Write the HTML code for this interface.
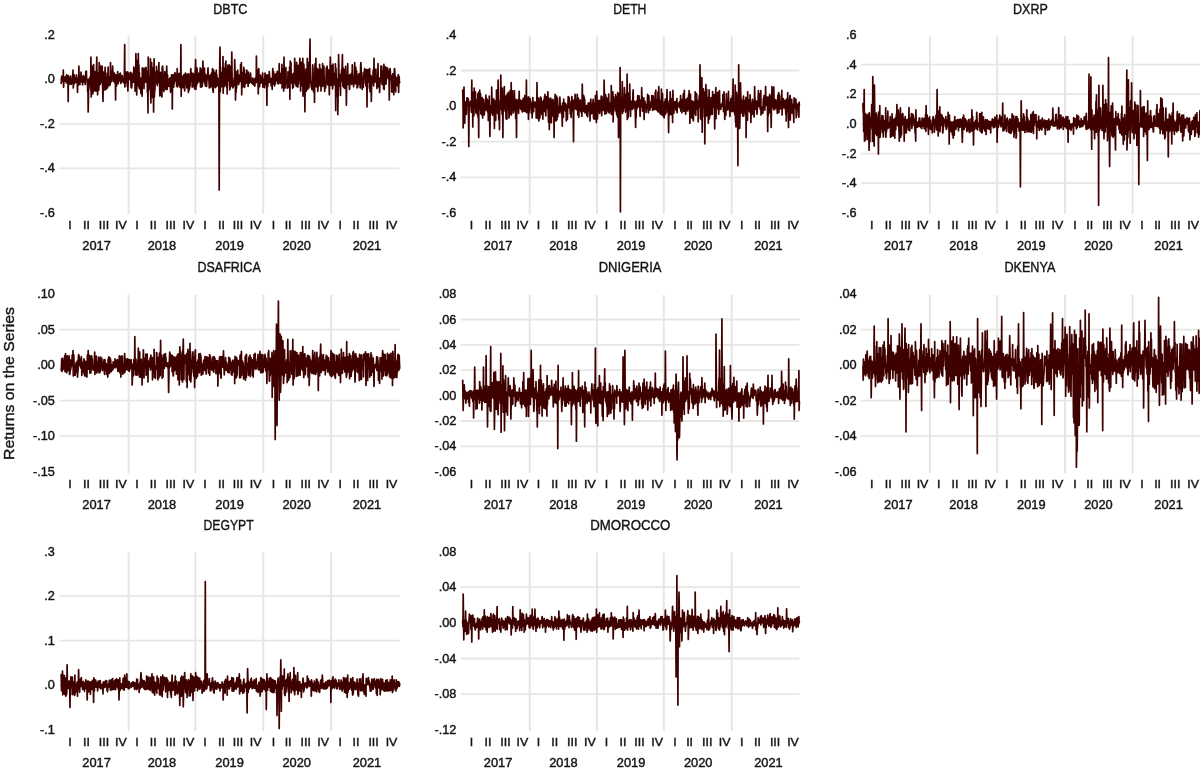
<!DOCTYPE html>
<html lang="en"><head><meta charset="utf-8"><title>Returns on the Series</title>
<style>html,body{margin:0;padding:0;background:#fff}svg{display:block}text{font-family:"Liberation Sans",sans-serif;fill:#141414;stroke:#141414;stroke-width:0.4px}</style></head>
<body>
<svg width="1200" height="771" viewBox="0 0 1200 771">
<rect width="1200" height="771" fill="#fff"/>
<text transform="translate(14.2,383.5) rotate(-90)" text-anchor="middle" font-size="15.5" textLength="153" lengthAdjust="spacingAndGlyphs">Returns on the Series</text>
<g>
<text transform="translate(230.3,13.7) scale(0.835,1)" text-anchor="middle" font-size="15">DBTC</text>
<path d="M59.3 79.4H399.7M59.3 123.9H399.7M59.3 168.4H399.7" stroke="#e6e6e6" stroke-width="1.8" fill="none"/>
<path d="M128.6 35.7V214.1M195.4 35.7V214.1M263.2 35.7V214.1M331.2 35.7V214.1" stroke="#e6e6e6" stroke-width="2" fill="none"/>
<text transform="translate(54.9,38.9) scale(1.06,1)" text-anchor="end" font-size="12">.2</text><text transform="translate(54.9,83.4) scale(1.06,1)" text-anchor="end" font-size="12">.0</text><text transform="translate(54.9,127.9) scale(1.06,1)" text-anchor="end" font-size="12">-.2</text><text transform="translate(54.9,172.4) scale(1.06,1)" text-anchor="end" font-size="12">-.4</text><text transform="translate(54.9,216.9) scale(1.06,1)" text-anchor="end" font-size="12">-.6</text>
<text transform="translate(70.0,229.2) scale(1.09,1)" text-anchor="middle" font-size="11.4">I</text><text transform="translate(86.5,229.2) scale(1.09,1)" text-anchor="middle" font-size="11.4">II</text><text transform="translate(104.0,229.2) scale(1.09,1)" text-anchor="middle" font-size="11.4">III</text><text transform="translate(120.8,229.2) scale(1.09,1)" text-anchor="middle" font-size="11.4">IV</text><text transform="translate(137.0,229.2) scale(1.09,1)" text-anchor="middle" font-size="11.4">I</text><text transform="translate(153.3,229.2) scale(1.09,1)" text-anchor="middle" font-size="11.4">II</text><text transform="translate(170.8,229.2) scale(1.09,1)" text-anchor="middle" font-size="11.4">III</text><text transform="translate(188.3,229.2) scale(1.09,1)" text-anchor="middle" font-size="11.4">IV</text><text transform="translate(205.0,229.2) scale(1.09,1)" text-anchor="middle" font-size="11.4">I</text><text transform="translate(221.5,229.2) scale(1.09,1)" text-anchor="middle" font-size="11.4">II</text><text transform="translate(238.0,229.2) scale(1.09,1)" text-anchor="middle" font-size="11.4">III</text><text transform="translate(255.6,229.2) scale(1.09,1)" text-anchor="middle" font-size="11.4">IV</text><text transform="translate(273.4,229.2) scale(1.09,1)" text-anchor="middle" font-size="11.4">I</text><text transform="translate(288.1,229.2) scale(1.09,1)" text-anchor="middle" font-size="11.4">II</text><text transform="translate(305.8,229.2) scale(1.09,1)" text-anchor="middle" font-size="11.4">III</text><text transform="translate(323.2,229.2) scale(1.09,1)" text-anchor="middle" font-size="11.4">IV</text><text transform="translate(340.3,229.2) scale(1.09,1)" text-anchor="middle" font-size="11.4">I</text><text transform="translate(355.9,229.2) scale(1.09,1)" text-anchor="middle" font-size="11.4">II</text><text transform="translate(373.6,229.2) scale(1.09,1)" text-anchor="middle" font-size="11.4">III</text><text transform="translate(391.5,229.2) scale(1.09,1)" text-anchor="middle" font-size="11.4">IV</text>
<text transform="translate(96.6,249.8) scale(1.07,1)" text-anchor="middle" font-size="12">2017</text><text transform="translate(161.9,249.8) scale(1.07,1)" text-anchor="middle" font-size="12">2018</text><text transform="translate(229.6,249.8) scale(1.07,1)" text-anchor="middle" font-size="12">2019</text><text transform="translate(296.7,249.8) scale(1.07,1)" text-anchor="middle" font-size="12">2020</text><text transform="translate(366.9,249.8) scale(1.07,1)" text-anchor="middle" font-size="12">2021</text>
<polyline points="61.2,83.5 61.5,78.4 61.7,76.1 62,80 62.3,76.6 62.5,77.9 62.8,78.8 63.1,81.9 63.3,70 63.6,87.2 63.9,80.6 64.1,78.2 64.4,80.9 64.7,77.1 64.9,77.5 65.2,79.7 65.5,81 65.8,76.5 66,80.7 66.3,82.9 66.6,74.8 66.8,75.1 67.1,80.2 67.4,82.3 67.6,78.9 67.9,76.8 68.2,101.5 68.4,75.6 68.7,80.5 69,79.2 69.2,78.8 69.5,84.2 69.8,81.9 70,77.1 70.3,77.3 70.6,80.8 70.8,76 71.1,84.4 71.4,83.4 71.6,82.9 71.9,80.9 72.2,81.2 72.4,79.4 72.7,81 73,70 73.3,88 73.5,82.1 73.8,78.3 74.1,84.1 74.3,74.9 74.6,83 74.9,81.1 75.1,82.4 75.4,82.1 75.7,79 75.9,77.7 76.2,82.5 76.5,75.1 76.7,79.7 77,82.8 77.3,82.8 77.5,92.5 77.8,78.5 78.1,79.3 78.3,85.2 78.6,83 78.9,66.2 79.1,76.5 79.4,75.3 79.7,83.7 79.9,84.6 80.2,77.9 80.5,80.3 80.7,81.1 81,72 81.3,80.7 81.6,76.3 81.8,82.1 82.1,77 82.4,81.4 82.6,85 82.9,76.5 83.2,82.4 83.4,75.5 83.7,76 84,77.5 84.2,78.9 84.5,79.3 84.8,81 85,82.8 85.3,84.5 85.6,77.7 85.8,71.3 86.1,80.7 86.4,71.2 86.6,79.4 86.9,79.7 87.2,79.4 87.4,80.7 87.7,92.1 88,91.8 88.2,112 88.5,93.1 88.8,79.1 89.1,81.3 89.3,82.9 89.6,78.3 89.9,79.2 90.1,76.8 90.4,85.5 90.7,90 90.9,57.2 91.2,97 91.5,89.1 91.7,82.4 92,89.8 92.3,66.3 92.5,73.7 92.8,94 93.1,80.5 93.3,91.8 93.6,64.6 93.9,90.6 94.1,88.2 94.4,81.3 94.7,90.7 94.9,71.6 95.2,79.6 95.5,72 95.7,73.1 96,91.1 96.3,88.7 96.5,68.7 96.8,57.2 97.1,88.8 97.4,80.6 97.6,94.8 97.9,78.5 98.2,73.2 98.4,75.9 98.7,90.4 99,84.4 99.2,62.5 99.5,82.8 99.8,65.1 100,82.1 100.3,84.3 100.6,73.7 100.8,78 101.1,82.2 101.4,66.7 101.6,80.7 101.9,76.2 102.2,66.2 102.4,82 102.7,88.8 103,101.5 103.2,85.2 103.5,72.1 103.8,81.1 104,79.5 104.3,83.3 104.6,74.4 104.9,90.1 105.1,67.3 105.4,88.3 105.7,78.5 105.9,73 106.2,89.2 106.5,79.8 106.7,77.4 107,87.4 107.3,77.9 107.5,88 107.8,80 108.1,67 108.3,75.8 108.6,79.5 108.9,81.3 109.1,85.8 109.4,81.9 109.7,80.4 109.9,76.5 110.2,84.8 110.5,62.5 110.7,80.6 111,82 111.3,81.6 111.5,75.9 111.8,77.3 112.1,71.1 112.3,77 112.6,66.2 112.9,71.2 113.2,81.2 113.4,76.6 113.7,80.1 114,75.2 114.2,81.9 114.5,73.2 114.8,77.1 115,83.3 115.3,77.2 115.6,100 115.8,79 116.1,75 116.4,74.9 116.6,85.9 116.9,78.5 117.2,80.6 117.4,77.9 117.7,71.5 118,78 118.2,83.6 118.5,78.2 118.8,81.6 119,78.1 119.3,79.8 119.6,75.3 119.8,73.7 120.1,80.7 120.4,73 120.7,78 120.9,83.5 121.2,79.9 121.5,81.7 121.7,80.5 122,79.6 122.3,75.5 122.5,81.4 122.8,81.7 123.1,80.2 123.3,81.4 123.6,82.8 123.9,78.8 124.1,81.7 124.4,71.7 124.7,44.5 124.9,87 125.2,80.9 125.5,80.1 125.7,71.8 126,82.4 126.3,80.8 126.5,72.9 126.8,73 127.1,75.7 127.3,86.6 127.6,71.9 127.9,91 128.2,81.5 128.4,77.4 128.7,73.4 129,78.4 129.2,79.6 129.5,76.4 129.8,73.3 130,73 130.3,79 130.6,72.4 130.8,77.7 131.1,87.4 131.4,73.1 131.6,88 131.9,85.2 132.2,75.6 132.4,80.9 132.7,81.4 133,82.2 133.2,73.4 133.5,79.2 133.8,67.2 134,76.3 134.3,82.3 134.6,70 134.8,69.1 135.1,91.2 135.4,71.7 135.6,81.4 135.9,53.5 136.2,74.4 136.5,60.2 136.7,94.8 137,71.6 137.3,83.9 137.5,85.6 137.8,80.8 138.1,74.4 138.3,53.5 138.6,86 138.9,64.9 139.1,87.9 139.4,72.7 139.7,88.8 139.9,77.9 140.2,86.3 140.5,78.5 140.7,87 141,93.7 141.3,78.1 141.5,83.8 141.8,79.8 142.1,96.2 142.3,67.9 142.6,69.5 142.9,73.4 143.1,69.1 143.4,68.5 143.7,76.6 144,88.7 144.2,75.9 144.5,78.9 144.8,76.9 145,70.4 145.3,67.7 145.6,82.3 145.8,78.5 146.1,67.5 146.4,80.4 146.6,71.2 146.9,71.9 147.2,78.6 147.4,92.4 147.7,77.2 148,112.8 148.2,57.2 148.5,90.7 148.8,77.1 149,76.1 149.3,80.7 149.6,84.6 149.8,85.2 150.1,88.7 150.4,58.8 150.6,92.9 150.9,103 151.2,77.9 151.4,62.5 151.7,62.5 152,97.4 152.3,74.3 152.5,74.3 152.8,70.4 153.1,67.6 153.3,81.6 153.6,112 153.9,79.3 154.1,58.8 154.4,97.2 154.7,85 154.9,90.8 155.2,79.6 155.5,76.4 155.7,82.9 156,71.7 156.3,81.8 156.5,66.3 156.8,83.2 157.1,76.6 157.3,85.6 157.6,79.6 157.9,71 158.1,80.6 158.4,81 158.7,72.8 158.9,62.5 159.2,83.1 159.5,75.1 159.8,95.8 160,77.4 160.3,90.9 160.6,72.4 160.8,95.5 161.1,79.2 161.4,90.2 161.6,78.1 161.9,97 162.2,67.1 162.4,78.6 162.7,66.2 163,75.4 163.2,87.4 163.5,90.4 163.8,77.2 164,91.6 164.3,78.3 164.6,80.5 164.8,71.7 165.1,82 165.4,74.5 165.6,80.2 165.9,89.5 166.2,81.1 166.4,80.1 166.7,66.2 167,78.2 167.2,89.5 167.5,74.7 167.8,80.8 168.1,86.5 168.3,80.6 168.6,84.8 168.9,79.3 169.1,80.5 169.4,86.5 169.7,78.4 169.9,85.4 170.2,77.8 170.5,92.3 170.7,78.8 171,83.7 171.3,82.4 171.5,75.2 171.8,82.2 172.1,74.5 172.3,109 172.6,75.1 172.9,86.9 173.1,75.9 173.4,85.7 173.7,87.2 173.9,74.5 174.2,83.6 174.5,78.5 174.7,75.2 175,72.7 175.3,79.7 175.6,80.5 175.8,81.1 176.1,79.5 176.4,74.3 176.6,86.5 176.9,80.5 177.2,68.5 177.4,75.3 177.7,87 178,73.6 178.2,79.1 178.5,84.1 178.8,84.9 179,82.8 179.3,81.1 179.6,73.3 179.8,85 180.1,87.3 180.4,85.4 180.6,81.5 180.9,44.5 181.2,96.2 181.4,79.2 181.7,75.7 182,76.3 182.2,78.7 182.5,81.6 182.8,87.9 183,82 183.3,80.1 183.6,77.1 183.9,75.3 184.1,74.4 184.4,85.2 184.7,91 184.9,78.1 185.2,79.2 185.5,73 185.7,81 186,74.9 186.3,81 186.5,82.2 186.8,88 187.1,76.3 187.3,74 187.6,76 187.9,81 188.1,76.1 188.4,92.5 188.7,73.9 188.9,90.6 189.2,81.7 189.5,88.9 189.7,82.1 190,86.3 190.3,80.2 190.5,76 190.8,68.5 191.1,77.3 191.4,80.8 191.6,73.9 191.9,73.2 192.2,87.2 192.4,73.5 192.7,74.3 193,73.3 193.2,77.6 193.5,86.4 193.8,74.3 194,80.8 194.3,77.5 194.6,88.8 194.8,74.6 195.1,73.8 195.4,67.9 195.6,59.5 195.9,89.5 196.2,68.7 196.4,86.2 196.7,68 197,68.1 197.2,74.2 197.5,83.5 197.8,78.5 198,75 198.3,77.2 198.6,75.1 198.8,73 199.1,81.6 199.4,78.6 199.7,79.8 199.9,78.1 200.2,67.8 200.5,86.8 200.7,78.7 201,68.8 201.3,87.2 201.5,83 201.8,82 202.1,74.9 202.3,86.3 202.6,78 202.9,61 203.1,69.6 203.4,79.7 203.7,70.7 203.9,81.5 204.2,77.7 204.5,68.1 204.7,83.1 205,73.6 205.3,85.9 205.5,85.9 205.8,75.2 206.1,79.1 206.3,81.2 206.6,86.5 206.9,81.3 207.2,77.6 207.4,74.8 207.7,73.6 208,67.8 208.2,74.6 208.5,75.4 208.8,77.1 209,81.8 209.3,88 209.6,80.3 209.8,80.6 210.1,87.6 210.4,74.9 210.6,79.3 210.9,86.8 211.2,74.6 211.4,75 211.7,72.9 212,86.4 212.2,76.5 212.5,68.5 212.8,90.8 213,82.8 213.3,92.5 213.6,70 213.8,77.7 214.1,72 214.4,82.3 214.6,74.8 214.9,86.9 215.2,73.9 215.5,87.7 215.7,72.9 216,80 216.3,70 216.5,86.3 216.8,74.8 217.1,85.7 217.3,77.7 217.6,83.1 217.9,78.3 218.1,79.3 218.4,83.8 218.7,86.4 218.9,88.6 219.2,190 219.5,78.2 219.7,64.2 220,47.2 220.3,91.8 220.5,66.8 220.8,87.4 221.1,72.9 221.3,82.7 221.6,72.6 221.9,80.7 222.1,86.4 222.4,85.9 222.7,85.9 223,56.5 223.2,93.2 223.5,78.2 223.8,77.6 224,68.1 224.3,86.5 224.6,84.6 224.8,84 225.1,85 225.4,63.6 225.6,82.6 225.9,61 226.2,81.5 226.4,84.2 226.7,87.3 227,74.5 227.2,94 227.5,77.2 227.8,66.9 228,65.1 228.3,67.3 228.6,80.7 228.8,80.1 229.1,64.8 229.4,71.8 229.6,84.9 229.9,89.9 230.2,82 230.4,66.3 230.7,79.8 231,86.7 231.3,83.4 231.5,73.4 231.8,52 232.1,80.7 232.3,77.8 232.6,80.9 232.9,88 233.1,86.2 233.4,86 233.7,83.2 233.9,82.8 234.2,85.7 234.5,74.9 234.7,59.5 235,69.5 235.3,79.9 235.5,100 235.8,86.2 236.1,92.2 236.3,77.6 236.6,88.1 236.9,71.5 237.1,75.1 237.4,74.5 237.7,70.1 237.9,80.1 238.2,79.8 238.5,84.7 238.8,84 239,82.3 239.3,75.1 239.6,81 239.8,76.5 240.1,77.6 240.4,81.5 240.6,64.6 240.9,78.3 241.2,72.7 241.4,62.5 241.7,94.8 242,77.1 242.2,72.3 242.5,83.8 242.8,74.5 243,86.8 243.3,82 243.6,80.4 243.8,67.4 244.1,79.5 244.4,69.7 244.6,87.4 244.9,83.3 245.2,78.2 245.4,83.5 245.7,74 246,83.5 246.3,74.8 246.5,83 246.8,70 247.1,74.6 247.3,82.3 247.6,77.5 247.9,79.1 248.1,86.5 248.4,72.1 248.7,77.2 248.9,79.7 249.2,79.1 249.5,83 249.7,78.3 250,77.5 250.3,76.4 250.5,73 250.8,78 251.1,82.3 251.3,78.6 251.6,80.7 251.9,83.5 252.1,80.9 252.4,79.2 252.7,81.4 252.9,78.1 253.2,84.4 253.5,84.7 253.7,79.9 254,84.4 254.3,81.4 254.6,85.8 254.8,86.1 255.1,78.2 255.4,81.4 255.6,79.6 255.9,79.6 256.2,82.7 256.4,56.2 256.7,77.4 257,69.5 257.2,70.8 257.5,75.7 257.8,79.5 258,82.7 258.3,94 258.6,78.7 258.8,68.5 259.1,85.5 259.4,79.6 259.6,86.6 259.9,78.9 260.2,77.1 260.4,75.2 260.7,78.2 261,83.1 261.2,81.6 261.5,79.3 261.8,80.6 262.1,78.3 262.3,78.6 262.6,73 262.9,87.2 263.1,78.5 263.4,84.9 263.7,80.9 263.9,87 264.2,79.3 264.5,87.7 264.7,84.2 265,73.1 265.3,77.2 265.5,76 265.8,84.2 266.1,75.2 266.3,81.2 266.6,82.5 266.9,105.2 267.1,78.9 267.4,74.8 267.7,86.7 267.9,83.8 268.2,82 268.5,79 268.7,81.9 269,79.8 269.3,71.5 269.5,75.6 269.8,82.4 270.1,81.6 270.4,79.1 270.6,79.9 270.9,78.3 271.2,86 271.4,79 271.7,80.3 272,83.9 272.2,89.5 272.5,78.5 272.8,68.5 273,79.7 273.3,81.1 273.6,71.6 273.8,83.9 274.1,79.7 274.4,81.3 274.6,86 274.9,78.9 275.2,83.9 275.4,74.5 275.7,74 276,76.9 276.2,75.9 276.5,80.6 276.8,74.6 277,73 277.3,71.4 277.6,83.5 277.9,82.7 278.1,77 278.4,84 278.7,72 278.9,81.3 279.2,63.7 279.5,80.9 279.7,76.3 280,74 280.3,83.4 280.5,81.4 280.8,80.6 281.1,73.1 281.3,80.4 281.6,80.2 281.9,64.4 282.1,88 282.4,74.6 282.7,78.8 282.9,73 283.2,71.6 283.5,68.6 283.7,91 284,57.2 284.3,75.2 284.5,82.8 284.8,71.8 285.1,88 285.3,73.7 285.6,80.3 285.9,67.5 286.2,83.3 286.4,81.8 286.7,81.4 287,81.8 287.2,88.2 287.5,79.5 287.8,84.1 288,71.8 288.3,72.2 288.6,87.5 288.8,79.3 289.1,78 289.4,84.3 289.6,66.9 289.9,99.2 290.2,61 290.4,81.9 290.7,73.1 291,62.7 291.2,82.8 291.5,76 291.8,76.4 292,74 292.3,79.4 292.6,88.3 292.8,84.6 293.1,74.4 293.4,87.3 293.7,73.1 293.9,76.7 294.2,75.6 294.5,73.8 294.7,58.3 295,73.3 295.3,83.9 295.5,77.3 295.8,78.4 296.1,83 296.3,86.5 296.6,62.3 296.9,74 297.1,85.1 297.4,84.4 297.7,69.3 297.9,87.1 298.2,65.3 298.5,84.1 298.7,78.2 299,79.6 299.3,79.9 299.5,73.5 299.8,58.3 300.1,62.7 300.3,69 300.6,91 300.9,79.6 301.1,67.6 301.4,82.6 301.7,62.3 302,77.1 302.2,79.8 302.5,86.1 302.8,58.3 303,96.2 303.3,80.3 303.6,85.2 303.8,64.2 304.1,70 304.4,83.3 304.6,73.4 304.9,111.7 305.2,73.6 305.4,85.8 305.7,79.8 306,69 306.2,91.5 306.5,82.1 306.8,82 307,87.3 307.3,58.3 307.6,89.4 307.8,82.9 308.1,62.3 308.4,87.3 308.6,79.3 308.9,88 309.2,80 309.5,81.1 309.7,62.3 310,39.2 310.3,80.8 310.5,82.5 310.8,81.4 311.1,84.8 311.3,87.1 311.6,84.2 311.9,89.4 312.1,85 312.4,74.2 312.7,64.9 312.9,68 313.2,87.7 313.5,91.8 313.7,78.9 314,83.3 314.3,78.4 314.5,102.2 314.8,70.8 315.1,63.7 315.3,85.6 315.6,79.9 315.9,58.3 316.1,72.8 316.4,86.9 316.7,75.7 316.9,81.8 317.2,68.6 317.5,78.5 317.8,91.4 318,83.9 318.3,87.1 318.6,69.9 318.8,86.2 319.1,84.1 319.4,84.9 319.6,64.3 319.9,75.4 320.2,81.2 320.4,76.7 320.7,69.2 321,91 321.2,78.1 321.5,70.7 321.8,79.5 322,69.4 322.3,86.3 322.6,63.7 322.8,86.2 323.1,81.3 323.4,68 323.6,78.3 323.9,66 324.2,81.4 324.4,82.4 324.7,91.4 325,85.2 325.3,83 325.5,88 325.8,86.4 326.1,75.7 326.3,67.8 326.6,78.2 326.9,82.7 327.1,66.2 327.4,74.8 327.7,84.8 327.9,70.2 328.2,72.9 328.5,77.9 328.7,69.8 329,81 329.3,94.8 329.5,78.4 329.8,80.7 330.1,70.9 330.3,57.2 330.6,71.3 330.9,85.5 331.1,66.8 331.4,65.6 331.7,79.2 331.9,84.8 332.2,65.5 332.5,88.8 332.7,88.1 333,64 333.3,85.1 333.6,77.4 333.8,82.6 334.1,83.5 334.4,73.6 334.6,78.8 334.9,80.1 335.2,85.7 335.4,63.9 335.7,110.5 336,68.2 336.2,78.3 336.5,80.7 336.8,78.8 337,79.1 337.3,96.6 337.6,78.6 337.8,114.5 338.1,97.9 338.4,73.1 338.6,54.7 338.9,71.5 339.2,81.7 339.4,85.7 339.7,75.2 340,86.4 340.2,82.7 340.5,95.5 340.8,74.2 341.1,81.4 341.3,76.5 341.6,69.6 341.9,73.3 342.1,68.1 342.4,54.7 342.7,79.1 342.9,86.2 343.2,67.8 343.5,81.1 343.7,87.4 344,85.1 344.3,69.5 344.5,88.3 344.8,84.1 345.1,77.3 345.3,87.5 345.6,66.4 345.9,78.8 346.1,83.8 346.4,105.2 346.7,80.5 346.9,85.9 347.2,77.1 347.5,77.2 347.7,63.7 348,83.6 348.3,80.2 348.6,84.7 348.8,78.8 349.1,75.5 349.4,88.7 349.6,89.5 349.9,74.7 350.2,80 350.4,82.1 350.7,83.7 351,77.7 351.2,82.6 351.5,73.2 351.8,84.5 352,80.5 352.3,64.8 352.6,82 352.8,77.4 353.1,77.3 353.4,76.1 353.6,86.8 353.9,79.7 354.2,82.6 354.4,78.2 354.7,62.5 355,78.4 355.2,83.9 355.5,80.5 355.8,67.3 356,75.5 356.3,80.2 356.6,70.8 356.9,82.8 357.1,88 357.4,80.2 357.7,87.3 357.9,82.6 358.2,79.5 358.5,74.7 358.7,84.3 359,73.7 359.3,77.6 359.5,83.6 359.8,77.7 360.1,86.2 360.3,88 360.6,66.3 360.9,62.5 361.1,68.2 361.4,81.6 361.7,72.4 361.9,73.4 362.2,89.5 362.5,82.8 362.7,82.2 363,82.4 363.3,87.5 363.5,79.7 363.8,76.2 364.1,71.9 364.4,76.5 364.6,68.5 364.9,79.1 365.2,70.9 365.4,83.4 365.7,83.9 366,86.1 366.2,69.6 366.5,77.3 366.8,80.9 367,106.8 367.3,70.2 367.6,82.3 367.8,69.6 368.1,76.1 368.4,69.6 368.6,81.9 368.9,81.8 369.2,74.5 369.4,88.2 369.7,68.5 370,91.6 370.2,79.1 370.5,79.8 370.8,76.9 371,75.6 371.3,101.5 371.6,85.5 371.8,84.2 372.1,81.4 372.4,76.8 372.7,79.1 372.9,80 373.2,69.9 373.5,80.8 373.7,85.9 374,58.3 374.3,81.7 374.5,74.4 374.8,74.2 375.1,82.1 375.3,81.8 375.6,76.1 375.9,69.1 376.1,81.2 376.4,78 376.7,75.1 376.9,88.5 377.2,81.6 377.5,75.9 377.7,82.9 378,63.7 378.3,83.6 378.5,86.8 378.8,87 379.1,78.1 379.3,79.8 379.6,92.5 379.9,83.7 380.2,81.7 380.4,79.8 380.7,78.7 381,65.9 381.2,74 381.5,80.9 381.8,66.7 382,84.2 382.3,70.6 382.6,78.1 382.8,79.9 383.1,85.3 383.4,70.6 383.6,88.7 383.9,64.3 384.2,89.5 384.4,74.7 384.7,84 385,82.7 385.2,70.9 385.5,66.8 385.8,76.3 386,84.2 386.3,79.6 386.6,73.5 386.8,69 387.1,67.8 387.4,69.7 387.6,68.1 387.9,73.4 388.2,78.4 388.5,75.2 388.7,71.7 389,77.2 389.3,100 389.5,74.2 389.8,69.5 390.1,68.5 390.3,70.9 390.6,79 390.9,79.6 391.1,75.7 391.4,80.9 391.7,92 391.9,75.9 392.2,92.1 392.5,82.4 392.7,73.9 393,82.2 393.3,84.7 393.5,79.4 393.8,94.8 394.1,83.6 394.3,69.6 394.6,68.5 394.9,72.7 395.1,81 395.4,77.8 395.7,91.9 396,77 396.2,85.1 396.5,84.9 396.8,79 397,81.4 397.3,85.7 397.6,78.1 397.8,83.1 398.1,76 398.4,74.5 398.6,92.5 398.9,80.5 399.2,76.8 399.4,82.9 399.7,82.2" fill="none" stroke="#3f0000" stroke-width="1.7" stroke-linejoin="round" stroke-linecap="round"/>
</g>
<g>
<text transform="translate(629.8,13.7) scale(0.816,1)" text-anchor="middle" font-size="15">DETH</text>
<path d="M460.8 70.5H799.4M460.8 106.1H799.4M460.8 141.7H799.4M460.8 177.3H799.4" stroke="#e6e6e6" stroke-width="1.8" fill="none"/>
<path d="M529.7 35.7V214.1M597.0 35.7V214.1M663.8 35.7V214.1M731.7 35.7V214.1" stroke="#e6e6e6" stroke-width="2" fill="none"/>
<text transform="translate(456.4,38.9) scale(1.06,1)" text-anchor="end" font-size="12">.4</text><text transform="translate(456.4,74.5) scale(1.06,1)" text-anchor="end" font-size="12">.2</text><text transform="translate(456.4,110.1) scale(1.06,1)" text-anchor="end" font-size="12">.0</text><text transform="translate(456.4,145.7) scale(1.06,1)" text-anchor="end" font-size="12">-.2</text><text transform="translate(456.4,181.3) scale(1.06,1)" text-anchor="end" font-size="12">-.4</text><text transform="translate(456.4,216.9) scale(1.06,1)" text-anchor="end" font-size="12">-.6</text>
<text transform="translate(471.5,229.2) scale(1.09,1)" text-anchor="middle" font-size="11.4">I</text><text transform="translate(488.0,229.2) scale(1.09,1)" text-anchor="middle" font-size="11.4">II</text><text transform="translate(505.5,229.2) scale(1.09,1)" text-anchor="middle" font-size="11.4">III</text><text transform="translate(522.3,229.2) scale(1.09,1)" text-anchor="middle" font-size="11.4">IV</text><text transform="translate(538.5,229.2) scale(1.09,1)" text-anchor="middle" font-size="11.4">I</text><text transform="translate(554.8,229.2) scale(1.09,1)" text-anchor="middle" font-size="11.4">II</text><text transform="translate(572.3,229.2) scale(1.09,1)" text-anchor="middle" font-size="11.4">III</text><text transform="translate(589.8,229.2) scale(1.09,1)" text-anchor="middle" font-size="11.4">IV</text><text transform="translate(606.5,229.2) scale(1.09,1)" text-anchor="middle" font-size="11.4">I</text><text transform="translate(623.0,229.2) scale(1.09,1)" text-anchor="middle" font-size="11.4">II</text><text transform="translate(639.5,229.2) scale(1.09,1)" text-anchor="middle" font-size="11.4">III</text><text transform="translate(657.1,229.2) scale(1.09,1)" text-anchor="middle" font-size="11.4">IV</text><text transform="translate(674.9,229.2) scale(1.09,1)" text-anchor="middle" font-size="11.4">I</text><text transform="translate(689.6,229.2) scale(1.09,1)" text-anchor="middle" font-size="11.4">II</text><text transform="translate(707.3,229.2) scale(1.09,1)" text-anchor="middle" font-size="11.4">III</text><text transform="translate(724.7,229.2) scale(1.09,1)" text-anchor="middle" font-size="11.4">IV</text><text transform="translate(741.8,229.2) scale(1.09,1)" text-anchor="middle" font-size="11.4">I</text><text transform="translate(757.4,229.2) scale(1.09,1)" text-anchor="middle" font-size="11.4">II</text><text transform="translate(775.1,229.2) scale(1.09,1)" text-anchor="middle" font-size="11.4">III</text><text transform="translate(793.0,229.2) scale(1.09,1)" text-anchor="middle" font-size="11.4">IV</text>
<text transform="translate(498.1,249.8) scale(1.07,1)" text-anchor="middle" font-size="12">2017</text><text transform="translate(563.4,249.8) scale(1.07,1)" text-anchor="middle" font-size="12">2018</text><text transform="translate(631.1,249.8) scale(1.07,1)" text-anchor="middle" font-size="12">2019</text><text transform="translate(698.2,249.8) scale(1.07,1)" text-anchor="middle" font-size="12">2020</text><text transform="translate(768.4,249.8) scale(1.07,1)" text-anchor="middle" font-size="12">2021</text>
<polyline points="462.7,90.2 463,101.4 463.2,127.8 463.5,102.4 463.8,101.3 464,87.2 464.3,113.2 464.6,102.1 464.8,123.1 465.1,101.7 465.4,103.1 465.6,111.2 465.9,105.2 466.2,112.7 466.4,114.3 466.7,102.4 467,97.8 467.2,98.8 467.5,97.8 467.8,103.3 468,104.8 468.3,98.5 468.6,121.8 468.8,146.5 469.1,107.3 469.4,104 469.6,105.2 469.9,105 470.2,101.3 470.4,105.7 470.7,102 471,103.9 471.2,110.4 471.5,112.5 471.8,80.2 472,102.6 472.3,107.1 472.6,92.7 472.8,127 473.1,92.3 473.4,114.4 473.6,104.8 473.9,115.8 474.2,88 474.4,99.3 474.7,107.5 475,106.4 475.2,101.8 475.5,91.9 475.8,111.7 476,113.1 476.3,109.3 476.6,105.1 476.8,110.7 477.1,102.4 477.4,99.3 477.6,115.2 477.9,93.7 478.1,117.4 478.4,102 478.7,137.5 478.9,92.2 479.2,109.6 479.5,104.6 479.7,90.2 480,99.3 480.3,106.4 480.5,93.7 480.8,113.7 481.1,111.5 481.3,105 481.6,111 481.9,114.9 482.1,97.5 482.4,100.6 482.7,117.9 482.9,100.6 483.2,99.6 483.5,110.9 483.7,99.3 484,112 484.3,115 484.5,106.7 484.8,103.7 485.1,104.2 485.3,105.1 485.6,110.3 485.9,95.2 486.1,102.9 486.4,109.1 486.7,109.4 486.9,98.9 487.2,102.7 487.5,112 487.7,108.7 488,100.3 488.3,120.4 488.5,112.6 488.8,101.8 489.1,115.8 489.3,96 489.6,115.4 489.9,136.4 490.1,117.5 490.4,105.8 490.7,109.6 490.9,112.7 491.2,105.3 491.5,113 491.7,87.2 492,101.3 492.3,103.4 492.5,115.3 492.8,99.4 493.1,104.9 493.3,99.9 493.6,98.8 493.9,109.4 494.1,100.2 494.4,128.5 494.7,101.7 494.9,120 495.2,101 495.5,105.9 495.7,120.4 496,103.6 496.3,110.7 496.5,90.1 496.8,104.6 497.1,89.9 497.3,100.6 497.6,113.5 497.9,103.8 498.1,80.2 498.4,99.4 498.7,119.4 498.9,108.3 499.2,111 499.5,129.6 499.7,104.5 500,103.4 500.3,100.4 500.5,107.6 500.8,75 501.1,109.4 501.3,109.6 501.6,103.2 501.9,104.4 502.1,114.5 502.4,88.1 502.7,114.4 502.9,137.5 503.2,96.6 503.5,101.7 503.7,102.8 504,111.1 504.3,86.5 504.5,107.8 504.8,106.4 505.1,106 505.3,105.3 505.6,96 505.9,113.6 506.1,118.9 506.4,108.6 506.7,116.7 506.9,119.4 507.2,94 507.5,104.7 507.7,109.7 508,108.3 508.3,92.4 508.5,97.2 508.8,99.1 509,118 509.3,111.5 509.6,106.7 509.8,110.9 510.1,90.5 510.4,111.5 510.6,112.9 510.9,114.7 511.2,82.5 511.4,114.9 511.7,101.6 512,104 512.2,107.2 512.5,90.8 512.8,109.1 513,102.6 513.3,112.9 513.6,110.6 513.8,101.1 514.1,110.5 514.4,90.5 514.6,101.6 514.9,105.6 515.2,108.5 515.4,105.8 515.7,118.5 516,107.7 516.2,99.3 516.5,137.5 516.8,101.7 517,105.1 517.3,105 517.6,110.2 517.8,100.1 518.1,100.5 518.4,108.7 518.6,113.4 518.9,103.4 519.2,91.4 519.4,108 519.7,104.5 520,103.5 520.2,100 520.5,102.9 520.8,109.3 521,100.8 521.3,107 521.6,105.9 521.8,100.5 522.1,111.1 522.4,112 522.6,108.8 522.9,107.7 523.2,98.4 523.4,98.4 523.7,108.7 524,109.4 524.2,111.3 524.5,109.1 524.8,95.7 525,104.9 525.3,110 525.6,106.6 525.8,111.7 526.1,106.5 526.4,80.2 526.6,112.6 526.9,100.9 527.2,97 527.4,101 527.7,109 528,101.4 528.2,111.5 528.5,119.5 528.8,96.9 529,113.1 529.3,110.5 529.6,107.5 529.8,105.8 530.1,98.5 530.4,103.5 530.6,101.5 530.9,103.4 531.2,105.1 531.4,113.2 531.7,105.5 532,109.8 532.2,118 532.5,107.5 532.8,97.6 533,101.9 533.3,101.7 533.6,111.7 533.8,106.1 534.1,107.3 534.4,104.8 534.6,102.2 534.9,106.9 535.2,105.5 535.4,102.8 535.7,104.1 536,102 536.2,118 536.5,111.6 536.8,107 537,82.5 537.3,112.3 537.6,118.4 537.8,102.7 538.1,108 538.4,111.5 538.6,98 538.9,121 539.2,102.3 539.4,105.1 539.7,103.5 539.9,118.1 540.2,107.1 540.5,97 540.7,103.4 541,97.6 541.3,100 541.5,100.8 541.8,114.4 542.1,105.2 542.3,107.4 542.6,113.9 542.9,119.2 543.1,101.6 543.4,104.6 543.7,101.8 543.9,99.8 544.2,108.4 544.5,96.7 544.7,111.4 545,94.3 545.3,106.4 545.5,108.9 545.8,116 546.1,100.7 546.3,96.5 546.6,103.5 546.9,105.5 547.1,108.7 547.4,103.6 547.7,102.9 547.9,91.8 548.2,110.6 548.5,122.2 548.7,106.3 549,98.5 549.3,129.6 549.5,118 549.8,112.5 550.1,118.5 550.3,122.1 550.6,98.1 550.9,105.2 551.1,103.7 551.4,122.7 551.7,103.3 551.9,102.5 552.2,99.6 552.5,114.2 552.7,116 553,99.6 553.3,102.8 553.5,108.4 553.8,102.3 554.1,137.5 554.3,104.6 554.6,103.5 554.9,101.4 555.1,94.3 555.4,107.2 555.7,105.7 555.9,121 556.2,116.5 556.5,96.1 556.7,111 557,119.8 557.3,100.1 557.5,98.2 557.8,116.7 558.1,106 558.3,107.9 558.6,108.6 558.9,113 559.1,112.9 559.4,110.2 559.7,103.9 559.9,97 560.2,105.2 560.5,105.5 560.7,107.7 561,111.5 561.3,113.3 561.5,109.2 561.8,106.2 562.1,118.2 562.3,126.2 562.6,103 562.9,112.7 563.1,105.7 563.4,117.3 563.7,99.2 563.9,102.2 564.2,105.3 564.5,105.7 564.7,104.7 565,107 565.3,111 565.5,103.3 565.8,110.9 566.1,104.7 566.3,121 566.6,113.6 566.9,107 567.1,106.1 567.4,119.5 567.7,109.2 567.9,105.8 568.2,96.7 568.5,102.1 568.7,99.4 569,100.1 569.3,97.6 569.5,107.9 569.8,101.1 570,104.7 570.3,113.9 570.6,112.1 570.8,108.6 571.1,117.4 571.4,106.2 571.6,106 571.9,96.5 572.2,104.7 572.4,99.8 572.7,103.5 573,110.5 573.2,112.3 573.5,141.6 573.8,108.2 574,100.5 574.3,100 574.6,108.5 574.8,107.6 575.1,94.3 575.4,107.2 575.6,104.7 575.9,109.2 576.2,105.4 576.4,109.6 576.7,99.4 577,105 577.2,94.3 577.5,99 577.8,114.9 578,106.7 578.3,98.2 578.6,99.8 578.8,117.2 579.1,106.3 579.4,100.7 579.6,102.2 579.9,100.3 580.2,110.7 580.4,100.1 580.7,110.2 581,111.8 581.2,106.1 581.5,106.4 581.8,116.5 582,107 582.3,84.2 582.6,110.6 582.8,111.7 583.1,107.8 583.4,103.1 583.6,95.3 583.9,111 584.2,97.2 584.4,107.4 584.7,99.4 585,113.1 585.2,104.9 585.5,105.4 585.8,108.3 586,107.4 586.3,106.1 586.6,105.6 586.8,115.5 587.1,112.4 587.4,110.5 587.6,116.8 587.9,113.1 588.2,103.4 588.4,105 588.7,110.9 589,102.9 589.2,106.1 589.5,111 589.8,104.1 590,121 590.3,108 590.6,103.9 590.8,99.2 591.1,105.1 591.4,113 591.6,113.7 591.9,112.4 592.2,104.9 592.4,106.5 592.7,107.2 593,100.7 593.2,99.4 593.5,117.2 593.8,118.8 594,108.9 594.3,103.9 594.6,103.1 594.8,107.8 595.1,119.3 595.4,95.5 595.6,110.5 595.9,104 596.2,106 596.4,122.5 596.7,91.4 597,98.6 597.2,114.4 597.5,118.9 597.8,110 598,104.2 598.3,104.6 598.6,104.2 598.8,100.3 599.1,101 599.4,108.5 599.6,113.4 599.9,110.1 600.2,100.6 600.4,109.7 600.7,101.1 600.9,103.2 601.2,96.2 601.5,106.2 601.7,115.8 602,96.6 602.3,105.9 602.5,106.6 602.8,98.5 603.1,107.5 603.3,110.4 603.6,107.5 603.9,102.6 604.1,80.2 604.4,94.7 604.7,109.5 604.9,114.2 605.2,110.9 605.5,94.7 605.7,95.9 606,107.3 606.3,109.6 606.5,113.3 606.8,97.9 607.1,102.6 607.3,102.6 607.6,107.8 607.9,99.6 608.1,106 608.4,111.8 608.7,94 608.9,104.7 609.2,113 609.5,103 609.7,111.1 610,108.7 610.3,109.1 610.5,108 610.8,102.3 611.1,113.8 611.3,85.5 611.6,114.4 611.9,109.3 612.1,112.4 612.4,105.1 612.7,102.8 612.9,91.9 613.2,121.8 613.5,96.5 613.7,109.8 614,110.6 614.3,101.8 614.5,99.2 614.8,98.8 615.1,102.7 615.3,105.2 615.6,94.7 615.9,109.3 616.1,111.8 616.4,110.4 616.7,114.7 616.9,110.6 617.2,96.7 617.5,116.9 617.7,92.5 618,116.4 618.3,99.3 618.5,137.5 618.8,93.6 619.1,110.7 619.3,104.6 619.6,106.7 619.9,108.4 620.1,67.5 620.4,211.8 620.7,106.5 620.9,102 621.2,97.8 621.5,108.1 621.7,98.5 622,96.8 622.3,81.7 622.5,113.4 622.8,103.1 623.1,111.7 623.3,102.3 623.6,107.8 623.9,97.2 624.1,98.1 624.4,87.5 624.7,95 624.9,101.4 625.2,109.7 625.5,112.1 625.7,101.4 626,94.4 626.3,98.2 626.5,106.8 626.8,109.3 627.1,74 627.3,119.5 627.6,115.9 627.9,92.8 628.1,117.4 628.4,110.1 628.7,108.2 628.9,101 629.2,108.7 629.5,109.4 629.7,84.2 630,96.8 630.3,107.6 630.5,116.5 630.8,104 631,108.4 631.3,108.1 631.6,109.2 631.8,101.2 632.1,107.5 632.4,106.9 632.6,109.3 632.9,93.4 633.2,89.8 633.4,107.9 633.7,103.5 634,104 634.2,105.8 634.5,101.4 634.8,104.6 635,107.3 635.3,112.2 635.6,127.5 635.8,112.5 636.1,117.7 636.4,101.1 636.6,107.6 636.9,108.8 637.2,107.2 637.4,106.8 637.7,95.5 638,107 638.2,105 638.5,106.7 638.8,103.6 639,95.9 639.3,101.3 639.6,103.7 639.8,105.5 640.1,116.5 640.4,102 640.6,103.7 640.9,99.8 641.2,100.3 641.4,107 641.7,87.7 642,103.4 642.2,96.9 642.5,111.2 642.8,103.6 643,106.3 643.3,106.8 643.6,107.2 643.8,97.8 644.1,119.5 644.4,105.3 644.6,108.5 644.9,101.3 645.2,104.2 645.4,107.9 645.7,107.8 646,104.7 646.2,112.5 646.5,106.6 646.8,107.1 647,108 647.3,102.6 647.6,94.3 647.8,104.9 648.1,107.2 648.4,112.8 648.6,107.4 648.9,95.8 649.2,105.6 649.4,108.2 649.7,110.1 650,109.7 650.2,108.4 650.5,107.2 650.8,106.6 651,101.3 651.3,107.1 651.6,104.4 651.8,95.5 652.1,103.3 652.4,103.7 652.6,110.5 652.9,106.3 653.2,95.8 653.4,105.5 653.7,108.4 654,107.3 654.2,109.7 654.5,107.5 654.8,109.4 655,99.7 655.3,92.4 655.6,104.3 655.8,90.2 656.1,108 656.4,109.4 656.6,109.8 656.9,106.8 657.2,99.3 657.4,107.2 657.7,111.2 658,91.8 658.2,111.8 658.5,101.9 658.8,86.5 659,97.9 659.3,100.7 659.6,112.6 659.8,100.5 660.1,108.5 660.4,114.2 660.6,111.3 660.9,110.7 661.2,110 661.4,89.2 661.7,109.7 661.9,111.8 662.2,115.2 662.5,93.7 662.7,101.5 663,108.6 663.3,116.2 663.5,111.3 663.8,110 664.1,118 664.3,110.6 664.6,101.6 664.9,114.9 665.1,107.9 665.4,99.1 665.7,109.3 665.9,113.5 666.2,100.9 666.5,102.1 666.7,104.1 667,89.5 667.3,108.6 667.5,103.5 667.8,112.2 668.1,107.5 668.3,105.6 668.6,132.6 668.9,109.4 669.1,101.3 669.4,114.9 669.7,110 669.9,105.4 670.2,91.8 670.5,99.5 670.7,109.1 671,114.7 671.3,108.1 671.5,105.9 671.8,98.8 672.1,109 672.3,100.5 672.6,122.5 672.9,90.4 673.1,101 673.4,107.9 673.7,105.9 673.9,113.2 674.2,105.8 674.5,101.6 674.7,103.2 675,107.1 675.3,101.5 675.5,108.2 675.8,106.9 676.1,110.5 676.3,103.7 676.6,107.3 676.9,98.5 677.1,112.8 677.4,106.1 677.7,105 677.9,103.4 678.2,106.3 678.5,104 678.7,105.4 679,103.8 679.3,106.8 679.5,101.8 679.8,103.4 680.1,108.5 680.3,106.6 680.6,95.5 680.9,111.1 681.1,106.7 681.4,99.6 681.7,102.7 681.9,112.8 682.2,103.8 682.5,102.5 682.7,99.4 683,101.4 683.3,93.8 683.5,99.3 683.8,111.5 684.1,105.3 684.3,90.4 684.6,106.7 684.9,111.2 685.1,105.8 685.4,108.2 685.7,114.2 685.9,106.5 686.2,99.3 686.5,101.6 686.7,101.6 687,105 687.3,110.9 687.5,98.2 687.8,107.2 688.1,109.1 688.3,104.9 688.6,94.9 688.9,102.8 689.1,90.7 689.4,111.5 689.7,93.5 689.9,123.2 690.2,95.6 690.5,94.3 690.7,113.6 691,100.4 691.3,101 691.5,117.5 691.8,103.8 692.1,109 692.3,118.6 692.6,101.1 692.8,107.3 693.1,106.5 693.4,121 693.6,105.6 693.9,103.3 694.2,114 694.4,101.3 694.7,108.4 695,112.6 695.2,91.8 695.5,101.4 695.8,115.5 696,101.7 696.3,108.6 696.6,93.7 696.8,101.2 697.1,103.8 697.4,100.4 697.6,109.5 697.9,102.7 698.2,121.8 698.4,109.8 698.7,104.2 699,106.9 699.2,95.6 699.5,103.6 699.8,103.3 700,64.8 700.3,95.6 700.6,118.8 700.8,118.8 701.1,114.2 701.4,105.9 701.6,119.8 701.9,77.5 702.2,132.2 702.4,101.8 702.7,116.7 703,100.4 703.2,93.6 703.5,88.8 703.8,104.7 704,103.7 704.3,106.9 704.6,92.3 704.8,143.8 705.1,113.9 705.4,99.2 705.6,111.1 705.9,84.5 706.2,116.2 706.4,107 706.7,89.4 707,115.3 707.2,104.3 707.5,97.4 707.8,107.8 708,98.3 708.3,123.2 708.6,110.5 708.8,111.8 709.1,89.8 709.4,118.9 709.6,115.3 709.9,104.7 710.2,114.8 710.4,107.9 710.7,114.8 711,97.6 711.2,100 711.5,103 711.8,104.8 712,109.9 712.3,114.3 712.6,91.6 712.8,101.9 713.1,107.2 713.4,103.1 713.6,99.6 713.9,97.2 714.2,94.7 714.4,101.1 714.7,128.8 715,105.5 715.2,102.7 715.5,106.6 715.8,87.7 716,118.6 716.3,94.8 716.6,107 716.8,94.6 717.1,99.8 717.4,103.4 717.6,92.6 717.9,109 718.2,92 718.4,105.5 718.7,114.2 719,108.6 719.2,105.3 719.5,90.7 719.8,106.6 720,107.9 720.3,109 720.6,108.4 720.8,109.4 721.1,104.8 721.4,104.3 721.6,106.7 721.9,105.7 722.2,104.2 722.4,102.6 722.7,104.7 722.9,94.6 723.2,95.6 723.5,111.5 723.7,111.7 724,91.8 724.3,101.4 724.5,109.4 724.8,119.5 725.1,111.2 725.3,114 725.6,115.5 725.9,115 726.1,108.3 726.4,93.6 726.7,101.7 726.9,105.3 727.2,109.7 727.5,107.8 727.7,110 728,108.1 728.3,104.9 728.5,91.4 728.8,107.8 729.1,101.9 729.3,106.4 729.6,107.8 729.9,116.5 730.1,108.4 730.4,105.5 730.7,106.2 730.9,98.6 731.2,106.5 731.5,103.5 731.7,111.6 732,107.4 732.3,96.1 732.5,95.5 732.8,100.7 733.1,79 733.3,111.2 733.6,111.5 733.9,109.8 734.1,103.1 734.4,111.1 734.7,113.4 734.9,114.8 735.2,85 735.5,121.9 735.7,117.8 736,127 736.3,108.8 736.5,92.3 736.8,99.4 737.1,104.3 737.3,119.2 737.6,110.4 737.9,165.6 738.1,95.2 738.4,123.9 738.7,64.8 738.9,107.6 739.2,98.4 739.5,110.9 739.7,128.5 740,116.1 740.3,105.4 740.5,82.8 740.8,96.1 741.1,100.1 741.3,112.8 741.6,108.1 741.9,111 742.1,104.1 742.4,100.6 742.7,115.9 742.9,110.6 743.2,101.9 743.5,96.2 743.7,116.2 744,106.8 744.3,100.5 744.5,100.4 744.8,109.2 745.1,100.9 745.3,104.3 745.6,114.1 745.9,97.3 746.1,137.5 746.4,107.1 746.7,119 746.9,110.1 747.2,111.8 747.5,120.2 747.7,91.8 748,111.6 748.3,100.8 748.5,108.4 748.8,99.9 749.1,105.8 749.3,107.5 749.6,107.5 749.9,112.2 750.1,94.8 750.4,102.1 750.7,102.1 750.9,122.5 751.2,106.7 751.5,115 751.7,109.3 752,109.4 752.3,114.2 752.5,99.4 752.8,107.3 753.1,106.8 753.3,101.5 753.6,111 753.8,101.9 754.1,116.9 754.4,108.9 754.6,86.5 754.9,98.1 755.2,101.3 755.4,108.9 755.7,106.1 756,109.5 756.2,103.4 756.5,101.1 756.8,108.3 757,114.2 757.3,109.1 757.6,107.2 757.8,104.7 758.1,101.1 758.4,90.7 758.6,106.5 758.9,103.2 759.2,101.1 759.4,97 759.7,106.7 760,93.6 760.2,109 760.5,100.6 760.8,90.7 761,115 761.3,106.5 761.6,110.1 761.8,112 762.1,107.7 762.4,113.3 762.6,109.2 762.9,113.3 763.2,103.7 763.4,98.3 763.7,106.7 764,95.7 764.2,107.5 764.5,101.5 764.8,110.1 765,104.3 765.3,100.1 765.6,86.5 765.8,98.3 766.1,104.8 766.4,105.3 766.6,104.7 766.9,97 767.2,103.1 767.4,102.5 767.7,131.5 768,97.2 768.2,115.9 768.5,108.9 768.8,105.6 769,105 769.3,112.8 769.6,94.4 769.8,104.7 770.1,108.5 770.4,95.6 770.6,98.9 770.9,112.8 771.2,127.5 771.4,110 771.7,99.6 772,86.5 772.2,103.5 772.5,99.9 772.8,106.9 773,97.1 773.3,99.6 773.6,109.7 773.8,87.2 774.1,105.5 774.4,99.8 774.6,109.6 774.9,106.3 775.2,102 775.4,107.8 775.7,99.7 776,100.8 776.2,108 776.5,106.2 776.8,104.7 777,106.2 777.3,113.5 777.6,108.5 777.8,95.3 778.1,107.5 778.4,102.9 778.6,92.5 778.9,112.6 779.2,94.2 779.4,109 779.7,105.6 780,109.1 780.2,107.6 780.5,106.5 780.8,107.8 781,103.4 781.3,95.9 781.6,107.4 781.8,90.4 782.1,115 782.4,103.6 782.6,108.6 782.9,106.3 783.2,106.4 783.4,98.5 783.7,102 784,103.3 784.2,107.6 784.5,100.9 784.7,100.8 785,104.9 785.3,109.2 785.5,104.6 785.8,114.5 786.1,99.9 786.3,121 786.6,99.2 786.9,111.7 787.1,110.2 787.4,108.9 787.7,92.5 787.9,109.3 788.2,101.3 788.5,127.5 788.7,101 789,112.4 789.3,99.8 789.5,109.7 789.8,96.3 790.1,95.5 790.3,119.9 790.6,101.6 790.9,107.5 791.1,113.2 791.4,112.7 791.7,99.3 791.9,107.3 792.2,108.5 792.5,105.4 792.7,104.3 793,113.8 793.3,105.2 793.5,111 793.8,122.5 794.1,97.8 794.3,98.9 794.6,101.9 794.9,99.3 795.1,107.8 795.4,103.1 795.7,105.4 795.9,99.2 796.2,117.7 796.5,113.7 796.7,115.6 797,103.9 797.3,110.5 797.5,105.4 797.8,105.4 798.1,107.4 798.3,104.3 798.6,107.1 798.9,117.2 799.1,102.2 799.4,105.3" fill="none" stroke="#3f0000" stroke-width="1.7" stroke-linejoin="round" stroke-linecap="round"/>
</g>
<g>
<text transform="translate(1030.4,13.7) scale(0.835,1)" text-anchor="middle" font-size="15">DXRP</text>
<path d="M861.0 64.6H1200.0M861.0 94.2H1200.0M861.0 123.9H1200.0M861.0 153.6H1200.0M861.0 183.2H1200.0" stroke="#e6e6e6" stroke-width="1.8" fill="none"/>
<path d="M929.9 35.7V214.1M997.2 35.7V214.1M1065.0 35.7V214.1M1132.6 35.7V214.1" stroke="#e6e6e6" stroke-width="2" fill="none"/>
<text transform="translate(856.6,38.9) scale(1.06,1)" text-anchor="end" font-size="12">.6</text><text transform="translate(856.6,68.6) scale(1.06,1)" text-anchor="end" font-size="12">.4</text><text transform="translate(856.6,98.2) scale(1.06,1)" text-anchor="end" font-size="12">.2</text><text transform="translate(856.6,127.9) scale(1.06,1)" text-anchor="end" font-size="12">.0</text><text transform="translate(856.6,157.6) scale(1.06,1)" text-anchor="end" font-size="12">-.2</text><text transform="translate(856.6,187.2) scale(1.06,1)" text-anchor="end" font-size="12">-.4</text><text transform="translate(856.6,216.9) scale(1.06,1)" text-anchor="end" font-size="12">-.6</text>
<text transform="translate(871.7,229.2) scale(1.09,1)" text-anchor="middle" font-size="11.4">I</text><text transform="translate(888.2,229.2) scale(1.09,1)" text-anchor="middle" font-size="11.4">II</text><text transform="translate(905.7,229.2) scale(1.09,1)" text-anchor="middle" font-size="11.4">III</text><text transform="translate(922.5,229.2) scale(1.09,1)" text-anchor="middle" font-size="11.4">IV</text><text transform="translate(938.7,229.2) scale(1.09,1)" text-anchor="middle" font-size="11.4">I</text><text transform="translate(955.0,229.2) scale(1.09,1)" text-anchor="middle" font-size="11.4">II</text><text transform="translate(972.5,229.2) scale(1.09,1)" text-anchor="middle" font-size="11.4">III</text><text transform="translate(990.0,229.2) scale(1.09,1)" text-anchor="middle" font-size="11.4">IV</text><text transform="translate(1006.7,229.2) scale(1.09,1)" text-anchor="middle" font-size="11.4">I</text><text transform="translate(1023.2,229.2) scale(1.09,1)" text-anchor="middle" font-size="11.4">II</text><text transform="translate(1039.7,229.2) scale(1.09,1)" text-anchor="middle" font-size="11.4">III</text><text transform="translate(1057.3,229.2) scale(1.09,1)" text-anchor="middle" font-size="11.4">IV</text><text transform="translate(1075.1,229.2) scale(1.09,1)" text-anchor="middle" font-size="11.4">I</text><text transform="translate(1089.8,229.2) scale(1.09,1)" text-anchor="middle" font-size="11.4">II</text><text transform="translate(1107.5,229.2) scale(1.09,1)" text-anchor="middle" font-size="11.4">III</text><text transform="translate(1124.9,229.2) scale(1.09,1)" text-anchor="middle" font-size="11.4">IV</text><text transform="translate(1142.0,229.2) scale(1.09,1)" text-anchor="middle" font-size="11.4">I</text><text transform="translate(1157.6,229.2) scale(1.09,1)" text-anchor="middle" font-size="11.4">II</text><text transform="translate(1175.3,229.2) scale(1.09,1)" text-anchor="middle" font-size="11.4">III</text><text transform="translate(1193.2,229.2) scale(1.09,1)" text-anchor="middle" font-size="11.4">IV</text>
<text transform="translate(898.3,249.8) scale(1.07,1)" text-anchor="middle" font-size="12">2017</text><text transform="translate(963.6,249.8) scale(1.07,1)" text-anchor="middle" font-size="12">2018</text><text transform="translate(1031.3,249.8) scale(1.07,1)" text-anchor="middle" font-size="12">2019</text><text transform="translate(1098.4,249.8) scale(1.07,1)" text-anchor="middle" font-size="12">2020</text><text transform="translate(1168.6,249.8) scale(1.07,1)" text-anchor="middle" font-size="12">2021</text>
<polyline points="862.9,103.7 863.2,112.7 863.4,111.1 863.7,131.6 864,108.2 864.2,89.5 864.5,141.2 864.8,131.5 865,125 865.3,140.1 865.6,113.8 865.8,124.1 866.1,128.2 866.4,133.8 866.7,128.9 866.9,115 867.2,139.6 867.5,122.8 867.7,128.2 868,123.5 868.3,114.2 868.5,120.1 868.8,131.2 869.1,150.2 869.3,112.8 869.6,122.9 869.9,141.9 870.1,121 870.4,118.4 870.7,123.7 870.9,126.7 871.2,121 871.5,114.2 871.7,104.7 872,129.3 872.3,125.8 872.5,141.3 872.8,76.5 873.1,119.4 873.3,130.3 873.6,112.2 873.9,138.3 874.2,146.1 874.4,85 874.7,111.5 875,118.3 875.2,115.8 875.5,125 875.8,133.6 876,114.5 876.3,113.1 876.6,131.2 876.8,135.6 877.1,119.4 877.4,124.3 877.6,122 877.9,132.9 878.2,115.2 878.4,154 878.7,112 879,125.9 879.2,124.5 879.5,125.4 879.8,105.7 880,137.5 880.3,134.9 880.6,128.5 880.8,124 881.1,127.8 881.4,126.8 881.7,119.1 881.9,115.7 882.2,123.1 882.5,132.4 882.7,129.6 883,115.9 883.3,136.9 883.5,133.8 883.8,123.6 884.1,120.6 884.3,126.9 884.6,125.4 884.9,122.1 885.1,129.9 885.4,130.5 885.7,107.8 885.9,137.2 886.2,119.7 886.5,132 886.7,125.7 887,122 887.3,128.7 887.5,120.6 887.8,111.1 888.1,128.4 888.3,125.4 888.6,124 888.9,127 889.2,122.9 889.4,126.5 889.7,122.2 890,124.3 890.2,116.6 890.5,137.2 890.8,125.1 891,123.6 891.3,119.8 891.6,118.9 891.8,136.2 892.1,113.8 892.4,128.7 892.6,123.3 892.9,127 893.2,130.2 893.4,135.9 893.7,120.9 894,119.1 894.2,125.7 894.5,122.9 894.8,138.2 895,127.8 895.3,118.2 895.6,121.8 895.8,129.7 896.1,118.1 896.4,114.1 896.7,120.8 896.9,104.5 897.2,120 897.5,118.6 897.7,125.7 898,115 898.3,110.1 898.5,125.7 898.8,125.9 899.1,134.8 899.3,141.2 899.6,125.3 899.9,122.7 900.1,114.3 900.4,107.8 900.7,137.3 900.9,119.7 901.2,125.2 901.5,134.9 901.7,122.2 902,114.9 902.3,117.3 902.5,113.6 902.8,113.6 903.1,119.9 903.3,124.9 903.6,119.3 903.9,119.9 904.2,141.2 904.4,118.8 904.7,133.4 905,118.9 905.2,116.5 905.5,123.3 905.8,120.5 906,132 906.3,132.8 906.6,119.8 906.8,121.1 907.1,122.6 907.4,127 907.6,126.2 907.9,122.8 908.2,118.9 908.4,129.8 908.7,124.8 909,107.5 909.2,130 909.5,129.7 909.8,130.8 910,125 910.3,118.3 910.6,119.6 910.9,120.2 911.1,121.9 911.4,113.7 911.7,121.1 911.9,128.5 912.2,124.2 912.5,116 912.7,114.2 913,121.5 913.3,115.2 913.5,121.9 913.8,117.5 914.1,125.7 914.3,121.3 914.6,119.6 914.9,128.3 915.1,132.9 915.4,132.2 915.7,141.2 915.9,109.8 916.2,125.6 916.5,122.7 916.7,127.1 917,124.6 917.3,122.1 917.5,127.1 917.8,125 918.1,124.7 918.4,126.5 918.6,125.5 918.9,123.1 919.2,118 919.4,119.8 919.7,118.1 920,124.5 920.2,126.9 920.5,124.7 920.8,121.6 921,121.7 921.3,128.3 921.6,123.5 921.8,128.5 922.1,118 922.4,126.2 922.6,121.8 922.9,126.1 923.2,125.8 923.4,124.6 923.7,120.1 924,118.4 924.2,128.4 924.5,128.8 924.8,127.2 925,118.8 925.3,127 925.6,114.6 925.9,131.3 926.1,105.7 926.4,124.1 926.7,125.3 926.9,123.5 927.2,115 927.5,127.1 927.7,124.9 928,126 928.3,129.6 928.5,134.5 928.8,118.3 929.1,125.3 929.3,123.5 929.6,116.8 929.9,128.4 930.1,122.9 930.4,120.4 930.7,129.4 930.9,126.2 931.2,126 931.5,129.7 931.7,124.9 932,123.7 932.3,133 932.5,119.6 932.8,122.2 933.1,116.5 933.4,122.1 933.6,117.6 933.9,124.7 934.2,124.7 934.4,132.2 934.7,120.1 935,125 935.2,123.6 935.5,122.7 935.8,124.9 936,115.3 936.3,126.6 936.6,130 936.8,125.4 937.1,89.5 937.4,125.4 937.6,121.8 937.9,121.1 938.2,136 938.4,111.2 938.7,130.5 939,125.1 939.2,119.4 939.5,125.8 939.8,106.8 940,131.6 940.3,123.5 940.6,113.9 940.9,125.6 941.1,125.4 941.4,119.3 941.7,119.5 941.9,115 942.2,116.9 942.5,121.9 942.7,133 943,131.1 943.3,123.8 943.5,117.9 943.8,122.9 944.1,122.2 944.3,119.5 944.6,122.4 944.9,122.8 945.1,122.1 945.4,126.6 945.7,125.5 945.9,116.7 946.2,129.5 946.5,124.1 946.7,125.2 947,120.5 947.3,123.8 947.5,120 947.8,126.1 948.1,112.4 948.4,128.7 948.6,127.5 948.9,120.4 949.2,143.9 949.4,115.1 949.7,125.7 950,121.2 950.2,124.9 950.5,126 950.8,131.7 951,126.7 951.3,128 951.6,122 951.8,125 952.1,122.8 952.4,135 952.6,125.9 952.9,128.6 953.2,138.2 953.4,121.7 953.7,122.8 954,128.3 954.2,135.5 954.5,124.2 954.8,116.5 955.1,128.3 955.3,125.3 955.6,124.6 955.9,129.3 956.1,127.4 956.4,120.5 956.7,126.3 956.9,121.8 957.2,119.7 957.5,126.2 957.7,121.6 958,127.1 958.3,123.3 958.5,130.8 958.8,119.5 959.1,125 959.3,124 959.6,126.7 959.9,127.2 960.1,119.2 960.4,126.7 960.7,119.4 960.9,126.7 961.2,123.5 961.5,120.1 961.7,121.1 962,131.4 962.3,142.3 962.6,131.4 962.8,117.5 963.1,124.2 963.4,121.9 963.6,115 963.9,118.7 964.2,129.6 964.4,119.2 964.7,126.1 965,120.5 965.2,118.9 965.5,125.5 965.8,125.4 966,127.2 966.3,120.3 966.6,121.7 966.8,131.5 967.1,130.2 967.4,130.4 967.6,125.5 967.9,129.4 968.2,126.4 968.4,121.9 968.7,119.7 969,119.5 969.2,132.1 969.5,124.5 969.8,132.4 970.1,128.2 970.3,124.9 970.6,124.2 970.9,122.4 971.1,118.7 971.4,122.1 971.7,131.1 971.9,109.8 972.2,124.2 972.5,129.6 972.7,116.5 973,126.2 973.3,128.7 973.5,145 973.8,125.6 974.1,124 974.3,129.8 974.6,122.5 974.9,122 975.1,125.8 975.4,123.2 975.7,120.3 975.9,121.8 976.2,128.8 976.5,124.3 976.7,112.4 977,118.9 977.3,127.3 977.6,129.9 977.8,123 978.1,127.1 978.4,124.2 978.6,125.3 978.9,123.7 979.2,124.9 979.4,121.3 979.7,113.6 980,130.8 980.2,130.8 980.5,123.4 980.8,122.4 981,113.6 981.3,132.3 981.6,121.4 981.8,112.4 982.1,133 982.4,130.4 982.6,121.6 982.9,118.7 983.2,128.7 983.4,116.9 983.7,126.2 984,124.5 984.2,122.7 984.5,123 984.8,130.9 985.1,123 985.3,121.2 985.6,119.5 985.9,123.6 986.1,134.5 986.4,124.7 986.7,122.4 986.9,121 987.2,119.8 987.5,123.4 987.7,123.2 988,128.7 988.3,127.2 988.5,121.5 988.8,121.1 989.1,129.2 989.3,123.5 989.6,124.4 989.9,123 990.1,121.7 990.4,123.7 990.7,133 990.9,123.8 991.2,121.7 991.5,123.3 991.8,124.2 992,125.7 992.3,118.8 992.6,122 992.8,125 993.1,124.3 993.4,127.8 993.6,119.6 993.9,124.1 994.2,126.7 994.4,120.8 994.7,127.3 995,117.2 995.2,118.1 995.5,123.2 995.8,126.1 996,126 996.3,123.6 996.6,118.8 996.8,115 997.1,142.3 997.4,127.2 997.6,120.3 997.9,127.4 998.2,123 998.4,127.2 998.7,125.5 999,119.9 999.3,118.3 999.5,123.4 999.8,115.2 1000.1,123.1 1000.3,123.5 1000.6,117.4 1000.9,125.5 1001.1,127 1001.4,120.5 1001.7,125.6 1001.9,116.6 1002.2,120.7 1002.5,121.7 1002.7,103 1003,130.8 1003.3,127.9 1003.5,126.7 1003.8,125.5 1004.1,130.3 1004.3,126.9 1004.6,127.4 1004.9,115 1005.1,128.4 1005.4,126.4 1005.7,120 1005.9,120.5 1006.2,120.7 1006.5,131.5 1006.8,119.7 1007,118.8 1007.3,118 1007.6,123.6 1007.8,121.5 1008.1,125.2 1008.4,121.3 1008.6,132.2 1008.9,122.3 1009.2,123 1009.4,132.7 1009.7,119 1010,119.3 1010.2,131.3 1010.5,133.5 1010.8,119.7 1011,128 1011.3,132.8 1011.6,131.3 1011.8,128.1 1012.1,113.8 1012.4,124 1012.6,125.8 1012.9,123.6 1013.2,121.5 1013.4,130.3 1013.7,115.9 1014,137.2 1014.3,127.8 1014.5,126.5 1014.8,124.3 1015.1,130.4 1015.3,119 1015.6,132.8 1015.9,116.7 1016.1,138.2 1016.4,136.2 1016.7,119.4 1016.9,116.5 1017.2,127.1 1017.5,118.8 1017.7,125 1018,118.8 1018.3,126.9 1018.5,125 1018.8,122.9 1019.1,131.2 1019.3,122.6 1019.6,125.8 1019.9,127.7 1020.1,126.2 1020.4,186.8 1020.7,128.3 1020.9,130.4 1021.2,100.8 1021.5,120 1021.8,120.5 1022,122.6 1022.3,125.5 1022.6,130.1 1022.8,118.8 1023.1,119.3 1023.4,127.7 1023.6,113.9 1023.9,130.3 1024.2,116.6 1024.4,129.4 1024.7,125 1025,132.6 1025.2,121.6 1025.5,122.4 1025.8,129.3 1026,126 1026.3,126 1026.6,116 1026.8,109.8 1027.1,132 1027.4,117.6 1027.6,127 1027.9,119.3 1028.2,121.9 1028.4,126 1028.7,131.6 1029,122.3 1029.3,126.9 1029.5,121.1 1029.8,122.5 1030.1,131.9 1030.3,123.8 1030.6,124.7 1030.9,114.7 1031.1,128.7 1031.4,132.2 1031.7,131 1031.9,116.5 1032.2,127.5 1032.5,112.9 1032.7,128.8 1033,125.6 1033.3,111.7 1033.5,133.5 1033.8,118.5 1034.1,125.6 1034.3,117.7 1034.6,114.9 1034.9,121.9 1035.1,122.2 1035.4,118.8 1035.7,122.7 1036,114.6 1036.2,126.2 1036.5,121.2 1036.8,138.8 1037,121.8 1037.3,123.6 1037.6,127.2 1037.8,126.4 1038.1,121.3 1038.4,123.3 1038.6,116.2 1038.9,125 1039.2,130.5 1039.4,122.6 1039.7,120.6 1040,125.9 1040.2,122.9 1040.5,127.7 1040.8,128.9 1041,119.9 1041.3,127.6 1041.6,129.2 1041.8,130 1042.1,125.7 1042.4,118 1042.6,123.7 1042.9,123.4 1043.2,126.8 1043.5,125.4 1043.7,122.7 1044,127.3 1044.3,120.2 1044.5,121.8 1044.8,128.4 1045.1,127.2 1045.3,134.6 1045.6,120.7 1045.9,125 1046.1,126.4 1046.4,127.2 1046.7,125.8 1046.9,123.4 1047.2,120.9 1047.5,130.1 1047.7,125.9 1048,123.3 1048.3,124.1 1048.5,120.6 1048.8,119 1049.1,123.9 1049.3,129.8 1049.6,121.7 1049.9,128.3 1050.1,124.4 1050.4,121.3 1050.7,122.7 1051,124 1051.2,124.9 1051.5,120.2 1051.8,123.9 1052,124.6 1052.3,121.5 1052.6,125.7 1052.8,108.2 1053.1,119.1 1053.4,123.8 1053.6,126 1053.9,124.5 1054.2,122.3 1054.4,126.2 1054.7,125.7 1055,124.5 1055.2,123.7 1055.5,120.7 1055.8,114.6 1056,125.6 1056.3,114.3 1056.6,125.2 1056.8,125.3 1057.1,120 1057.4,129 1057.6,125.3 1057.9,121.2 1058.2,126.5 1058.5,121.3 1058.7,107.5 1059,124 1059.3,128.9 1059.5,115 1059.8,125.1 1060.1,117.5 1060.3,125.7 1060.6,127 1060.9,115.1 1061.1,128 1061.4,118.1 1061.7,124.6 1061.9,124.4 1062.2,124.8 1062.5,121.6 1062.7,125.8 1063,117 1063.3,129.5 1063.5,125.4 1063.8,121.5 1064.1,118.8 1064.3,119.6 1064.6,126.5 1064.9,125.7 1065.1,124.5 1065.4,126 1065.7,126.9 1066,116.7 1066.2,117.8 1066.5,128.3 1066.8,122.1 1067,122.9 1067.3,125.6 1067.6,127.6 1067.8,116.5 1068.1,142.2 1068.4,120.8 1068.6,123.6 1068.9,126.9 1069.2,120.3 1069.4,129 1069.7,128.7 1070,123.7 1070.2,125.6 1070.5,124.5 1070.8,125.2 1071,130.3 1071.3,129.3 1071.6,125.5 1071.8,126.2 1072.1,123.7 1072.4,124.9 1072.6,125.6 1072.9,126.7 1073.2,123.2 1073.5,134.2 1073.7,117.5 1074,126.1 1074.3,118.4 1074.5,124.9 1074.8,121.7 1075.1,124 1075.3,118.9 1075.6,125.9 1075.9,121.6 1076.1,124.4 1076.4,129 1076.7,127.2 1076.9,115 1077.2,127.5 1077.5,125.7 1077.7,119 1078,122.6 1078.3,125.2 1078.5,116.1 1078.8,123.8 1079.1,122.4 1079.3,125.3 1079.6,121 1079.9,127.5 1080.2,121.7 1080.4,124.5 1080.7,124.6 1081,123.6 1081.2,118.6 1081.5,126.6 1081.8,124.1 1082,124 1082.3,120.5 1082.6,126.4 1082.8,122.6 1083.1,122.6 1083.4,124 1083.6,122.2 1083.9,124.8 1084.2,117.1 1084.4,123.6 1084.7,123 1085,123.1 1085.2,116.5 1085.5,122.1 1085.8,119.4 1086,129 1086.3,113.4 1086.6,129.4 1086.8,120.7 1087.1,124.1 1087.4,126.3 1087.7,128.7 1087.9,125.8 1088.2,124.2 1088.5,128 1088.7,127.2 1089,74.2 1089.3,123.9 1089.5,124.3 1089.8,120.4 1090.1,127.7 1090.3,117.3 1090.6,129.6 1090.9,76.8 1091.1,119.9 1091.4,113.3 1091.7,149.2 1091.9,109.8 1092.2,123.2 1092.5,124.8 1092.7,128.8 1093,118.4 1093.3,129.4 1093.5,125.7 1093.8,124.6 1094.1,115.1 1094.3,126.4 1094.6,138.8 1094.9,125.6 1095.2,121.1 1095.4,129.3 1095.7,124.9 1096,101.7 1096.2,132.2 1096.5,94.8 1096.8,128.2 1097,108.8 1097.3,117.4 1097.6,114.5 1097.8,120.4 1098.1,136.1 1098.4,112.9 1098.6,205.2 1098.9,85.4 1099.2,126.3 1099.4,130.7 1099.7,113.7 1100,114.7 1100.2,122.4 1100.5,107.9 1100.8,112 1101,128.3 1101.3,116.9 1101.6,121.6 1101.8,121.3 1102.1,130.6 1102.4,120.1 1102.7,130.1 1102.9,85.4 1103.2,126.6 1103.5,126 1103.7,126.4 1104,138.8 1104.3,104.7 1104.5,109.1 1104.8,115.8 1105.1,120 1105.3,131.9 1105.6,99.5 1105.9,124.7 1106.1,112.9 1106.4,103.7 1106.7,124.7 1106.9,127 1107.2,117.1 1107.5,140.7 1107.7,130.8 1108,125.6 1108.3,107.7 1108.5,57.5 1108.8,127.3 1109.1,118.4 1109.3,132.5 1109.6,166.5 1109.9,139.2 1110.2,124.2 1110.4,112.1 1110.7,121.5 1111,122.9 1111.2,105.8 1111.5,131.7 1111.8,131.8 1112,135.9 1112.3,134.5 1112.6,103 1112.8,112.2 1113.1,137.2 1113.4,124.2 1113.6,136 1113.9,120.9 1114.2,134.5 1114.4,118.9 1114.7,127 1115,136.2 1115.2,135.2 1115.5,150 1115.8,111.7 1116,121.7 1116.3,123.8 1116.6,121.4 1116.8,118.1 1117.1,124.6 1117.4,120.5 1117.7,125 1117.9,118 1118.2,113.5 1118.5,123.5 1118.7,119.5 1119,129.1 1119.3,119.4 1119.5,125.2 1119.8,132.8 1120.1,130.5 1120.3,124.7 1120.6,126.8 1120.9,122.2 1121.1,133.3 1121.4,113.6 1121.7,134.7 1121.9,106 1122.2,129.5 1122.5,135.1 1122.7,128.5 1123,130.2 1123.3,144.3 1123.5,118.1 1123.8,119.3 1124.1,118.6 1124.4,140 1124.6,114.7 1124.9,129.9 1125.2,125.2 1125.4,134.2 1125.7,133 1126,131 1126.2,132.2 1126.5,113.6 1126.8,70 1127,150 1127.3,136.2 1127.6,125.8 1127.8,137.8 1128.1,131.4 1128.4,79.8 1128.6,128.8 1128.9,107.5 1129.2,129.7 1129.4,128.7 1129.7,127.3 1130,119.9 1130.2,143.2 1130.5,100.9 1130.8,118 1131,117 1131.3,117.2 1131.6,82.8 1131.9,111 1132.1,130 1132.4,132.6 1132.7,132.4 1132.9,120.2 1133.2,125.6 1133.5,110.5 1133.7,125.6 1134,138.8 1134.3,119.6 1134.5,130.1 1134.8,102.2 1135.1,120.9 1135.3,121.1 1135.6,104.7 1135.9,133.6 1136.1,115 1136.4,132.5 1136.7,128.7 1136.9,145.5 1137.2,131.2 1137.5,105.4 1137.7,117.3 1138,105.6 1138.3,125.1 1138.5,123.8 1138.8,184.5 1139.1,127.8 1139.4,128.1 1139.6,123.6 1139.9,124.4 1140.2,122.5 1140.4,90.7 1140.7,121.8 1141,124.9 1141.2,126.8 1141.5,117.5 1141.8,124 1142,107.7 1142.3,124.4 1142.6,127.3 1142.8,119.4 1143.1,124.1 1143.4,106.7 1143.6,136.5 1143.9,122.9 1144.2,106.8 1144.4,131.9 1144.7,121.3 1145,113.1 1145.2,120.3 1145.5,130.8 1145.8,125.4 1146,118.7 1146.3,134.2 1146.6,113.2 1146.9,113.7 1147.1,125 1147.4,160.5 1147.7,100.8 1147.9,117.3 1148.2,123 1148.5,124.5 1148.7,126.1 1149,129.4 1149.3,123.1 1149.5,115.8 1149.8,120.9 1150.1,127.7 1150.3,115.2 1150.6,110.5 1150.9,124.4 1151.1,123.4 1151.4,116.7 1151.7,127.3 1151.9,122.3 1152.2,126.1 1152.5,122.8 1152.7,126.7 1153,128.7 1153.3,131.4 1153.5,132 1153.8,116.1 1154.1,122.7 1154.4,115.9 1154.6,125.9 1154.9,124.1 1155.2,121.4 1155.4,125.9 1155.7,122.3 1156,126.2 1156.2,123.2 1156.5,109.3 1156.8,119.3 1157,104.5 1157.3,125.8 1157.6,126.6 1157.8,118.9 1158.1,113.6 1158.4,124 1158.6,123.9 1158.9,114.2 1159.2,125.1 1159.4,128.2 1159.7,125.2 1160,109.2 1160.2,133.5 1160.5,129.6 1160.8,97.8 1161.1,112.8 1161.3,121 1161.6,126.1 1161.9,129.2 1162.1,99.2 1162.4,114.2 1162.7,125.1 1162.9,134 1163.2,108.1 1163.5,121.3 1163.7,128.9 1164,121.5 1164.3,122.6 1164.5,129.1 1164.8,138.8 1165.1,129.3 1165.3,137.1 1165.6,124.3 1165.9,108.2 1166.1,124.1 1166.4,125.2 1166.7,130.5 1166.9,123.4 1167.2,125.7 1167.5,128.2 1167.7,119.3 1168,131.1 1168.3,156.8 1168.6,125.6 1168.8,124.9 1169.1,121.1 1169.4,114.2 1169.6,131.5 1169.9,116.2 1170.2,129.8 1170.4,119.6 1170.7,116.2 1171,126.4 1171.2,124.7 1171.5,126.6 1171.8,144 1172,125 1172.3,112.6 1172.6,130.8 1172.8,125.3 1173.1,103 1173.4,128.7 1173.6,128.3 1173.9,120.2 1174.2,128.4 1174.4,134.5 1174.7,122.2 1175,124 1175.2,130.8 1175.5,122.6 1175.8,127.6 1176.1,123.2 1176.3,130.6 1176.6,120.1 1176.9,132 1177.1,114.9 1177.4,111.7 1177.7,121.5 1177.9,114.4 1178.2,120.4 1178.5,130.4 1178.7,122.9 1179,124.3 1179.3,122.6 1179.5,113.9 1179.8,120.3 1180.1,121.5 1180.3,117.6 1180.6,119 1180.9,132.1 1181.1,129.1 1181.4,127.8 1181.7,118.2 1181.9,115.1 1182.2,121.4 1182.5,128.2 1182.7,141 1183,130.4 1183.3,116.5 1183.6,115 1183.8,136 1184.1,129.2 1184.4,123.3 1184.6,119.9 1184.9,127.9 1185.2,119.2 1185.4,126.9 1185.7,128 1186,122.2 1186.2,123.1 1186.5,120.1 1186.8,123.4 1187,117.5 1187.3,122.8 1187.6,124.3 1187.8,123.4 1188.1,118.8 1188.4,130.9 1188.6,124.9 1188.9,132.1 1189.2,131.7 1189.4,118 1189.7,122.9 1190,139.8 1190.2,126.7 1190.5,126 1190.8,126.5 1191.1,132.2 1191.3,134.4 1191.6,121.7 1191.9,124.7 1192.1,129.8 1192.4,120.9 1192.7,121.2 1192.9,124.2 1193.2,129.1 1193.5,123 1193.7,117.4 1194,121.2 1194.3,125.4 1194.5,123.6 1194.8,136.5 1195.1,135.3 1195.3,114.9 1195.6,123.4 1195.9,125.9 1196.1,121.3 1196.4,116.1 1196.7,126.9 1196.9,112.8 1197.2,132.8 1197.5,128.4 1197.7,125.2 1198,130.8 1198.3,122.1 1198.6,137.2 1198.8,125.2 1199.1,125.7 1199.4,134.3 1199.6,131.9 1199.9,110.5 1200.2,114.2 1200.4,134.5 1200.7,121.7 1201,120.6 1201.2,125 1201.5,130.5" fill="none" stroke="#3f0000" stroke-width="1.7" stroke-linejoin="round" stroke-linecap="round"/>
</g>
<g>
<text transform="translate(229.1,271.5) scale(0.835,1)" text-anchor="middle" font-size="15">DSAFRICA</text>
<path d="M59.3 329.6H399.7M59.3 365.1H399.7M59.3 400.7H399.7M59.3 436.2H399.7" stroke="#e6e6e6" stroke-width="1.8" fill="none"/>
<path d="M128.6 294.9V472.9M195.4 294.9V472.9M263.2 294.9V472.9M331.2 294.9V472.9" stroke="#e6e6e6" stroke-width="2" fill="none"/>
<text transform="translate(54.9,298.1) scale(1.06,1)" text-anchor="end" font-size="12">.10</text><text transform="translate(54.9,333.6) scale(1.06,1)" text-anchor="end" font-size="12">.05</text><text transform="translate(54.9,369.1) scale(1.06,1)" text-anchor="end" font-size="12">.00</text><text transform="translate(54.9,404.7) scale(1.06,1)" text-anchor="end" font-size="12">-.05</text><text transform="translate(54.9,440.2) scale(1.06,1)" text-anchor="end" font-size="12">-.10</text><text transform="translate(54.9,475.7) scale(1.06,1)" text-anchor="end" font-size="12">-.15</text>
<text transform="translate(70.0,488.0) scale(1.09,1)" text-anchor="middle" font-size="11.4">I</text><text transform="translate(86.5,488.0) scale(1.09,1)" text-anchor="middle" font-size="11.4">II</text><text transform="translate(104.0,488.0) scale(1.09,1)" text-anchor="middle" font-size="11.4">III</text><text transform="translate(120.8,488.0) scale(1.09,1)" text-anchor="middle" font-size="11.4">IV</text><text transform="translate(137.0,488.0) scale(1.09,1)" text-anchor="middle" font-size="11.4">I</text><text transform="translate(153.3,488.0) scale(1.09,1)" text-anchor="middle" font-size="11.4">II</text><text transform="translate(170.8,488.0) scale(1.09,1)" text-anchor="middle" font-size="11.4">III</text><text transform="translate(188.3,488.0) scale(1.09,1)" text-anchor="middle" font-size="11.4">IV</text><text transform="translate(205.0,488.0) scale(1.09,1)" text-anchor="middle" font-size="11.4">I</text><text transform="translate(221.5,488.0) scale(1.09,1)" text-anchor="middle" font-size="11.4">II</text><text transform="translate(238.0,488.0) scale(1.09,1)" text-anchor="middle" font-size="11.4">III</text><text transform="translate(255.6,488.0) scale(1.09,1)" text-anchor="middle" font-size="11.4">IV</text><text transform="translate(273.4,488.0) scale(1.09,1)" text-anchor="middle" font-size="11.4">I</text><text transform="translate(288.1,488.0) scale(1.09,1)" text-anchor="middle" font-size="11.4">II</text><text transform="translate(305.8,488.0) scale(1.09,1)" text-anchor="middle" font-size="11.4">III</text><text transform="translate(323.2,488.0) scale(1.09,1)" text-anchor="middle" font-size="11.4">IV</text><text transform="translate(340.3,488.0) scale(1.09,1)" text-anchor="middle" font-size="11.4">I</text><text transform="translate(355.9,488.0) scale(1.09,1)" text-anchor="middle" font-size="11.4">II</text><text transform="translate(373.6,488.0) scale(1.09,1)" text-anchor="middle" font-size="11.4">III</text><text transform="translate(391.5,488.0) scale(1.09,1)" text-anchor="middle" font-size="11.4">IV</text>
<text transform="translate(96.6,508.6) scale(1.07,1)" text-anchor="middle" font-size="12">2017</text><text transform="translate(161.9,508.6) scale(1.07,1)" text-anchor="middle" font-size="12">2018</text><text transform="translate(229.6,508.6) scale(1.07,1)" text-anchor="middle" font-size="12">2019</text><text transform="translate(296.7,508.6) scale(1.07,1)" text-anchor="middle" font-size="12">2020</text><text transform="translate(366.9,508.6) scale(1.07,1)" text-anchor="middle" font-size="12">2021</text>
<polyline points="61.2,370.1 61.5,366.2 61.7,358.8 62,371.5 62.3,369.6 62.5,358.4 62.8,363.1 63.1,363 63.3,369.4 63.6,367.9 63.9,361.8 64.1,365.7 64.4,359.1 64.7,355.8 64.9,370.8 65.2,371.8 65.5,353.5 65.8,365.3 66,360.4 66.3,356.1 66.6,356.5 66.8,372.7 67.1,361.1 67.4,355.8 67.6,366.2 67.9,369.6 68.2,370.4 68.4,363.8 68.7,368.5 69,366 69.2,355.8 69.5,374.5 69.8,370.8 70,373.8 70.3,360.1 70.6,369.8 70.8,367.8 71.1,364.8 71.4,366.7 71.6,364 71.9,360.7 72.2,355.2 72.4,357.8 72.7,363.1 73,350.5 73.3,376 73.5,363.4 73.8,354.9 74.1,367.7 74.3,375.2 74.6,369.3 74.9,368.8 75.1,375.4 75.4,368 75.7,367.3 75.9,363.3 76.2,368.4 76.5,362 76.7,372.6 77,364 77.3,361.2 77.5,377.1 77.8,372 78.1,370.3 78.3,358.5 78.6,354.6 78.9,361.7 79.1,355.9 79.4,365.1 79.7,360 79.9,365.8 80.2,359.1 80.5,362.4 80.7,368 81,365.9 81.3,356.5 81.6,361.5 81.8,375.4 82.1,369.4 82.4,367 82.6,369 82.9,362.4 83.2,371.9 83.4,365.4 83.7,364.7 84,358.9 84.2,374.3 84.5,365.8 84.8,375.9 85,361 85.3,362.8 85.6,364.8 85.8,361.5 86.1,375.9 86.4,362.4 86.6,369.7 86.9,377.1 87.2,363.4 87.4,355.1 87.7,355 88,368.3 88.2,350.5 88.5,369.1 88.8,361.7 89.1,355.2 89.3,369.1 89.6,366.2 89.9,373.2 90.1,356.3 90.4,363 90.7,356.1 90.9,373 91.2,365.8 91.5,368.4 91.7,355.8 92,365.5 92.3,359.1 92.5,365.4 92.8,366.9 93.1,370.2 93.3,366.6 93.6,369.4 93.9,366.9 94.1,368.2 94.4,360.3 94.7,352 94.9,374.5 95.2,361.2 95.5,362.4 95.7,370.8 96,371.5 96.3,356.2 96.5,357 96.8,372.9 97.1,368.9 97.4,362.2 97.6,365.6 97.9,371.3 98.2,362.5 98.4,367.2 98.7,357.2 99,357.3 99.2,373 99.5,365.8 99.8,368.2 100,372.4 100.3,369 100.6,364 100.8,357.2 101.1,362.9 101.4,365.1 101.6,365.6 101.9,358.7 102.2,370.6 102.4,369.4 102.7,362.9 103,366.5 103.2,363.1 103.5,369.9 103.8,363.8 104,359.8 104.3,371 104.6,374.5 104.9,359.5 105.1,364.2 105.4,370.1 105.7,369.4 105.9,368.3 106.2,363.7 106.5,364.9 106.7,374.5 107,370.1 107.3,372.7 107.5,368.9 107.8,377.1 108.1,359.6 108.3,361 108.6,357.8 108.9,356.8 109.1,357.7 109.4,373.3 109.7,365.3 109.9,372.5 110.2,358 110.5,359.8 110.7,360 111,371.6 111.3,371.4 111.5,365.9 111.8,365.1 112.1,370.5 112.3,366.8 112.6,368.3 112.9,369.7 113.2,361.8 113.4,366.2 113.7,368 114,364.5 114.2,365.2 114.5,365.6 114.8,365.8 115,358.8 115.3,367.8 115.6,360.1 115.8,365.5 116.1,366.7 116.4,362.1 116.6,366.9 116.9,361.1 117.2,365.4 117.4,359.6 117.7,371.3 118,371.2 118.2,366.7 118.5,367.8 118.8,362.8 119,363.8 119.3,355.8 119.6,366.9 119.8,372.6 120.1,363.5 120.4,356.5 120.7,370.8 120.9,377.1 121.2,363.2 121.5,366.8 121.7,356.2 122,359.8 122.3,365.7 122.5,356 122.8,374.2 123.1,368.3 123.3,364.1 123.6,368.1 123.9,373.2 124.1,363.9 124.4,369.8 124.7,353.5 124.9,372.2 125.2,366.1 125.5,369 125.7,358.5 126,363.7 126.3,361.3 126.5,369.7 126.8,363.9 127.1,369 127.3,366.7 127.6,358.8 127.9,370 128.2,359.5 128.4,359.6 128.7,371 129,363.9 129.2,359.5 129.5,371.3 129.8,363.4 130,360.5 130.3,364 130.6,368.5 130.8,361.5 131.1,359.6 131.4,367.5 131.6,366 131.9,364.1 132.2,385 132.4,376.6 132.7,375.4 133,376.3 133.2,364.1 133.5,375.5 133.8,359.7 134,359.6 134.3,369.3 134.6,363.6 134.8,336.7 135.1,365.8 135.4,361.6 135.6,374.8 135.9,359.1 136.2,374.5 136.5,368.2 136.7,375.2 137,374.5 137.3,366.4 137.5,375 137.8,360.2 138.1,365.1 138.3,348.2 138.6,361.3 138.9,364.5 139.1,363.6 139.4,376.9 139.7,351.9 139.9,369.8 140.2,359.8 140.5,377.3 140.7,366.9 141,372 141.3,359.4 141.5,374.7 141.8,364.4 142.1,385 142.3,372.9 142.6,366.5 142.9,369.6 143.1,359 143.4,349.8 143.7,364 144,377.9 144.2,364.1 144.5,363.3 144.8,363.1 145,358 145.3,361.4 145.6,367.9 145.8,354 146.1,375.3 146.4,372.9 146.6,355.9 146.9,373.1 147.2,354.2 147.4,360.5 147.7,361.1 148,382 148.2,363.2 148.5,364.2 148.8,361.1 149,366.9 149.3,362.2 149.6,362.1 149.8,366.2 150.1,357.9 150.4,370.1 150.6,367.6 150.9,355 151.2,364.1 151.4,364.5 151.7,368.5 152,364.7 152.3,357.7 152.5,379.8 152.8,365.4 153.1,366.1 153.3,371.3 153.6,367.9 153.9,362.9 154.1,349.3 154.4,377.5 154.7,375.1 154.9,377.3 155.2,368.1 155.5,378.3 155.7,365.6 156,369.1 156.3,369.2 156.5,352.5 156.8,353 157.1,360.7 157.3,362.1 157.6,363.2 157.9,379.8 158.1,358.1 158.4,370.5 158.7,357.2 158.9,377.9 159.2,359.8 159.5,353.1 159.8,353.1 160,359.2 160.3,375.6 160.6,340.4 160.8,357.6 161.1,357.5 161.4,364.7 161.6,355 161.9,356.2 162.2,378.2 162.4,364.4 162.7,360.8 163,377.1 163.2,358.1 163.5,364.4 163.8,359.5 164,354.3 164.3,368.4 164.6,362.4 164.8,362.8 165.1,354.6 165.4,353.5 165.6,360 165.9,357.4 166.2,366.4 166.4,366.4 166.7,364.9 167,365.4 167.2,364.6 167.5,362.8 167.8,366.6 168.1,368.5 168.3,367.7 168.6,392.5 168.9,378.2 169.1,363.2 169.4,360 169.7,352 169.9,366.9 170.2,353.7 170.5,361 170.7,355.2 171,365.7 171.3,356.2 171.5,360.7 171.8,355.2 172.1,371.7 172.3,355.6 172.6,362.3 172.9,366.3 173.1,374.5 173.4,376 173.7,356.8 173.9,364.1 174.2,357.3 174.5,370.7 174.7,367.9 175,357.2 175.3,360.1 175.6,359.5 175.8,365.6 176.1,358.7 176.4,374 176.6,374.1 176.9,356.4 177.2,359.1 177.4,354.8 177.7,368.1 178,379.8 178.2,353.8 178.5,359.2 178.8,377.9 179,367.8 179.3,385 179.6,369.5 179.8,346.8 180.1,351.6 180.4,363.7 180.6,361.9 180.9,368.3 181.2,354.9 181.4,379.7 181.7,380 182,374.9 182.2,352 182.5,382 182.8,350.5 183,350.4 183.3,339.2 183.6,372.9 183.9,379.4 184.1,359.8 184.4,363.6 184.7,355.4 184.9,355.2 185.2,359.2 185.5,355.7 185.7,363.2 186,359 186.3,380.9 186.5,356.8 186.8,353.5 187.1,387.6 187.3,377.2 187.6,358.4 187.9,349.3 188.1,355.8 188.4,371.3 188.7,351.8 188.9,374.5 189.2,364.5 189.5,366.3 189.7,380 190,343.3 190.3,379.1 190.5,351.7 190.8,382 191.1,375.7 191.4,361.3 191.6,372.8 191.9,360.7 192.2,365.6 192.4,359.7 192.7,354.1 193,351.9 193.2,368.5 193.5,364.5 193.8,376.2 194,363.9 194.3,356.6 194.6,387.6 194.8,379.3 195.1,352 195.4,349.8 195.6,365.6 195.9,364.6 196.2,378.3 196.4,378 196.7,366.7 197,362.1 197.2,363.3 197.5,376.3 197.8,369.1 198,359.8 198.3,363.6 198.6,369.3 198.8,353.9 199.1,364.2 199.4,372.8 199.7,367.7 199.9,369.3 200.2,353.5 200.5,360.1 200.7,355 201,357.3 201.3,375.2 201.5,363.4 201.8,364.7 202.1,367 202.3,368.4 202.6,368.4 202.9,374.2 203.1,368.1 203.4,364 203.7,360.2 203.9,366.9 204.2,370.2 204.5,370 204.7,370.4 205,356.5 205.3,363.5 205.5,363.9 205.8,357.1 206.1,374.2 206.3,365.3 206.6,368.5 206.9,356.8 207.2,362.6 207.4,365.8 207.7,363.5 208,357.8 208.2,365.4 208.5,373.1 208.8,369.2 209,373.5 209.3,364.6 209.6,354.6 209.8,375.2 210.1,358.4 210.4,356.3 210.6,364.1 210.9,366.5 211.2,361.5 211.4,364.8 211.7,369.9 212,362.1 212.2,367.2 212.5,358.3 212.8,370.7 213,357.1 213.3,365.4 213.6,357.2 213.8,372.2 214.1,356.5 214.4,361.2 214.6,368.6 214.9,358.1 215.2,368.4 215.5,361.2 215.7,363.6 216,373.8 216.3,361.1 216.5,360.7 216.8,370.2 217.1,363.1 217.3,365.7 217.6,360.7 217.9,386.1 218.1,373.1 218.4,370.1 218.7,373.2 218.9,373.5 219.2,373 219.5,357.4 219.7,358.6 220,356.5 220.3,358.8 220.5,361.9 220.8,376.8 221.1,378.2 221.3,356.9 221.6,362.4 221.9,361.6 222.1,360.2 222.4,356.5 222.7,367.2 223,364.3 223.2,365.7 223.5,350.8 223.8,363.5 224,369 224.3,374.9 224.6,366.1 224.8,363.3 225.1,365.1 225.4,362.6 225.6,357.5 225.9,367.7 226.2,370.3 226.4,362.4 226.7,363.3 227,365.8 227.2,368.7 227.5,366.4 227.8,372.3 228,370.8 228.3,365.4 228.6,369 228.8,357.3 229.1,372.8 229.4,362.4 229.6,358 229.9,358.4 230.2,362.7 230.4,369.5 230.7,363.3 231,362.8 231.3,374.4 231.5,374.7 231.8,364.5 232.1,375.2 232.3,361.4 232.6,360.4 232.9,363.3 233.1,363.9 233.4,368.6 233.7,364.4 233.9,372.2 234.2,365.2 234.5,359.5 234.7,383.5 235,356.3 235.3,370.4 235.5,369.6 235.8,374.2 236.1,364.4 236.3,377.8 236.6,357.3 236.9,376 237.1,373.1 237.4,359.9 237.7,360.1 237.9,362.6 238.2,363.3 238.5,365 238.8,360.8 239,362.9 239.3,364 239.6,377.8 239.8,363.3 240.1,355.2 240.4,359.4 240.6,377.7 240.9,357.8 241.2,354.8 241.4,351.4 241.7,375.3 242,363.1 242.2,364.9 242.5,361.1 242.8,368.4 243,362.9 243.3,366.5 243.6,379.1 243.8,370.4 244.1,367.9 244.4,368.8 244.6,368 244.9,373.3 245.2,356.8 245.4,380.2 245.7,355.3 246,367.6 246.3,377.7 246.5,354.4 246.8,366.8 247.1,365.1 247.3,363.2 247.6,366.4 247.9,368.2 248.1,370.5 248.4,375.4 248.7,371.6 248.9,357.6 249.2,357.5 249.5,356.3 249.7,364 250,355.1 250.3,376.6 250.5,359 250.8,362.1 251.1,357.9 251.3,359.3 251.6,362.5 251.9,361.1 252.1,366.2 252.4,375.5 252.7,366 252.9,359.9 253.2,377.1 253.5,364.6 253.7,365.1 254,354.7 254.3,366.7 254.6,363.5 254.8,368.7 255.1,353.4 255.4,362.4 255.6,358.5 255.9,369.3 256.2,365.4 256.4,368.6 256.7,361.7 257,362.5 257.2,361.3 257.5,361.3 257.8,360.4 258,354.3 258.3,368.1 258.6,369.8 258.8,366.9 259.1,365.4 259.4,356.8 259.6,365.4 259.9,351.4 260.2,370.3 260.4,366.2 260.7,372.6 261,366.6 261.2,354.4 261.5,371.7 261.8,363.5 262.1,372.8 262.3,359.8 262.6,356.2 262.9,354.9 263.1,372.1 263.4,363.8 263.7,360.6 263.9,366.3 264.2,364.8 264.5,367.1 264.7,359.5 265,354.4 265.3,357.9 265.5,370.1 265.8,371 266.1,358.2 266.3,362 266.6,364.8 266.9,383.5 267.1,370.7 267.4,368.6 267.7,364.5 267.9,369.4 268.2,352.8 268.5,362.4 268.7,350.5 269,365.8 269.3,381.1 269.5,381.2 269.8,361.4 270.1,375.8 270.4,358.4 270.6,370.4 270.9,373.7 271.2,360.9 271.4,359 271.7,367.8 272,352.4 272.2,397.2 272.5,355.6 272.8,357.2 273,355.9 273.3,357.8 273.6,386.5 273.8,350.5 274.1,367.8 274.4,362.4 274.6,369.3 274.9,360.9 275.2,439.4 275.4,370.9 275.7,350.7 276,366.3 276.2,363.1 276.5,324.2 276.8,388.3 277,425.4 277.3,379 277.6,365.7 277.9,371.4 278.1,344.3 278.4,301.2 278.7,374.7 278.9,353.4 279.2,400.1 279.5,347.2 279.7,344.3 280,333.9 280.3,344.6 280.5,392.3 280.8,384.4 281.1,365 281.3,336.4 281.6,364.9 281.9,354.3 282.1,373.8 282.4,375 282.7,365.1 282.9,340.7 283.2,359.4 283.5,383.5 283.7,378.2 284,371.4 284.3,376.3 284.5,349.5 284.8,369 285.1,363.9 285.3,366.6 285.6,372.9 285.9,366.1 286.2,369.9 286.4,362.4 286.7,359.8 287,363.3 287.2,382.6 287.5,369.8 287.8,339.4 288,351.8 288.3,372.3 288.6,380.3 288.8,362.7 289.1,367.1 289.4,369.1 289.6,372.6 289.9,377.7 290.2,350.9 290.4,370.3 290.7,357.2 291,356.3 291.2,367.5 291.5,361.9 291.8,374.3 292,350.4 292.3,359.3 292.6,363.9 292.8,339.4 293.1,384.9 293.4,351 293.7,366 293.9,379 294.2,377.6 294.5,361.4 294.7,352.4 295,351.4 295.3,359.8 295.5,366.1 295.8,360.6 296.1,352.7 296.3,376.4 296.6,367.4 296.9,352.7 297.1,370.2 297.4,358 297.7,364.1 297.9,375.8 298.2,374.8 298.5,355.2 298.7,374.9 299,362.4 299.3,363.5 299.5,363.6 299.8,369.7 300.1,375.3 300.3,352.5 300.6,367 300.9,366.1 301.1,352.5 301.4,368.7 301.7,362.1 302,366 302.2,365.2 302.5,370.4 302.8,346.6 303,361.1 303.3,358.7 303.6,374.4 303.8,377.7 304.1,359.6 304.4,359.3 304.6,353.8 304.9,354 305.2,372.7 305.4,374.7 305.7,358.6 306,366.2 306.2,362.3 306.5,363 306.8,357.9 307,357.6 307.3,366.9 307.6,355.3 307.8,356.2 308.1,376.9 308.4,361.8 308.6,370.5 308.9,355.8 309.2,385.5 309.5,375.7 309.7,356.8 310,372.1 310.3,367.9 310.5,359.9 310.8,369.4 311.1,361.1 311.3,370.4 311.6,371.7 311.9,373.4 312.1,365.4 312.4,367.3 312.7,350.5 312.9,368.7 313.2,359.4 313.5,373.8 313.7,362.8 314,355 314.3,361 314.5,373.7 314.8,352.4 315.1,364.3 315.3,367.1 315.6,374.4 315.9,373.9 316.1,371.2 316.4,372.1 316.7,361.6 316.9,352.4 317.2,366.4 317.5,362.5 317.8,358.6 318,357.9 318.3,390.4 318.6,362.4 318.8,366.5 319.1,368.3 319.4,365.4 319.6,376 319.9,356 320.2,361.2 320.4,352.4 320.7,344 321,358.9 321.2,372.5 321.5,354.7 321.8,359.4 322,360 322.3,369.5 322.6,360.6 322.8,363.2 323.1,370.6 323.4,354.6 323.6,369.6 323.9,370.2 324.2,364 324.4,360.2 324.7,368 325,362 325.3,374.8 325.5,361.6 325.8,362.6 326.1,357.8 326.3,355.3 326.6,368.3 326.9,355.8 327.1,359.8 327.4,367.5 327.7,372 327.9,359.2 328.2,366.1 328.5,357.5 328.7,367.7 329,371.2 329.3,361.7 329.5,373.6 329.8,364.1 330.1,365.9 330.3,375.4 330.6,364 330.9,352.5 331.1,350.5 331.4,376.7 331.7,375.8 331.9,353 332.2,375.9 332.5,356.9 332.7,353.5 333,353.7 333.3,365 333.6,374.6 333.8,358.7 334.1,366.6 334.4,363.1 334.6,354.8 334.9,376.8 335.2,361.6 335.4,378.3 335.7,362.2 336,372.6 336.2,368.4 336.5,366.8 336.8,355.3 337,367.2 337.3,355.9 337.6,371.9 337.8,362.1 338.1,373.7 338.4,362.9 338.6,358.5 338.9,375.5 339.2,354.3 339.4,371.1 339.7,371.2 340,369.2 340.2,361.9 340.5,382.6 340.8,366.8 341.1,360.6 341.3,349.1 341.6,361.5 341.9,367 342.1,361.1 342.4,373.4 342.7,357.6 342.9,365.5 343.2,366.1 343.5,352.6 343.7,367 344,369.2 344.3,367.5 344.5,363.6 344.8,372 345.1,357.5 345.3,363.8 345.6,364.7 345.9,357 346.1,370.4 346.4,377.4 346.7,341.7 346.9,374.9 347.2,359 347.5,358.6 347.7,356.7 348,366.6 348.3,367.1 348.6,372.1 348.8,363.5 349.1,364.5 349.4,353.6 349.6,378.7 349.9,369.7 350.2,363.1 350.4,374.5 350.7,355.7 351,368.5 351.2,376.4 351.5,367.9 351.8,372 352,359.4 352.3,361.6 352.6,369.9 352.8,352.9 353.1,365.2 353.4,351.4 353.6,368.5 353.9,353.1 354.2,365.4 354.4,369.9 354.7,368.7 355,382.2 355.2,378.4 355.5,359.8 355.8,353.9 356,371.7 356.3,356.1 356.6,365.2 356.9,358.1 357.1,359.5 357.4,366.5 357.7,362 357.9,372.6 358.2,361.6 358.5,358.6 358.7,371.4 359,367.3 359.3,380.6 359.5,354.4 359.8,376.1 360.1,355.2 360.3,355.1 360.6,375.5 360.9,379.4 361.1,364.3 361.4,379.5 361.7,354.8 361.9,362.8 362.2,359.4 362.5,369.2 362.7,359.7 363,360.7 363.3,364.1 363.5,377 363.8,354.2 364.1,359.6 364.4,358.5 364.6,355.2 364.9,360 365.2,357.3 365.4,351.8 365.7,364.7 366,385.5 366.2,380.4 366.5,373.6 366.8,367.8 367,353.8 367.3,380.4 367.6,380.4 367.8,356.9 368.1,368.5 368.4,356.3 368.6,353.9 368.9,363.2 369.2,367.3 369.4,364.3 369.7,377.2 370,364.6 370.2,357.9 370.5,360.5 370.8,360.7 371,352.8 371.3,375.5 371.6,355.1 371.8,366.3 372.1,362.1 372.4,372.1 372.7,364.1 372.9,364.5 373.2,358.1 373.5,364.1 373.7,372.5 374,386.5 374.3,365.7 374.5,364.8 374.8,366 375.1,367.5 375.3,366.6 375.6,365 375.9,367.8 376.1,363.4 376.4,363.3 376.7,356.9 376.9,370.4 377.2,367.7 377.5,357.2 377.7,359.1 378,361.3 378.3,370.9 378.5,380.4 378.8,371.9 379.1,377.9 379.3,369.3 379.6,383.5 379.9,365 380.2,357.7 380.4,360.4 380.7,364.6 381,359.7 381.2,371 381.5,361.4 381.8,357.7 382,379.1 382.3,360.1 382.6,350.5 382.8,353.8 383.1,357.7 383.4,375.8 383.6,353.9 383.9,365.6 384.2,366.1 384.4,370.6 384.7,363.2 385,370 385.2,354.5 385.5,374.8 385.8,375.4 386,375.2 386.3,368 386.6,375.8 386.8,360.4 387.1,375.1 387.4,353.4 387.6,354.5 387.9,358 388.2,366.8 388.5,370.9 388.7,356.6 389,373.1 389.3,354.7 389.5,376.8 389.8,364.5 390.1,377.2 390.3,372.4 390.6,358.9 390.9,353.4 391.1,377.9 391.4,367.6 391.7,367.7 391.9,360.6 392.2,356.3 392.5,385.5 392.7,351.4 393,353.1 393.3,378.3 393.5,362.2 393.8,368.4 394.1,364 394.3,377.7 394.6,373.6 394.9,360.9 395.1,344.6 395.4,376.9 395.7,360.3 396,362.3 396.2,361.5 396.5,362.6 396.8,377.7 397,371.7 397.3,372.4 397.6,358.7 397.8,355.2 398.1,354.4 398.4,361 398.6,364.5 398.9,370.3 399.2,355.4 399.4,361.9 399.7,368.3" fill="none" stroke="#3f0000" stroke-width="1.7" stroke-linejoin="round" stroke-linecap="round"/>
</g>
<g>
<text transform="translate(630.1,271.5) scale(0.866,1)" text-anchor="middle" font-size="15">DNIGERIA</text>
<path d="M460.8 319.5H799.4M460.8 344.8H799.4M460.8 370.2H799.4M460.8 395.6H799.4M460.8 421.0H799.4M460.8 446.3H799.4" stroke="#e6e6e6" stroke-width="1.8" fill="none"/>
<path d="M529.7 294.9V472.9M597.0 294.9V472.9M663.8 294.9V472.9M731.7 294.9V472.9" stroke="#e6e6e6" stroke-width="2" fill="none"/>
<text transform="translate(456.4,298.1) scale(1.06,1)" text-anchor="end" font-size="12">.08</text><text transform="translate(456.4,323.5) scale(1.06,1)" text-anchor="end" font-size="12">.06</text><text transform="translate(456.4,348.8) scale(1.06,1)" text-anchor="end" font-size="12">.04</text><text transform="translate(456.4,374.2) scale(1.06,1)" text-anchor="end" font-size="12">.02</text><text transform="translate(456.4,399.6) scale(1.06,1)" text-anchor="end" font-size="12">.00</text><text transform="translate(456.4,425.0) scale(1.06,1)" text-anchor="end" font-size="12">-.02</text><text transform="translate(456.4,450.3) scale(1.06,1)" text-anchor="end" font-size="12">-.04</text><text transform="translate(456.4,475.7) scale(1.06,1)" text-anchor="end" font-size="12">-.06</text>
<text transform="translate(471.5,488.0) scale(1.09,1)" text-anchor="middle" font-size="11.4">I</text><text transform="translate(488.0,488.0) scale(1.09,1)" text-anchor="middle" font-size="11.4">II</text><text transform="translate(505.5,488.0) scale(1.09,1)" text-anchor="middle" font-size="11.4">III</text><text transform="translate(522.3,488.0) scale(1.09,1)" text-anchor="middle" font-size="11.4">IV</text><text transform="translate(538.5,488.0) scale(1.09,1)" text-anchor="middle" font-size="11.4">I</text><text transform="translate(554.8,488.0) scale(1.09,1)" text-anchor="middle" font-size="11.4">II</text><text transform="translate(572.3,488.0) scale(1.09,1)" text-anchor="middle" font-size="11.4">III</text><text transform="translate(589.8,488.0) scale(1.09,1)" text-anchor="middle" font-size="11.4">IV</text><text transform="translate(606.5,488.0) scale(1.09,1)" text-anchor="middle" font-size="11.4">I</text><text transform="translate(623.0,488.0) scale(1.09,1)" text-anchor="middle" font-size="11.4">II</text><text transform="translate(639.5,488.0) scale(1.09,1)" text-anchor="middle" font-size="11.4">III</text><text transform="translate(657.1,488.0) scale(1.09,1)" text-anchor="middle" font-size="11.4">IV</text><text transform="translate(674.9,488.0) scale(1.09,1)" text-anchor="middle" font-size="11.4">I</text><text transform="translate(689.6,488.0) scale(1.09,1)" text-anchor="middle" font-size="11.4">II</text><text transform="translate(707.3,488.0) scale(1.09,1)" text-anchor="middle" font-size="11.4">III</text><text transform="translate(724.7,488.0) scale(1.09,1)" text-anchor="middle" font-size="11.4">IV</text><text transform="translate(741.8,488.0) scale(1.09,1)" text-anchor="middle" font-size="11.4">I</text><text transform="translate(757.4,488.0) scale(1.09,1)" text-anchor="middle" font-size="11.4">II</text><text transform="translate(775.1,488.0) scale(1.09,1)" text-anchor="middle" font-size="11.4">III</text><text transform="translate(793.0,488.0) scale(1.09,1)" text-anchor="middle" font-size="11.4">IV</text>
<text transform="translate(498.1,508.6) scale(1.07,1)" text-anchor="middle" font-size="12">2017</text><text transform="translate(563.4,508.6) scale(1.07,1)" text-anchor="middle" font-size="12">2018</text><text transform="translate(631.1,508.6) scale(1.07,1)" text-anchor="middle" font-size="12">2019</text><text transform="translate(698.2,508.6) scale(1.07,1)" text-anchor="middle" font-size="12">2020</text><text transform="translate(768.4,508.6) scale(1.07,1)" text-anchor="middle" font-size="12">2021</text>
<polyline points="462.7,380.4 463,398.6 463.2,410.4 463.5,390.6 463.8,392.6 464,399.1 464.3,384.8 464.6,396.7 464.8,397.2 465.1,395.3 465.4,391.2 465.6,398.3 465.9,403.2 466.2,397.3 466.4,392.9 466.7,396.2 467,393.8 467.2,398.6 467.5,394.4 467.8,399.1 468,392.6 468.3,391.9 468.6,402.4 468.8,397.6 469.1,398.2 469.4,406.2 469.6,399.7 469.9,390.5 470.2,393 470.4,391.9 470.7,396.3 471,394.7 471.2,390.9 471.5,391.8 471.8,398.3 472,396.8 472.3,392.6 472.6,393.7 472.8,401.5 473.1,400 473.4,390.9 473.6,417.9 473.9,400 474.2,396.4 474.4,397.5 474.7,367.2 475,399.1 475.2,397 475.5,399.9 475.8,393.1 476,409.1 476.3,392.3 476.6,390.3 476.8,392.3 477.1,408.6 477.4,399.6 477.6,395.3 477.9,390.2 478.1,394.6 478.4,396 478.7,398.7 478.9,394.6 479.2,393.9 479.5,403.2 479.7,381.5 480,387.4 480.3,400.3 480.5,389.9 480.8,386.6 481.1,390.8 481.3,398.6 481.6,389.8 481.9,410 482.1,397.6 482.4,399.4 482.7,401.2 482.9,393.1 483.2,396.9 483.5,367.2 483.7,396.1 484,391.4 484.3,401.3 484.5,386.4 484.8,402.5 485.1,392.2 485.3,397.5 485.6,399.9 485.9,398.5 486.1,355.7 486.4,402.2 486.7,401.4 486.9,385.6 487.2,396.3 487.5,426.8 487.7,408.1 488,402.9 488.3,393.2 488.5,400.6 488.8,386.6 489.1,394.2 489.3,406.5 489.6,389.4 489.9,396.8 490.1,410.6 490.4,386.2 490.7,346.7 490.9,411.5 491.2,389.8 491.5,398 491.7,388.5 492,393 492.3,382.6 492.5,390.3 492.8,393.2 493.1,391.4 493.3,398.5 493.6,395.5 493.9,372.3 494.1,391.3 494.4,429.5 494.7,409.8 494.9,386.3 495.2,397.9 495.5,371.8 495.7,400 496,404 496.3,409.4 496.5,381.3 496.8,388.2 497.1,401.1 497.3,383.2 497.6,382.4 497.9,407.1 498.1,414.7 498.4,402.1 498.7,394.9 498.9,381.6 499.2,387.3 499.5,392.8 499.7,387.9 500,385.6 500.3,403.2 500.5,402.3 500.8,353.4 501.1,432.2 501.3,403.7 501.6,392.1 501.9,385.4 502.1,394.7 502.4,404.5 502.7,395.4 502.9,365.8 503.2,412.2 503.5,400.2 503.7,379.9 504,404.3 504.3,402 504.5,430.7 504.8,409.4 505.1,383.5 505.3,401.9 505.6,375.5 505.9,403.6 506.1,411.8 506.4,392.2 506.7,402.1 506.9,404.4 507.2,406.7 507.5,415.2 507.7,402.1 508,388.5 508.3,377.8 508.5,392.5 508.8,390.4 509,391.8 509.3,395.1 509.6,390.9 509.8,396.1 510.1,385.6 510.4,389.2 510.6,394.4 510.9,419 511.2,402.6 511.4,394.6 511.7,405 512,395.6 512.2,390.1 512.5,401.1 512.8,404.1 513,389.8 513.3,396.7 513.6,393.3 513.8,377.8 514.1,383.9 514.4,387.8 514.6,396.1 514.9,385.2 515.2,396 515.4,406.2 515.7,392 516,402.2 516.2,396.2 516.5,397.1 516.8,399.1 517,397.7 517.3,392.2 517.6,394.8 517.8,398.3 518.1,400.8 518.4,392.8 518.6,396.5 518.9,395.2 519.2,393.2 519.4,388.2 519.7,395.4 520,395.9 520.2,400.8 520.5,403.8 520.8,393.3 521,392.5 521.3,393 521.6,407.8 521.8,396.4 522.1,397.1 522.4,404.2 522.6,395.8 522.9,381.5 523.2,401.9 523.4,399.6 523.7,372.5 524,396.3 524.2,404.6 524.5,397.9 524.8,397.1 525,406.4 525.3,406.7 525.6,390.2 525.8,397.1 526.1,397 526.4,416.4 526.6,400.7 526.9,405.5 527.2,401.6 527.4,389.5 527.7,395 528,378.5 528.2,381.2 528.5,416.4 528.8,401.2 529,390.9 529.3,392 529.6,378.4 529.8,391.7 530.1,390.2 530.4,404.6 530.6,394.8 530.9,397.3 531.2,350.4 531.4,395.9 531.7,393.9 532,379.3 532.2,383.3 532.5,391 532.8,397.4 533,369.5 533.3,383 533.6,402.5 533.8,411.5 534.1,407.8 534.4,388.5 534.6,393.1 534.9,388.4 535.2,395.9 535.4,394.9 535.7,398.5 536,381.5 536.2,398.1 536.5,390.8 536.8,411.1 537,401.3 537.3,426.8 537.6,393.5 537.8,407 538.1,395 538.4,402.5 538.6,394.1 538.9,379.9 539.2,398.9 539.4,413.6 539.7,392.6 539.9,394.9 540.2,400.2 540.5,365.4 540.7,404.9 541,400.9 541.3,380 541.5,394 541.8,387.7 542.1,416 542.3,386.7 542.6,408.4 542.9,405.3 543.1,396.4 543.4,383.8 543.7,393 543.9,394.6 544.2,399.3 544.5,408.1 544.7,394.9 545,392.1 545.3,394 545.5,408.6 545.8,400.6 546.1,389 546.3,408.8 546.6,398.3 546.9,416 547.1,375.5 547.4,405.2 547.7,393.3 547.9,398.8 548.2,398.1 548.5,398.2 548.7,386.2 549,398.7 549.3,385.7 549.5,391.9 549.8,393.1 550.1,394.9 550.3,392.8 550.6,395.5 550.9,388.8 551.1,394.9 551.4,386.1 551.7,380.4 551.9,392.5 552.2,392.8 552.5,387.2 552.7,395.1 553,394.3 553.3,407 553.5,393.9 553.8,393.7 554.1,402.5 554.3,384.3 554.6,394.4 554.9,400.5 555.1,398.6 555.4,402.6 555.7,385.6 555.9,381 556.2,394.4 556.5,403.5 556.7,398.3 557,389.9 557.3,393.2 557.5,394.7 557.8,448.6 558.1,365.4 558.3,395.2 558.6,394.2 558.9,400 559.1,396.6 559.4,391.3 559.7,394.9 559.9,391.9 560.2,391.4 560.5,395.3 560.7,396.6 561,387.1 561.3,397.8 561.5,400.9 561.8,411.5 562.1,394.1 562.3,404.9 562.6,394.2 562.9,390.3 563.1,377.8 563.4,398.2 563.7,394.9 563.9,390.2 564.2,400.3 564.5,389.9 564.7,399.6 565,406.2 565.3,386.2 565.5,397.9 565.8,390.4 566.1,406.2 566.3,399.3 566.6,388.7 566.9,395.6 567.1,402.4 567.4,399.5 567.7,395.5 567.9,398.7 568.2,385.7 568.5,398 568.7,403.9 569,389.9 569.3,395.1 569.5,389.4 569.8,393.6 570,400.3 570.3,394.4 570.6,390.2 570.8,399.6 571.1,396.4 571.4,424.6 571.6,394.3 571.9,403.8 572.2,405.7 572.4,372.5 572.7,398.7 573,391.7 573.2,403.4 573.5,390.9 573.8,390.2 574,386.4 574.3,391.1 574.6,393.4 574.8,398.4 575.1,404.9 575.4,389.8 575.6,395.5 575.9,409.6 576.2,391.1 576.4,441.2 576.7,405.6 577,396.3 577.2,401.6 577.5,390.1 577.8,401.6 578,388.3 578.3,394.6 578.6,370.6 578.8,400.7 579.1,393.5 579.4,401.5 579.6,395.7 579.9,397 580.2,406.2 580.4,387.7 580.7,398.9 581,389 581.2,392.1 581.5,392.8 581.8,394.4 582,395.6 582.3,386.1 582.6,397 582.8,412.4 583.1,393.8 583.4,394 583.6,390.7 583.9,401.1 584.2,390.1 584.4,397.4 584.7,426.8 585,382.2 585.2,404.5 585.5,395.4 585.8,388.7 586,387.5 586.3,400.7 586.6,397.8 586.8,391.4 587.1,403.3 587.4,399.7 587.6,393.9 587.9,396.4 588.2,393.9 588.4,401.1 588.7,399.2 589,392.1 589.2,401.3 589.5,398 589.8,396 590,399.2 590.3,397 590.6,397.4 590.8,413 591.1,396.1 591.4,391.6 591.6,389.7 591.9,383.8 592.2,395.4 592.4,389.6 592.7,390 593,399.9 593.2,394.7 593.5,401.7 593.8,399.4 594,406.7 594.3,384.6 594.6,397.8 594.8,392.4 595.1,401.2 595.4,348.2 595.6,408.1 595.9,423.5 596.2,417.7 596.4,397.3 596.7,389.8 597,395.1 597.2,398.5 597.5,401.4 597.8,425.8 598,387.7 598.3,394.2 598.6,394.4 598.8,388.9 599.1,401.7 599.4,375.5 599.6,403 599.9,396 600.2,399.7 600.4,397.1 600.7,383.1 600.9,403.6 601.2,399.5 601.5,390.8 601.7,403.5 602,399.7 602.3,416.2 602.5,395.3 602.8,391.9 603.1,420.5 603.3,386.5 603.6,394.7 603.9,387.2 604.1,397.2 604.4,384.5 604.7,368.8 604.9,394.3 605.2,382.6 605.5,400.8 605.7,400.5 606,397 606.3,403.5 606.5,397.3 606.8,406.1 607.1,391.9 607.3,416.4 607.6,392.2 607.9,392.3 608.1,395.8 608.4,392.9 608.7,391.6 608.9,413.9 609.2,402.6 609.5,383.8 609.7,388.5 610,411.2 610.3,386.2 610.5,399.3 610.8,413.2 611.1,406 611.3,405.5 611.6,402.6 611.9,408.8 612.1,394 612.4,398.3 612.7,385.7 612.9,398.1 613.2,397.3 613.5,398.2 613.7,393.5 614,419 614.3,392.9 614.5,408.9 614.8,390 615.1,395.8 615.3,393.4 615.6,395.8 615.9,391.9 616.1,395.2 616.4,392.9 616.7,403.2 616.9,385.7 617.2,394.4 617.5,391.9 617.7,392.3 618,395.9 618.3,393.5 618.5,394.5 618.8,391.8 619.1,393.9 619.3,393.8 619.6,389.5 619.9,404.3 620.1,411.5 620.4,405.2 620.7,396.3 620.9,392.1 621.2,395.5 621.5,401.7 621.7,397.2 622,395.4 622.3,393.8 622.5,391.3 622.8,402.1 623.1,356.8 623.3,390.4 623.6,390.2 623.9,394 624.1,396.4 624.4,424.6 624.7,389.1 624.9,350.4 625.2,399.4 625.5,392.6 625.7,408.1 626,408.8 626.3,389.5 626.5,398 626.8,392.6 627.1,402.4 627.3,390.4 627.6,398.5 627.9,410.7 628.1,393 628.4,390.6 628.7,397.3 628.9,398.2 629.2,387 629.5,400.4 629.7,401.2 630,400.1 630.3,396 630.5,393.6 630.8,396.8 631,403.8 631.3,395.6 631.6,392 631.8,393.7 632.1,392 632.4,420.1 632.6,397.4 632.9,400.3 633.2,399.6 633.4,398.6 633.7,380.8 634,399.7 634.2,385.4 634.5,395.5 634.8,388.4 635,398.3 635.3,391.9 635.6,393.1 635.8,393.7 636.1,388.6 636.4,400.8 636.6,401.6 636.9,386 637.2,398.1 637.4,391.7 637.7,395.5 638,390 638.2,405.5 638.5,402 638.8,396.5 639,383.1 639.3,392.6 639.6,399.3 639.8,396.3 640.1,386.9 640.4,392.4 640.6,395.5 640.9,392.7 641.2,394.3 641.4,393.9 641.7,404.2 642,397.9 642.2,408.4 642.5,399.8 642.8,388 643,383.2 643.3,407.4 643.6,398.5 643.8,395.8 644.1,379.2 644.4,392 644.6,393.7 644.9,388.9 645.2,400.3 645.4,404.4 645.7,391.3 646,386.8 646.2,399.3 646.5,394.8 646.8,382.1 647,397 647.3,392.7 647.6,396.3 647.8,410 648.1,398.1 648.4,389.9 648.6,397.1 648.9,394.2 649.2,395.7 649.4,398.6 649.7,386.8 650,401.1 650.2,398.5 650.5,382.1 650.8,405.9 651,396.7 651.3,398 651.6,396.9 651.8,393.6 652.1,393.4 652.4,387.7 652.6,390.3 652.9,392.9 653.2,393.5 653.4,397.9 653.7,398.2 654,394.8 654.2,403.5 654.5,388.7 654.8,390.3 655,393.9 655.3,373 655.6,397.2 655.8,393.7 656.1,387.8 656.4,395.9 656.6,393.5 656.9,395.4 657.2,396.1 657.4,393.1 657.7,388.9 658,396.3 658.2,398.5 658.5,395.7 658.8,389.8 659,394.2 659.3,399.6 659.6,401 659.8,401.4 660.1,387 660.4,397.3 660.6,398.8 660.9,399.7 661.2,392.8 661.4,396.9 661.7,391.8 661.9,415.2 662.2,397.4 662.5,400.4 662.7,403.4 663,388.4 663.3,400.3 663.5,401.9 663.8,385 664.1,399.9 664.3,383.8 664.6,391.3 664.9,400.2 665.1,395.3 665.4,351 665.7,395.2 665.9,410.4 666.2,397.7 666.5,399.3 666.7,397.6 667,398 667.3,395.4 667.5,389.6 667.8,399.8 668.1,387.5 668.3,395.3 668.6,402.3 668.9,397.2 669.1,395.5 669.4,398.1 669.7,393 669.9,394.2 670.2,395 670.5,403.7 670.7,410.4 671,389.9 671.3,400.1 671.5,408.1 671.8,403.7 672.1,391.8 672.3,409.5 672.6,388.9 672.9,403.1 673.1,405.6 673.4,385 673.7,412.3 673.9,392.9 674.2,422.8 674.5,416.6 674.7,390.6 675,394.7 675.3,422.2 675.5,431.7 675.8,389.4 676.1,374 676.3,384.2 676.6,395.5 676.9,453.6 677.1,460 677.4,394.5 677.7,440.1 677.9,391.3 678.2,392.6 678.5,382.1 678.7,393.6 679,437.3 679.3,437.6 679.5,436.7 679.8,420.3 680.1,416.5 680.3,413.4 680.6,393.9 680.9,393.8 681.1,392.1 681.4,401.2 681.7,414.9 681.9,421.1 682.2,409.2 682.5,404.7 682.7,408.9 683,356.8 683.3,395.4 683.5,395.4 683.8,389.7 684.1,394.1 684.3,414.2 684.6,381.1 684.9,396.3 685.1,396.4 685.4,377.9 685.7,401.3 685.9,397.2 686.2,389.1 686.5,389.6 686.7,398.7 687,355.9 687.3,395.2 687.5,391 687.8,391.3 688.1,403.3 688.3,413.3 688.6,396.9 688.9,397 689.1,408.9 689.4,402.4 689.7,373.4 689.9,386.2 690.2,378.5 690.5,381.6 690.7,391.7 691,394.1 691.3,388.4 691.5,388.6 691.8,398.2 692.1,403 692.3,391.5 692.6,397.9 692.8,389.5 693.1,408.4 693.4,384.7 693.6,390 693.9,394.8 694.2,394.4 694.4,397.4 694.7,404.4 695,390.4 695.2,398.2 695.5,390.2 695.8,387.1 696,402.7 696.3,390.1 696.6,395.3 696.8,393.3 697.1,400.6 697.4,400.6 697.6,404.7 697.9,415.2 698.2,386 698.4,398.2 698.7,395 699,402.8 699.2,395.8 699.5,392.5 699.8,391.4 700,393.2 700.3,390 700.6,387.2 700.8,386.7 701.1,398 701.4,395.9 701.6,402.2 701.9,377.7 702.2,392.2 702.4,398.4 702.7,396.6 703,395.3 703.2,389.5 703.5,393 703.8,394.9 704,390.7 704.3,396.8 704.6,387.8 704.8,383.1 705.1,402.6 705.4,395.8 705.6,389.9 705.9,390.3 706.2,393.7 706.4,393.7 706.7,393.4 707,393.7 707.2,396.5 707.5,397.1 707.8,392 708,394.5 708.3,394.3 708.6,399.2 708.8,394.9 709.1,397.1 709.4,396 709.6,393.2 709.9,395.9 710.2,397 710.4,397.2 710.7,399.6 711,391.9 711.2,396.5 711.5,395.8 711.8,396.1 712,388.4 712.3,394.3 712.6,391.7 712.8,392.6 713.1,391.8 713.4,390.5 713.6,395.7 713.9,397.1 714.2,400.2 714.4,400.8 714.7,391.3 715,393.8 715.2,396.4 715.5,397.5 715.8,396.6 716,334.1 716.3,371.7 716.6,407.4 716.8,394 717.1,395.9 717.4,392.5 717.6,396.3 717.9,397.6 718.2,395.7 718.4,400.3 718.7,387.9 719,378.1 719.2,398.8 719.5,350 719.8,406.6 720,398.7 720.3,402.6 720.6,400.3 720.8,378.8 721.1,403.4 721.4,397.6 721.6,380.6 721.9,318.9 722.2,397.8 722.4,386.2 722.7,404.9 722.9,384 723.2,416.2 723.5,397.4 723.7,396.2 724,389.5 724.3,366.6 724.5,409.9 724.8,400.9 725.1,390.9 725.3,409.9 725.6,397.4 725.9,404.8 726.1,390.9 726.4,389.6 726.7,401.2 726.9,389.2 727.2,414.2 727.5,409 727.7,402.5 728,404.3 728.3,396.6 728.5,395.1 728.8,388.4 729.1,397.7 729.3,405.4 729.6,393.7 729.9,395.2 730.1,406.7 730.4,365.6 730.7,395.4 730.9,398 731.2,385.9 731.5,396.4 731.7,411.4 732,419.1 732.3,400.5 732.5,396.8 732.8,383.5 733.1,401.5 733.3,397.5 733.6,402.1 733.9,377.3 734.1,390.8 734.4,398.6 734.7,396.2 734.9,397.4 735.2,400.3 735.5,386.8 735.7,400.8 736,400.2 736.3,399.6 736.5,390.5 736.8,381.2 737.1,407.2 737.3,403.2 737.6,393 737.9,394.2 738.1,393 738.4,393 738.7,393.2 738.9,421.1 739.2,394.2 739.5,399.9 739.7,401.6 740,393.2 740.3,400.9 740.5,407.5 740.8,395.2 741.1,392.8 741.3,391.4 741.6,395 741.9,388.9 742.1,405.3 742.4,395.3 742.7,395.9 742.9,398.7 743.2,402.1 743.5,396.9 743.7,418.1 744,395.9 744.3,404 744.5,393.2 744.8,390.6 745.1,389 745.3,401.3 745.6,399.3 745.9,386.3 746.1,406.5 746.4,391.9 746.7,405 746.9,391.4 747.2,383.1 747.5,407 747.7,393.3 748,392.3 748.3,397.9 748.5,397 748.8,397.9 749.1,398.2 749.3,397.8 749.6,406.5 749.9,399.4 750.1,401.1 750.4,395.1 750.7,395.7 750.9,397.3 751.2,390.3 751.5,388.1 751.7,397 752,393.6 752.3,395.9 752.5,389.4 752.8,391.3 753.1,398.5 753.3,384.1 753.6,391.4 753.8,389.1 754.1,392.4 754.4,394.2 754.6,394.4 754.9,395.4 755.2,391.1 755.4,390.7 755.7,390.3 756,392.2 756.2,400.6 756.5,401.1 756.8,396.6 757,400.2 757.3,415.2 757.6,406 757.8,396.8 758.1,389.1 758.4,405 758.6,403.1 758.9,394.4 759.2,393.9 759.4,395.5 759.7,397 760,390.9 760.2,387 760.5,400.2 760.8,402.5 761,406.4 761.3,392.8 761.6,391.4 761.8,395 762.1,404.8 762.4,400.6 762.6,398.6 762.9,393.2 763.2,395.1 763.4,424 763.7,395.8 764,391.6 764.2,398.8 764.5,398.8 764.8,392.8 765,386 765.3,403.5 765.6,400.9 765.8,394.3 766.1,402.1 766.4,395.3 766.6,406.9 766.9,387.7 767.2,411.3 767.4,398.6 767.7,394.2 768,375.3 768.2,393.5 768.5,399.4 768.8,399.5 769,401.5 769.3,392.3 769.6,398.4 769.8,396.7 770.1,388.2 770.4,395.8 770.6,392.4 770.9,394.9 771.2,388.3 771.4,392.2 771.7,397.7 772,375.3 772.2,397.5 772.5,399.4 772.8,404.5 773,393.5 773.3,396.1 773.6,401.7 773.8,400.8 774.1,390.4 774.4,400.1 774.6,392.5 774.9,393.5 775.2,389.5 775.4,393.2 775.7,394 776,397.3 776.2,394.9 776.5,394.1 776.8,392.8 777,397.1 777.3,397.1 777.6,391.8 777.8,392 778.1,395.5 778.4,394.1 778.6,403.5 778.9,396.5 779.2,393.6 779.4,388.5 779.7,395.8 780,391.7 780.2,388.7 780.5,398.1 780.8,387.1 781,395.8 781.3,398.8 781.6,371.4 781.8,382.6 782.1,397.5 782.4,388.5 782.6,400.2 782.9,398 783.2,384.1 783.4,396.5 783.7,390.4 784,393.7 784.2,398.8 784.5,403.5 784.7,396.8 785,400 785.3,400 785.5,382.1 785.8,396.6 786.1,392.5 786.3,386.2 786.6,391.3 786.9,397 787.1,397.2 787.4,398.3 787.7,398.8 787.9,395.9 788.2,397 788.5,394 788.7,358.8 789,393.1 789.3,400 789.5,396.2 789.8,399.3 790.1,390.9 790.3,405.5 790.6,388.5 790.9,387.2 791.1,403 791.4,391 791.7,403 791.9,392.8 792.2,393.5 792.5,388.9 792.7,399 793,392 793.3,394.9 793.5,397.9 793.8,405.1 794.1,393.7 794.3,419.1 794.6,392.3 794.9,388 795.1,385.8 795.4,402 795.7,397.8 795.9,390.3 796.2,379.2 796.5,401.5 796.7,387.3 797,395.4 797.3,397.3 797.5,392.3 797.8,401.4 798.1,391.8 798.3,393.4 798.6,397.1 798.9,370.5 799.1,410.4 799.4,401.3" fill="none" stroke="#3f0000" stroke-width="1.7" stroke-linejoin="round" stroke-linecap="round"/>
</g>
<g>
<text transform="translate(1029.9,271.5) scale(0.843,1)" text-anchor="middle" font-size="15">DKENYA</text>
<path d="M861.0 329.6H1200.0M861.0 365.1H1200.0M861.0 400.7H1200.0M861.0 436.2H1200.0" stroke="#e6e6e6" stroke-width="1.8" fill="none"/>
<path d="M929.9 294.9V472.9M997.2 294.9V472.9M1065.0 294.9V472.9M1132.6 294.9V472.9" stroke="#e6e6e6" stroke-width="2" fill="none"/>
<text transform="translate(856.6,298.1) scale(1.06,1)" text-anchor="end" font-size="12">.04</text><text transform="translate(856.6,333.6) scale(1.06,1)" text-anchor="end" font-size="12">.02</text><text transform="translate(856.6,369.1) scale(1.06,1)" text-anchor="end" font-size="12">.00</text><text transform="translate(856.6,404.7) scale(1.06,1)" text-anchor="end" font-size="12">-.02</text><text transform="translate(856.6,440.2) scale(1.06,1)" text-anchor="end" font-size="12">-.04</text><text transform="translate(856.6,475.7) scale(1.06,1)" text-anchor="end" font-size="12">-.06</text>
<text transform="translate(871.7,488.0) scale(1.09,1)" text-anchor="middle" font-size="11.4">I</text><text transform="translate(888.2,488.0) scale(1.09,1)" text-anchor="middle" font-size="11.4">II</text><text transform="translate(905.7,488.0) scale(1.09,1)" text-anchor="middle" font-size="11.4">III</text><text transform="translate(922.5,488.0) scale(1.09,1)" text-anchor="middle" font-size="11.4">IV</text><text transform="translate(938.7,488.0) scale(1.09,1)" text-anchor="middle" font-size="11.4">I</text><text transform="translate(955.0,488.0) scale(1.09,1)" text-anchor="middle" font-size="11.4">II</text><text transform="translate(972.5,488.0) scale(1.09,1)" text-anchor="middle" font-size="11.4">III</text><text transform="translate(990.0,488.0) scale(1.09,1)" text-anchor="middle" font-size="11.4">IV</text><text transform="translate(1006.7,488.0) scale(1.09,1)" text-anchor="middle" font-size="11.4">I</text><text transform="translate(1023.2,488.0) scale(1.09,1)" text-anchor="middle" font-size="11.4">II</text><text transform="translate(1039.7,488.0) scale(1.09,1)" text-anchor="middle" font-size="11.4">III</text><text transform="translate(1057.3,488.0) scale(1.09,1)" text-anchor="middle" font-size="11.4">IV</text><text transform="translate(1075.1,488.0) scale(1.09,1)" text-anchor="middle" font-size="11.4">I</text><text transform="translate(1089.8,488.0) scale(1.09,1)" text-anchor="middle" font-size="11.4">II</text><text transform="translate(1107.5,488.0) scale(1.09,1)" text-anchor="middle" font-size="11.4">III</text><text transform="translate(1124.9,488.0) scale(1.09,1)" text-anchor="middle" font-size="11.4">IV</text><text transform="translate(1142.0,488.0) scale(1.09,1)" text-anchor="middle" font-size="11.4">I</text><text transform="translate(1157.6,488.0) scale(1.09,1)" text-anchor="middle" font-size="11.4">II</text><text transform="translate(1175.3,488.0) scale(1.09,1)" text-anchor="middle" font-size="11.4">III</text><text transform="translate(1193.2,488.0) scale(1.09,1)" text-anchor="middle" font-size="11.4">IV</text>
<text transform="translate(898.3,508.6) scale(1.07,1)" text-anchor="middle" font-size="12">2017</text><text transform="translate(963.6,508.6) scale(1.07,1)" text-anchor="middle" font-size="12">2018</text><text transform="translate(1031.3,508.6) scale(1.07,1)" text-anchor="middle" font-size="12">2019</text><text transform="translate(1098.4,508.6) scale(1.07,1)" text-anchor="middle" font-size="12">2020</text><text transform="translate(1168.6,508.6) scale(1.07,1)" text-anchor="middle" font-size="12">2021</text>
<polyline points="862.9,366.9 863.2,380.2 863.4,359.2 863.7,364.9 864,361.5 864.2,365.9 864.5,374.3 864.8,363.1 865,368.2 865.3,366.2 865.6,375.8 865.8,354.8 866.1,362 866.4,359.5 866.7,373.3 866.9,355.9 867.2,351 867.5,364.2 867.7,360.9 868,367.2 868.3,376.4 868.5,363.5 868.8,360.3 869.1,378.6 869.3,365.9 869.6,358.1 869.9,356.6 870.1,358.2 870.4,362.5 870.7,356.3 870.9,364.5 871.2,397.7 871.5,377.5 871.7,364.3 872,361.1 872.3,363.3 872.5,378.1 872.8,364 873.1,363.9 873.3,373.5 873.6,368.6 873.9,362 874.2,326.1 874.4,362.5 874.7,346 875,375.9 875.2,366.7 875.5,386.5 875.8,374.6 876,373.3 876.3,362.6 876.6,368.7 876.8,341.7 877.1,363.9 877.4,355.4 877.6,379.2 877.9,382.7 878.2,353.8 878.4,370.7 878.7,376.8 879,362.9 879.2,347.5 879.5,381.6 879.8,380 880,368.3 880.3,381.1 880.6,377 880.8,347.7 881.1,365.4 881.4,382.2 881.7,357 881.9,377.3 882.2,380.6 882.5,363.5 882.7,379.4 883,345.3 883.3,345.1 883.5,367.6 883.8,376 884.1,341.7 884.3,346.9 884.6,348.3 884.9,349.2 885.1,358.9 885.4,367.6 885.7,367 885.9,373.5 886.2,364.7 886.5,378.6 886.7,375 887,371.5 887.3,355.4 887.5,363.5 887.8,365.8 888.1,318.7 888.3,368.8 888.6,371.7 888.9,373.2 889.2,383.5 889.4,345.2 889.7,361.2 890,352.6 890.2,378.9 890.5,360.4 890.8,369.8 891,335.5 891.3,368.7 891.6,368.6 891.8,362.6 892.1,355.4 892.4,368.5 892.6,352 892.9,378.3 893.2,365.1 893.4,352.5 893.7,360.1 894,357.8 894.2,369.8 894.5,361.2 894.8,355.3 895,366.8 895.3,367.3 895.6,381 895.8,362.7 896.1,353.4 896.4,365.5 896.7,372.8 896.9,372.9 897.2,370.5 897.5,345.9 897.7,361 898,355.4 898.3,387 898.5,363.5 898.8,359.6 899.1,363.2 899.3,333.9 899.6,344.1 899.9,399.1 900.1,380.4 900.4,347.3 900.7,369.4 900.9,358.3 901.2,347.3 901.5,371.5 901.7,360.8 902,323.8 902.3,366.7 902.5,378.9 902.8,351.4 903.1,349.6 903.3,377 903.6,389.5 903.9,387.4 904.2,369 904.4,351.9 904.7,349.4 905,328.1 905.2,357.9 905.5,367.6 905.8,348 906,431.8 906.3,343.6 906.6,363.7 906.8,378.1 907.1,363.6 907.4,349.6 907.6,353.9 907.9,355 908.2,351.9 908.4,392.3 908.7,344.6 909,370.9 909.2,371.5 909.5,369.6 909.8,384.1 910,366.8 910.3,359.3 910.6,367.6 910.9,355 911.1,347.6 911.4,383.8 911.7,367.1 911.9,345.4 912.2,358 912.5,383.5 912.7,355.2 913,352.6 913.3,368.1 913.5,355.7 913.8,357.6 914.1,357.8 914.3,365.4 914.6,363.9 914.9,375.2 915.1,373.7 915.4,341.7 915.7,353.4 915.9,374.6 916.2,379.5 916.5,350.5 916.7,356.3 917,363 917.3,385.5 917.5,374.6 917.8,367.1 918.1,369.1 918.4,368 918.6,376.3 918.9,360.2 919.2,374.6 919.4,372.2 919.7,349.7 920,375.8 920.2,358.1 920.5,360.3 920.8,342.8 921,323.8 921.3,370.5 921.6,410.4 921.8,360.4 922.1,355.8 922.4,367.1 922.6,361 922.9,359.7 923.2,350.9 923.4,357.2 923.7,372.5 924,344.6 924.2,361.8 924.5,359.9 924.8,361.4 925,382.6 925.3,356.9 925.6,368 925.9,374.7 926.1,348.4 926.4,363.8 926.7,371.1 926.9,371.7 927.2,359.5 927.5,353.9 927.7,370.8 928,367.7 928.3,365.8 928.5,339.4 928.8,365.9 929.1,349.3 929.3,360.7 929.6,360.2 929.9,372.8 930.1,368.8 930.4,365.5 930.7,358.1 930.9,360 931.2,366 931.5,366.7 931.7,348.7 932,370.7 932.3,368.3 932.5,368.2 932.8,357.7 933.1,354.8 933.4,379.7 933.6,358.8 933.9,365.5 934.2,376.5 934.4,397.7 934.7,341.7 935,382 935.2,363.6 935.5,363.7 935.8,362.2 936,361.9 936.3,363.9 936.6,377.9 936.8,357.5 937.1,377.4 937.4,366.7 937.6,349.5 937.9,362 938.2,374 938.4,365.3 938.7,366.8 939,377.1 939.2,362.3 939.5,355.9 939.8,363.7 940,350.7 940.3,369.1 940.6,360.8 940.9,353.9 941.1,372.3 941.4,360.5 941.7,374.8 941.9,340.7 942.2,364.5 942.5,361.8 942.7,376.1 943,343.7 943.3,361.5 943.5,366.1 943.8,357.9 944.1,353.2 944.3,351.9 944.6,350.3 944.9,354.8 945.1,344.5 945.4,340.7 945.7,369.5 945.9,360.7 946.2,352.4 946.5,385.5 946.7,361.6 947,361.8 947.3,355.1 947.5,368.2 947.8,345.1 948.1,384.2 948.4,357.9 948.6,355.3 948.9,376.7 949.2,359.9 949.4,369.9 949.7,375.3 950,374.1 950.2,321.7 950.5,402.6 950.8,355 951,350 951.3,370.1 951.6,371.9 951.8,341 952.1,347.7 952.4,380.8 952.6,346.3 952.9,377.4 953.2,336.8 953.4,369.2 953.7,362.5 954,366.6 954.2,380.6 954.5,344.1 954.8,363.2 955.1,356 955.3,343.6 955.6,361.1 955.9,375.4 956.1,370.9 956.4,371.8 956.7,336.8 956.9,369.8 957.2,374 957.5,367.5 957.7,384.1 958,381.7 958.3,370.7 958.5,345.2 958.8,368 959.1,409.4 959.3,353.2 959.6,356.3 959.9,369 960.1,376 960.4,338.2 960.7,358.9 960.9,358.5 961.2,369.6 961.5,363.1 961.7,392.1 962,396.2 962.3,360.5 962.6,361.3 962.8,356.3 963.1,374.6 963.4,373 963.6,367.9 963.9,351.4 964.2,373.9 964.4,378.8 964.7,367.7 965,370.2 965.2,368.4 965.5,356.2 965.8,367 966,362.7 966.3,373.5 966.6,365.4 966.8,384.9 967.1,359.8 967.4,348.7 967.6,353.4 967.9,345.6 968.2,374.1 968.4,361.4 968.7,338.2 969,361.4 969.2,356.3 969.5,361.9 969.8,353.3 970.1,364.7 970.3,360.3 970.6,370.9 970.9,367.6 971.1,353.2 971.4,383 971.7,361.5 971.9,381.2 972.2,363 972.5,346 972.7,373.4 973,350.9 973.3,415.6 973.5,356.9 973.8,356.9 974.1,361.6 974.3,361.8 974.6,348.9 974.9,397.7 975.1,357.7 975.4,373.4 975.7,358.8 975.9,374.8 976.2,376.6 976.5,397.7 976.7,371.5 977,380.1 977.3,453.6 977.6,318.7 977.8,351.1 978.1,390.2 978.4,354.3 978.6,376.6 978.9,392.4 979.2,357.8 979.4,351.4 979.7,376.6 980,361.7 980.2,397.7 980.5,359.5 980.8,355.3 981,406.5 981.3,385.1 981.6,351.8 981.8,349.9 982.1,369.1 982.4,332.9 982.6,357.1 982.9,359.3 983.2,366.9 983.4,371.6 983.7,371.5 984,364.2 984.2,364 984.5,366.6 984.8,362.6 985.1,331 985.3,356.3 985.6,357.9 985.9,406.5 986.1,341.6 986.4,350.8 986.7,352.3 986.9,371.5 987.2,330.6 987.5,384.5 987.7,365.5 988,381.5 988.3,377.1 988.5,357.1 988.8,374.6 989.1,349.1 989.3,356.8 989.6,360.3 989.9,364 990.1,364.7 990.4,351 990.7,371.6 990.9,368.1 991.2,353.4 991.5,376.7 991.8,372.7 992,378.4 992.3,379.6 992.6,356.7 992.8,360.3 993.1,361.6 993.4,377.4 993.6,386.5 993.9,367.9 994.2,340.7 994.4,359 994.7,354 995,378.5 995.2,385.4 995.5,383.3 995.8,358.5 996,354.2 996.3,373.1 996.6,399.1 996.8,376.2 997.1,351.5 997.4,354.5 997.6,368.6 997.9,369.1 998.2,367.7 998.4,338.2 998.7,342.1 999,364.5 999.3,365.3 999.5,341.6 999.8,355.6 1000.1,369.9 1000.3,367.4 1000.6,341.1 1000.9,355.3 1001.1,350.1 1001.4,365.4 1001.7,316.4 1001.9,362.3 1002.2,377 1002.5,377.3 1002.7,368.3 1003,363.3 1003.3,353.6 1003.5,365.8 1003.8,378 1004.1,357 1004.3,381.7 1004.6,371.3 1004.9,388.4 1005.1,365.8 1005.4,382.1 1005.7,355.3 1005.9,363.1 1006.2,371 1006.5,354.9 1006.8,362.7 1007,354.3 1007.3,369.6 1007.6,364.6 1007.8,360 1008.1,377.6 1008.4,364.6 1008.6,362.2 1008.9,355.1 1009.2,375.6 1009.4,362.3 1009.7,335.5 1010,352.5 1010.2,361.3 1010.5,373.6 1010.8,384.9 1011,366.1 1011.3,363.5 1011.6,361.5 1011.8,358.6 1012.1,361.4 1012.4,365.1 1012.6,344.6 1012.9,362.9 1013.2,370.7 1013.4,359.3 1013.7,359.4 1014,362.7 1014.3,361.3 1014.5,360.8 1014.8,364.1 1015.1,371.4 1015.3,357.5 1015.6,349.6 1015.9,377.9 1016.1,377.8 1016.4,364 1016.7,375.5 1016.9,387.1 1017.2,365.5 1017.5,393.3 1017.7,346 1018,376 1018.3,350.2 1018.5,323.8 1018.8,360.5 1019.1,358.7 1019.3,367 1019.6,376.2 1019.9,362.3 1020.1,361.7 1020.4,385.7 1020.7,387.5 1020.9,408.8 1021.2,368.6 1021.5,367.3 1021.8,386.9 1022,359.1 1022.3,386.4 1022.6,362.4 1022.8,371.9 1023.1,385.7 1023.4,355.5 1023.6,312.5 1023.9,366 1024.2,362 1024.4,361.1 1024.7,362.6 1025,384.1 1025.2,357.3 1025.5,357.3 1025.8,381.3 1026,364.7 1026.3,362.4 1026.6,348.4 1026.8,352.4 1027.1,373.7 1027.4,358.1 1027.6,371.5 1027.9,383.5 1028.2,369.4 1028.4,360.7 1028.7,349.5 1029,375.6 1029.3,375.4 1029.5,366.5 1029.8,372 1030.1,359.3 1030.3,358.1 1030.6,360.6 1030.9,363.5 1031.1,352.7 1031.4,361 1031.7,384.4 1031.9,348.5 1032.2,369 1032.5,355.9 1032.7,355.5 1033,355.6 1033.3,376.6 1033.5,356.9 1033.8,385.9 1034.1,388.4 1034.3,370 1034.6,363.4 1034.9,357.8 1035.1,379 1035.4,361.2 1035.7,359.3 1036,382.5 1036.2,361.1 1036.5,376.7 1036.8,352.9 1037,379.7 1037.3,363.6 1037.6,386.7 1037.8,345.6 1038.1,370.2 1038.4,365.8 1038.6,361.2 1038.9,354.4 1039.2,385.4 1039.4,361.3 1039.7,376.1 1040,383.3 1040.2,370.5 1040.5,377.8 1040.8,359.8 1041,362.8 1041.3,375.7 1041.6,363.4 1041.8,424.4 1042.1,353.4 1042.4,370.7 1042.6,386.2 1042.9,385.8 1043.2,385.4 1043.5,380.8 1043.7,376 1044,373 1044.3,366.9 1044.5,356 1044.8,361 1045.1,362.1 1045.3,364.5 1045.6,356.5 1045.9,365.2 1046.1,361.9 1046.4,362.1 1046.7,381.6 1046.9,351 1047.2,370.4 1047.5,360.2 1047.7,381 1048,374.9 1048.3,369.3 1048.5,366.2 1048.8,369.4 1049.1,355.1 1049.3,384.2 1049.6,367.5 1049.9,360 1050.1,354.6 1050.4,358.6 1050.7,324.2 1051,358.1 1051.2,389.4 1051.5,365.9 1051.8,346.3 1052,359.7 1052.3,368.2 1052.6,312.9 1052.8,361.8 1053.1,350.8 1053.4,361.4 1053.6,356.5 1053.9,368.8 1054.2,415.3 1054.4,349 1054.7,359.9 1055,340.7 1055.2,370.9 1055.5,373.5 1055.8,360.6 1056,368.4 1056.3,350 1056.6,356.2 1056.8,362.1 1057.1,376.7 1057.4,360.6 1057.6,356.6 1057.9,348.6 1058.2,366.1 1058.5,367.7 1058.7,369.5 1059,353.4 1059.3,367 1059.5,366.7 1059.8,349.5 1060.1,372.8 1060.3,356.4 1060.6,373.5 1060.9,375 1061.1,365.9 1061.4,365.3 1061.7,343.2 1061.9,370.1 1062.2,358.2 1062.5,318.7 1062.7,355.5 1063,377.8 1063.3,375.4 1063.5,367.5 1063.8,361.2 1064.1,339.6 1064.3,362.9 1064.6,352 1064.9,352.7 1065.1,327.1 1065.4,350.2 1065.7,396.2 1066,339.3 1066.2,385.6 1066.5,347.5 1066.8,350.7 1067,334.3 1067.3,356.2 1067.6,373.9 1067.8,363.2 1068.1,386.8 1068.4,386.5 1068.6,392.1 1068.9,374.5 1069.2,354.1 1069.4,361.7 1069.7,326.5 1070,349.4 1070.2,380 1070.5,390.9 1070.8,347.2 1071,396.2 1071.3,358.1 1071.6,373.9 1071.8,334.7 1072.1,356 1072.4,371.4 1072.6,373.1 1072.9,344.1 1073.2,379.3 1073.5,417.6 1073.7,388.2 1074,422.8 1074.3,353.7 1074.5,330.4 1074.8,417.2 1075.1,422.9 1075.3,435.5 1075.6,430.9 1075.9,431.9 1076.1,334.7 1076.4,467.2 1076.7,444 1076.9,353.8 1077.2,451 1077.5,417.5 1077.7,348.8 1078,413.3 1078.3,413.1 1078.5,364.7 1078.8,402.8 1079.1,425.5 1079.3,419.5 1079.6,338 1079.9,377.2 1080.2,397.2 1080.4,320.3 1080.7,347 1081,331 1081.2,331 1081.5,382.9 1081.8,384 1082,331 1082.3,405.9 1082.6,393.6 1082.8,365.6 1083.1,384 1083.4,395.1 1083.6,400.5 1083.9,338 1084.2,352.2 1084.4,355.8 1084.7,358.2 1085,354.3 1085.2,310.2 1085.5,352.4 1085.8,346 1086,366.6 1086.3,355.5 1086.6,390.9 1086.8,431.8 1087.1,364.2 1087.4,367.3 1087.7,385.6 1087.9,351.4 1088.2,367.7 1088.5,356.5 1088.7,397.5 1089,313.9 1089.3,407.9 1089.5,396.7 1089.8,364.7 1090.1,374.3 1090.3,372.9 1090.6,370.5 1090.9,370.4 1091.1,367.6 1091.4,360.3 1091.7,354.6 1091.9,379.1 1092.2,344.8 1092.5,383.4 1092.7,376.5 1093,372.6 1093.3,375.1 1093.5,343.6 1093.8,366.2 1094.1,379.9 1094.3,351.6 1094.6,361.4 1094.9,391.3 1095.2,377.7 1095.4,356.8 1095.7,355 1096,364.4 1096.2,356.9 1096.5,363.4 1096.8,378.8 1097,389.2 1097.3,350.4 1097.6,355 1097.8,402.6 1098.1,341.7 1098.4,343.6 1098.6,358 1098.9,359 1099.2,370.5 1099.4,361 1099.7,342.8 1100,355.4 1100.2,369.8 1100.5,359.1 1100.8,367.7 1101,342.1 1101.3,375.6 1101.6,343 1101.8,358.2 1102.1,363 1102.4,376.5 1102.7,430.6 1102.9,329.1 1103.2,364.9 1103.5,381.8 1103.7,344.3 1104,348 1104.3,361.3 1104.5,353.6 1104.8,367.7 1105.1,369.5 1105.3,374.4 1105.6,357.1 1105.9,348.7 1106.1,354.6 1106.4,379.1 1106.7,337.8 1106.9,348.5 1107.2,366 1107.5,371 1107.7,367.3 1108,378.6 1108.3,358.3 1108.5,382.8 1108.8,365 1109.1,353.5 1109.3,388.7 1109.6,391.3 1109.9,328.1 1110.2,355.5 1110.4,367.4 1110.7,387.5 1111,361.1 1111.2,368.3 1111.5,341.5 1111.8,359.9 1112,370.9 1112.3,358.4 1112.6,363.3 1112.8,374.5 1113.1,351.6 1113.4,371.7 1113.6,362.9 1113.9,359.5 1114.2,364.6 1114.4,358.8 1114.7,368.3 1115,370.9 1115.2,349.5 1115.5,361.7 1115.8,365.3 1116,367.3 1116.3,383.5 1116.6,360.2 1116.8,361 1117.1,366.1 1117.4,368.2 1117.7,366.2 1117.9,372.7 1118.2,367.3 1118.5,371.3 1118.7,358.7 1119,361.8 1119.3,372.4 1119.5,369.8 1119.8,373.7 1120.1,356.9 1120.3,368.6 1120.6,361.7 1120.9,352.8 1121.1,372.5 1121.4,376.5 1121.7,325.2 1121.9,368.6 1122.2,372.4 1122.5,363.1 1122.7,387.4 1123,360.2 1123.3,373 1123.5,360.2 1123.8,365.5 1124.1,369.8 1124.4,368.6 1124.6,356.2 1124.9,356.9 1125.2,366.9 1125.4,344.1 1125.7,365.1 1126,341.7 1126.2,348.8 1126.5,364.6 1126.8,355.9 1127,368.1 1127.3,354.6 1127.6,356.5 1127.8,374.2 1128.1,374.8 1128.4,360.6 1128.6,351.7 1128.9,364 1129.2,364.4 1129.4,356.2 1129.7,367.4 1130,344.6 1130.2,371.6 1130.5,361.8 1130.8,363 1131,352.8 1131.3,365.2 1131.6,351.4 1131.9,361.6 1132.1,348.1 1132.4,378.1 1132.7,373.5 1132.9,370.5 1133.2,379.5 1133.5,333.7 1133.7,322.8 1134,358.2 1134.3,367.4 1134.5,368.4 1134.8,380.9 1135.1,371 1135.3,358.8 1135.6,347.5 1135.9,367 1136.1,359.6 1136.4,371.9 1136.7,369.4 1136.9,340.9 1137.2,386.1 1137.5,351.2 1137.7,361.8 1138,366.6 1138.3,378.7 1138.5,356 1138.8,353.7 1139.1,321.3 1139.4,366.3 1139.6,332.3 1139.9,366.7 1140.2,367.5 1140.4,371.3 1140.7,374.4 1141,355.2 1141.2,360.1 1141.5,369.4 1141.8,367.4 1142,372.5 1142.3,354.7 1142.6,374.7 1142.8,379 1143.1,351.1 1143.4,370.7 1143.6,407.9 1143.9,368.8 1144.2,353.3 1144.4,355.7 1144.7,345.1 1145,320.3 1145.2,354.7 1145.5,348.5 1145.8,348.7 1146,361 1146.3,368.2 1146.6,348.6 1146.9,367.4 1147.1,374.3 1147.4,347.4 1147.7,363.8 1147.9,390.9 1148.2,363.9 1148.5,421.5 1148.7,341.7 1149,368.7 1149.3,384.2 1149.5,358.7 1149.8,374.3 1150.1,372 1150.3,361.8 1150.6,354.5 1150.9,332.9 1151.1,361.9 1151.4,339.4 1151.7,367 1151.9,365.5 1152.2,357.4 1152.5,365.8 1152.7,377.9 1153,386.9 1153.3,366.1 1153.5,371.2 1153.8,358.2 1154.1,359.4 1154.4,349.5 1154.6,388.6 1154.9,376.6 1155.2,367.3 1155.4,357.7 1155.7,355.4 1156,357.5 1156.2,392.3 1156.5,374.8 1156.8,368.7 1157,360.1 1157.3,371.7 1157.6,368.5 1157.8,383.8 1158.1,362.8 1158.4,364.9 1158.6,297.3 1158.9,384 1159.2,377 1159.4,405.3 1159.7,385.2 1160,379.1 1160.2,355.3 1160.5,326.1 1160.8,350.7 1161.1,365.6 1161.3,363.4 1161.6,369 1161.9,383.2 1162.1,354.2 1162.4,395.1 1162.7,381.1 1162.9,368.5 1163.2,362.9 1163.5,364.2 1163.7,394.5 1164,377.6 1164.3,363.8 1164.5,340.5 1164.8,359.5 1165.1,376.2 1165.3,356.6 1165.6,404 1165.9,336.4 1166.1,371.3 1166.4,363.5 1166.7,340 1166.9,350.3 1167.2,372.2 1167.5,368.4 1167.7,348.4 1168,376.3 1168.3,361.2 1168.6,359.8 1168.8,338.8 1169.1,362.9 1169.4,362.3 1169.6,346.1 1169.9,370.3 1170.2,372 1170.4,376.1 1170.7,388.4 1171,359.1 1171.2,353 1171.5,381.3 1171.8,349.4 1172,366.5 1172.3,366.5 1172.6,351.6 1172.8,369.6 1173.1,368.5 1173.4,347.1 1173.6,350.9 1173.9,362 1174.2,347.7 1174.4,321.7 1174.7,360.2 1175,342.6 1175.2,372 1175.5,363.4 1175.8,390.1 1176.1,358.2 1176.3,383.3 1176.6,399.1 1176.9,372.9 1177.1,344.3 1177.4,374.8 1177.7,382.9 1177.9,366.5 1178.2,386.1 1178.5,369.8 1178.7,369.5 1179,393.8 1179.3,366.5 1179.5,368.5 1179.8,357.9 1180.1,343.6 1180.3,379 1180.6,388.8 1180.9,361.5 1181.1,400.1 1181.4,359.9 1181.7,376.4 1181.9,344.2 1182.2,391.6 1182.5,361.3 1182.7,380.8 1183,368.3 1183.3,365.8 1183.6,378.1 1183.8,336.4 1184.1,387.8 1184.4,371.3 1184.6,357.2 1184.9,366.3 1185.2,374.2 1185.4,387.4 1185.7,343.4 1186,370 1186.2,348.8 1186.5,360.8 1186.8,347.3 1187,368.3 1187.3,344.6 1187.6,358.9 1187.8,359.4 1188.1,369.7 1188.4,365.9 1188.6,351.1 1188.9,358 1189.2,349.5 1189.4,371.6 1189.7,378.2 1190,365.4 1190.2,376.2 1190.5,390.6 1190.8,351.2 1191.1,374.7 1191.3,341.9 1191.6,351 1191.9,354.8 1192.1,404 1192.4,372.7 1192.7,344.2 1192.9,363.1 1193.2,336.8 1193.5,369.9 1193.7,345.2 1194,357.9 1194.3,360.4 1194.5,350.8 1194.8,349.3 1195.1,362.2 1195.3,381.1 1195.6,360.6 1195.9,375 1196.1,335.9 1196.4,359.1 1196.7,354.3 1196.9,391.1 1197.2,348.3 1197.5,381.6 1197.7,377.3 1198,351.8 1198.3,374.2 1198.6,330.4 1198.8,360.9 1199.1,393.3 1199.4,368.9 1199.6,371.8 1199.9,338.4 1200.2,365.5 1200.4,355.2 1200.7,367.8 1201,333.9 1201.2,371.4 1201.5,367.2" fill="none" stroke="#3f0000" stroke-width="1.7" stroke-linejoin="round" stroke-linecap="round"/>
</g>
<g>
<text transform="translate(228.6,529.8) scale(0.814,1)" text-anchor="middle" font-size="15">DEGYPT</text>
<path d="M59.3 596.1H399.7M59.3 640.7H399.7M59.3 685.2H399.7" stroke="#e6e6e6" stroke-width="1.8" fill="none"/>
<path d="M128.6 552.4V730.9M195.4 552.4V730.9M263.2 552.4V730.9M331.2 552.4V730.9" stroke="#e6e6e6" stroke-width="2" fill="none"/>
<text transform="translate(54.9,555.6) scale(1.06,1)" text-anchor="end" font-size="12">.3</text><text transform="translate(54.9,600.1) scale(1.06,1)" text-anchor="end" font-size="12">.2</text><text transform="translate(54.9,644.7) scale(1.06,1)" text-anchor="end" font-size="12">.1</text><text transform="translate(54.9,689.2) scale(1.06,1)" text-anchor="end" font-size="12">.0</text><text transform="translate(54.9,733.7) scale(1.06,1)" text-anchor="end" font-size="12">-.1</text>
<text transform="translate(70.0,746.0) scale(1.09,1)" text-anchor="middle" font-size="11.4">I</text><text transform="translate(86.5,746.0) scale(1.09,1)" text-anchor="middle" font-size="11.4">II</text><text transform="translate(104.0,746.0) scale(1.09,1)" text-anchor="middle" font-size="11.4">III</text><text transform="translate(120.8,746.0) scale(1.09,1)" text-anchor="middle" font-size="11.4">IV</text><text transform="translate(137.0,746.0) scale(1.09,1)" text-anchor="middle" font-size="11.4">I</text><text transform="translate(153.3,746.0) scale(1.09,1)" text-anchor="middle" font-size="11.4">II</text><text transform="translate(170.8,746.0) scale(1.09,1)" text-anchor="middle" font-size="11.4">III</text><text transform="translate(188.3,746.0) scale(1.09,1)" text-anchor="middle" font-size="11.4">IV</text><text transform="translate(205.0,746.0) scale(1.09,1)" text-anchor="middle" font-size="11.4">I</text><text transform="translate(221.5,746.0) scale(1.09,1)" text-anchor="middle" font-size="11.4">II</text><text transform="translate(238.0,746.0) scale(1.09,1)" text-anchor="middle" font-size="11.4">III</text><text transform="translate(255.6,746.0) scale(1.09,1)" text-anchor="middle" font-size="11.4">IV</text><text transform="translate(273.4,746.0) scale(1.09,1)" text-anchor="middle" font-size="11.4">I</text><text transform="translate(288.1,746.0) scale(1.09,1)" text-anchor="middle" font-size="11.4">II</text><text transform="translate(305.8,746.0) scale(1.09,1)" text-anchor="middle" font-size="11.4">III</text><text transform="translate(323.2,746.0) scale(1.09,1)" text-anchor="middle" font-size="11.4">IV</text><text transform="translate(340.3,746.0) scale(1.09,1)" text-anchor="middle" font-size="11.4">I</text><text transform="translate(355.9,746.0) scale(1.09,1)" text-anchor="middle" font-size="11.4">II</text><text transform="translate(373.6,746.0) scale(1.09,1)" text-anchor="middle" font-size="11.4">III</text><text transform="translate(391.5,746.0) scale(1.09,1)" text-anchor="middle" font-size="11.4">IV</text>
<text transform="translate(96.6,766.6) scale(1.07,1)" text-anchor="middle" font-size="12">2017</text><text transform="translate(161.9,766.6) scale(1.07,1)" text-anchor="middle" font-size="12">2018</text><text transform="translate(229.6,766.6) scale(1.07,1)" text-anchor="middle" font-size="12">2019</text><text transform="translate(296.7,766.6) scale(1.07,1)" text-anchor="middle" font-size="12">2020</text><text transform="translate(366.9,766.6) scale(1.07,1)" text-anchor="middle" font-size="12">2021</text>
<polyline points="61.2,674.6 61.5,690.4 61.7,682.3 62,680.9 62.3,691.4 62.5,671.2 62.8,694.8 63.1,684 63.3,675.2 63.6,684.8 63.9,693.2 64.1,685.6 64.4,675.6 64.7,694.3 64.9,683.3 65.2,694.4 65.5,678 65.8,696.2 66,689.2 66.3,690.5 66.6,694.6 66.8,690.5 67.1,664.8 67.4,687.8 67.6,681.8 67.9,688.3 68.2,685.5 68.4,681 68.7,684.6 69,687.3 69.2,688.5 69.5,681.1 69.8,693 70,707.5 70.3,683.6 70.6,694.8 70.8,676.8 71.1,683.5 71.4,684.6 71.6,687.4 71.9,677.5 72.2,684.3 72.4,677.2 72.7,694.6 73,683.3 73.3,693.6 73.5,682 73.8,691 74.1,687.1 74.3,693.2 74.6,695.5 74.9,675.2 75.1,694 75.4,683.4 75.7,687.6 75.9,691.9 76.2,684.3 76.5,686.9 76.7,690.3 77,688.3 77.3,681.9 77.5,696.2 77.8,688.8 78.1,687.9 78.3,687.2 78.6,669.7 78.9,683.2 79.1,687.4 79.4,687.1 79.7,692.2 79.9,679.5 80.2,684.2 80.5,683.4 80.7,686.7 81,679.5 81.3,677.5 81.6,683.6 81.8,684.1 82.1,683.6 82.4,685.3 82.6,689.5 82.9,689.2 83.2,681.7 83.4,681.5 83.7,686.6 84,685.5 84.2,688.6 84.5,691.3 84.8,685.7 85,685.4 85.3,682.6 85.6,688.3 85.8,679.8 86.1,682.4 86.4,688.8 86.6,681.7 86.9,685.5 87.2,700 87.4,686.3 87.7,687.9 88,680.9 88.2,682 88.5,692 88.8,682.1 89.1,691.2 89.3,683.7 89.6,687.3 89.9,681.9 90.1,690.2 90.4,694.1 90.7,684 90.9,684.3 91.2,689.5 91.5,681.4 91.7,682.6 92,689.6 92.3,688.3 92.5,686 92.8,680.9 93.1,680 93.3,684 93.6,702.5 93.9,677.8 94.1,681.4 94.4,691.1 94.7,679.7 94.9,686.3 95.2,685.3 95.5,685.7 95.7,680 96,687.1 96.3,683.7 96.5,684.8 96.8,686.9 97.1,682.7 97.4,687.8 97.6,691 97.9,686.3 98.2,681.2 98.4,682.3 98.7,681.5 99,687.4 99.2,682.5 99.5,681 99.8,683.3 100,680.5 100.3,681 100.6,689 100.8,684.7 101.1,685.8 101.4,687.4 101.6,686.1 101.9,684.5 102.2,688.6 102.4,684.1 102.7,686.8 103,694 103.2,682.5 103.5,682 103.8,683.8 104,687.8 104.3,682.2 104.6,686 104.9,684.1 105.1,687.2 105.4,681 105.7,683 105.9,680.5 106.2,684.2 106.5,684.7 106.7,680.8 107,690.1 107.3,685.2 107.5,691.8 107.8,688.3 108.1,684.3 108.3,684.8 108.6,684.9 108.9,686.9 109.1,682.2 109.4,680.3 109.7,680.1 109.9,684.1 110.2,687.3 110.5,690.2 110.7,690.1 111,686.7 111.3,688.8 111.5,679.6 111.8,685.7 112.1,689.7 112.3,689.6 112.6,678.7 112.9,689.5 113.2,683.5 113.4,684.5 113.7,688.4 114,687 114.2,689.5 114.5,680.5 114.8,680.8 115,683.5 115.3,679.9 115.6,689.6 115.8,683.3 116.1,687.1 116.4,684.2 116.6,678.9 116.9,686.6 117.2,679.9 117.4,686.3 117.7,685.4 118,688.2 118.2,679.9 118.5,689.5 118.8,686.8 119,700 119.3,687.3 119.6,685.5 119.8,677.8 120.1,690.5 120.4,686.4 120.7,686.2 120.9,688.4 121.2,683.9 121.5,688.4 121.7,687.5 122,683.9 122.3,686.9 122.5,685.9 122.8,688.2 123.1,678.4 123.3,689.4 123.6,681.6 123.9,686.1 124.1,690.2 124.4,678.2 124.7,675.2 124.9,683.9 125.2,683.9 125.5,684.4 125.7,687.5 126,678.2 126.3,685.7 126.5,684.4 126.8,673.8 127.1,687.3 127.3,687.4 127.6,681.1 127.9,685.2 128.2,686.6 128.4,688.8 128.7,684.2 129,681.7 129.2,682 129.5,688.5 129.8,684.5 130,684.2 130.3,685.8 130.6,684.9 130.8,683.9 131.1,687.3 131.4,683.6 131.6,682.8 131.9,683.2 132.2,686.3 132.4,684.3 132.7,682.2 133,685.2 133.2,681.9 133.5,686.4 133.8,684.2 134,686.6 134.3,686.4 134.6,689.5 134.8,682.5 135.1,686.1 135.4,688.3 135.6,684.1 135.9,687.4 136.2,685.5 136.5,689.6 136.7,679 137,689.1 137.3,684.2 137.5,679.5 137.8,684.2 138.1,687.4 138.3,684.9 138.6,687.9 138.9,685.9 139.1,692.5 139.4,688.8 139.7,686.7 139.9,682.9 140.2,688.5 140.5,681.5 140.7,677.3 141,672.7 141.3,677.2 141.5,686.2 141.8,687.4 142.1,679.8 142.3,686.2 142.6,685.7 142.9,686.3 143.1,680.7 143.4,686 143.7,684.1 144,688.7 144.2,680.9 144.5,684.9 144.8,685.1 145,689.6 145.3,686.4 145.6,684.6 145.8,682.1 146.1,689.4 146.4,685.2 146.6,676 146.9,684.1 147.2,688.5 147.4,684.6 147.7,677 148,689.2 148.2,677 148.5,684 148.8,689.5 149,681.8 149.3,682.4 149.6,683.9 149.8,682.3 150.1,677.4 150.4,690.5 150.6,677.6 150.9,688 151.2,687.8 151.4,685.3 151.7,683.1 152,673.8 152.3,692.1 152.5,686.4 152.8,679.6 153.1,680 153.3,693 153.6,676.8 153.9,683.3 154.1,683.4 154.4,681.7 154.7,695.2 154.9,682.1 155.2,683.2 155.5,684.9 155.7,688.1 156,683.6 156.3,690.7 156.5,683.7 156.8,693.1 157.1,676 157.3,683.7 157.6,686.2 157.9,680.9 158.1,688.3 158.4,678.3 158.7,684.2 158.9,684.9 159.2,684.7 159.5,694.7 159.8,694.8 160,692.3 160.3,694.8 160.6,685.1 160.8,676.8 161.1,686.4 161.4,695 161.6,695 161.9,689.2 162.2,696.7 162.4,679.6 162.7,675 163,690.2 163.2,689.3 163.5,686 163.8,684.6 164,683.3 164.3,677.4 164.6,681.9 164.8,677.6 165.1,677.7 165.4,682.2 165.6,692 165.9,681.8 166.2,683.7 166.4,681 166.7,677.8 167,680.3 167.2,679.6 167.5,697.5 167.8,680.4 168.1,684.4 168.3,686.7 168.6,687.5 168.9,683.9 169.1,690.4 169.4,687.1 169.7,683.9 169.9,682.2 170.2,682.4 170.5,688.7 170.7,694.3 171,694.1 171.3,697.5 171.5,685.7 171.8,685.2 172.1,675 172.3,682.6 172.6,683.2 172.9,690.4 173.1,684.4 173.4,689.5 173.7,682.9 173.9,687.5 174.2,687 174.5,681.5 174.7,681.3 175,695.2 175.3,676 175.6,694.3 175.8,683.6 176.1,681 176.4,681.1 176.6,689 176.9,691.1 177.2,692.8 177.4,688.7 177.7,694 178,689 178.2,688 178.5,682 178.8,683.1 179,689.6 179.3,685.5 179.6,692.6 179.8,705.5 180.1,686.3 180.4,681 180.6,687.2 180.9,677.8 181.2,696.1 181.4,696.2 181.7,676 182,683 182.2,690.4 182.5,689 182.8,677.1 183,688.9 183.3,706.8 183.6,690.2 183.9,683.9 184.1,676.1 184.4,679.8 184.7,672.7 184.9,683.5 185.2,683.6 185.5,690.9 185.7,692.7 186,689.7 186.3,679.8 186.5,683.3 186.8,685.4 187.1,697.5 187.3,682.3 187.6,682.8 187.9,685.7 188.1,689.6 188.4,679.7 188.7,680.8 188.9,683.1 189.2,695.9 189.5,680.8 189.7,681.4 190,686.5 190.3,695.8 190.5,683 190.8,673.8 191.1,684.9 191.4,690.2 191.6,685.2 191.9,692.3 192.2,675.8 192.4,683.6 192.7,683.5 193,700.5 193.2,684.6 193.5,677.1 193.8,677.1 194,683.7 194.3,686.5 194.6,691 194.8,682.1 195.1,681.8 195.4,687.5 195.6,672.7 195.9,684.4 196.2,686 196.4,676.1 196.7,676.4 197,687.6 197.2,676.8 197.5,691 197.8,677.3 198,680.1 198.3,685 198.6,678 198.8,682.4 199.1,686.1 199.4,689.2 199.7,678.2 199.9,688.9 200.2,688.2 200.5,680.9 200.7,684.5 201,683.6 201.3,681.4 201.5,681.4 201.8,681.7 202.1,693.2 202.3,686.2 202.6,687.7 202.9,687 203.1,684.1 203.4,686.1 203.7,691.5 203.9,680.4 204.2,685.9 204.5,690.7 204.7,687.4 205,680.7 205.3,581.5 205.5,677.9 205.8,688.1 206.1,680.2 206.3,689.1 206.6,685.5 206.9,688.3 207.2,673.8 207.4,683.2 207.7,682.1 208,685.2 208.2,684.2 208.5,684.3 208.8,684.4 209,682.9 209.3,678.6 209.6,684.4 209.8,685.5 210.1,685.6 210.4,691 210.6,690.6 210.9,688.1 211.2,683 211.4,690 211.7,686.4 212,687.6 212.2,680.5 212.5,677.8 212.8,684.4 213,681.3 213.3,687.2 213.6,692.2 213.8,687.7 214.1,693.2 214.4,687.9 214.6,682.4 214.9,685 215.2,681 215.5,683.5 215.7,688.8 216,685.1 216.3,684.2 216.5,686 216.8,689.1 217.1,686.9 217.3,682.6 217.6,683.5 217.9,682.8 218.1,685 218.4,686 218.7,684.5 218.9,688 219.2,684.6 219.5,687.1 219.7,684.4 220,691 220.3,685.5 220.5,685.6 220.8,685.6 221.1,685 221.3,687.9 221.6,684.5 221.9,687 222.1,682 222.4,686.3 222.7,683.9 223,686.5 223.2,700 223.5,685.1 223.8,690 224,687.8 224.3,686.9 224.6,681.4 224.8,682.4 225.1,693.2 225.4,682.8 225.6,679.4 225.9,683.4 226.2,687.2 226.4,683.3 226.7,686.4 227,685.2 227.2,695.2 227.5,676 227.8,689 228,683.6 228.3,687.1 228.6,685.5 228.8,681.5 229.1,683.8 229.4,689 229.6,684.5 229.9,686 230.2,686.4 230.4,680.8 230.7,686.2 231,686.1 231.3,685.5 231.5,681.1 231.8,677.5 232.1,691.1 232.3,678.2 232.6,678.1 232.9,690.9 233.1,679.7 233.4,678 233.7,690.6 233.9,691 234.2,683 234.5,689.2 234.7,687.4 235,686 235.3,687.3 235.5,685.3 235.8,683.2 236.1,681.6 236.3,689.3 236.6,681.6 236.9,677.5 237.1,686.7 237.4,685.4 237.7,680.9 237.9,687 238.2,678.4 238.5,680.2 238.8,677.2 239,684.1 239.3,673.8 239.6,694 239.8,683.4 240.1,679.7 240.4,687.3 240.6,680 240.9,691.4 241.2,688.5 241.4,684.8 241.7,688.1 242,686.1 242.2,687.1 242.5,688.8 242.8,693.3 243,690.3 243.3,681.9 243.6,693 243.8,679.1 244.1,683.4 244.4,691.5 244.6,688.3 244.9,686.5 245.2,685.8 245.4,684.3 245.7,687.4 246,687.1 246.3,686.6 246.5,683 246.8,686.5 247.1,712.8 247.3,687.1 247.6,668.5 247.9,679 248.1,692.5 248.4,681.2 248.7,689.2 248.9,686.1 249.2,688.9 249.5,685.5 249.7,682.3 250,686.9 250.3,687.1 250.5,684.1 250.8,679.7 251.1,685.5 251.3,678.2 251.6,686.1 251.9,687.1 252.1,688.6 252.4,684.8 252.7,681.9 252.9,681.7 253.2,684.9 253.5,688 253.7,681.3 254,685.4 254.3,679.9 254.6,686.6 254.8,688.2 255.1,688.4 255.4,680.7 255.6,684.1 255.9,682.7 256.2,678.6 256.4,690.8 256.7,687.7 257,685.9 257.2,685.7 257.5,691.9 257.8,685.7 258,692.5 258.3,688.2 258.6,690.9 258.8,682.7 259.1,682.3 259.4,683.1 259.6,687.7 259.9,690.8 260.2,696.2 260.4,692.7 260.7,678.7 261,677.5 261.2,681.5 261.5,684.1 261.8,681.9 262.1,691.7 262.3,683.4 262.6,679 262.9,679.5 263.1,688.3 263.4,688.6 263.7,684.3 263.9,689.5 264.2,679.9 264.5,688.5 264.7,688.3 265,684.8 265.3,686.2 265.5,691.1 265.8,690.3 266.1,681.4 266.3,709.5 266.6,684.7 266.9,673.8 267.1,690.1 267.4,678.1 267.7,690.1 267.9,681.2 268.2,686.5 268.5,685 268.7,687.1 269,681.1 269.3,685 269.5,678.3 269.8,687.4 270.1,682 270.4,691.2 270.6,677.5 270.9,683.5 271.2,683.5 271.4,678.8 271.7,691.3 272,692.2 272.2,682.9 272.5,683.3 272.8,679.7 273,692.5 273.3,690.1 273.6,686.4 273.8,684.4 274.1,692.5 274.4,680.5 274.6,683.8 274.9,685.4 275.2,686.4 275.4,681.1 275.7,688.5 276,684.4 276.2,686.4 276.5,693.8 276.8,685.2 277,715.5 277.3,697 277.6,697.2 277.9,681 278.1,678.2 278.4,692 278.7,687.3 278.9,684.2 279.2,728.5 279.5,694.6 279.7,699.1 280,676.9 280.3,688.9 280.5,681.7 280.8,659.8 281.1,681.2 281.3,711.2 281.6,684.3 281.9,675.8 282.1,689.1 282.4,680 282.7,685.9 282.9,678.7 283.2,676.2 283.5,681.3 283.7,686.2 284,682.6 284.3,669 284.5,693.9 284.8,694.8 285.1,695.5 285.3,680.7 285.6,687.7 285.9,692.5 286.2,685.6 286.4,688.9 286.7,679.2 287,683.9 287.2,685.3 287.5,678.4 287.8,675.4 288,673.8 288.3,691.7 288.6,678.9 288.8,686.4 289.1,701.5 289.4,677.4 289.6,684.2 289.9,687 290.2,672.7 290.4,681.9 290.7,684.7 291,686.1 291.2,692.8 291.5,689.3 291.8,688.1 292,684 292.3,680.8 292.6,679.4 292.8,688.1 293.1,689.8 293.4,684.3 293.7,690.9 293.9,667.5 294.2,686.2 294.5,691.7 294.7,694.8 295,686.8 295.3,677.1 295.5,675.4 295.8,682.1 296.1,690.2 296.3,681.7 296.6,685.4 296.9,686.9 297.1,681.2 297.4,686.6 297.7,672.7 297.9,694.3 298.2,692.2 298.5,686 298.7,684 299,687.3 299.3,690.5 299.5,681.6 299.8,681.7 300.1,689.3 300.3,691.2 300.6,686.6 300.9,684.7 301.1,688.7 301.4,697.5 301.7,684.3 302,688.7 302.2,688.6 302.5,683.1 302.8,686.6 303,678.2 303.3,680.3 303.6,692 303.8,684.2 304.1,689.9 304.4,683.9 304.6,684.4 304.9,683.8 305.2,683.3 305.4,683 305.7,685.3 306,685.2 306.2,687.3 306.5,686.6 306.8,688 307,684.3 307.3,676 307.6,687.5 307.8,681.7 308.1,679.6 308.4,679 308.6,683.9 308.9,683.2 309.2,681.7 309.5,686.3 309.7,682.2 310,681.2 310.3,684.2 310.5,682.1 310.8,685.5 311.1,684.9 311.3,696.2 311.6,679.8 311.9,683.9 312.1,682.5 312.4,690.2 312.7,685.5 312.9,683.8 313.2,684.3 313.5,684.1 313.7,690.8 314,688.9 314.3,681.1 314.5,684.9 314.8,683.8 315.1,685.3 315.3,690.9 315.6,689.9 315.9,685.1 316.1,683.5 316.4,679 316.7,692 316.9,682.7 317.2,679.8 317.5,686.3 317.8,689 318,681.8 318.3,686.3 318.6,685.8 318.8,691.3 319.1,686.2 319.4,685.4 319.6,692.5 319.9,688.5 320.2,683.1 320.4,683.1 320.7,680.4 321,687.7 321.2,679.9 321.5,688.2 321.8,684.9 322,686.4 322.3,675 322.6,680.1 322.8,683.1 323.1,688.1 323.4,688.8 323.6,687.9 323.9,687.5 324.2,688.7 324.4,683.7 324.7,688.8 325,686.3 325.3,686.5 325.5,683 325.8,681.9 326.1,689 326.3,682.4 326.6,687.4 326.9,685.8 327.1,686.6 327.4,688 327.7,680.5 327.9,686.3 328.2,680.7 328.5,680.6 328.7,683.7 329,680.3 329.3,685.7 329.5,680.2 329.8,684.1 330.1,680.8 330.3,683.5 330.6,681.8 330.9,702.5 331.1,680.8 331.4,685.6 331.7,680.6 331.9,689 332.2,685.5 332.5,678.4 332.7,684.6 333,676.8 333.3,687.5 333.6,686.7 333.8,686.1 334.1,680.9 334.4,683 334.6,688.2 334.9,686.6 335.2,679.2 335.4,683.1 335.7,685.4 336,680.1 336.2,681.3 336.5,683.9 336.8,688.8 337,687.3 337.3,688.6 337.6,683 337.8,686.5 338.1,683.7 338.4,685.3 338.6,685.7 338.9,679.8 339.2,686.7 339.4,683.6 339.7,689.5 340,683.7 340.2,686.7 340.5,683.3 340.8,686.6 341.1,680 341.3,688.9 341.6,684.9 341.9,685.8 342.1,691 342.4,689.4 342.7,685.5 342.9,682 343.2,687.7 343.5,677.5 343.7,684.5 344,688.6 344.3,678.2 344.5,692.2 344.8,683.1 345.1,680.7 345.3,687.9 345.6,685 345.9,693.2 346.1,678.1 346.4,693 346.7,685.7 346.9,681.7 347.2,697.5 347.5,688.9 347.7,675 348,692.3 348.3,686.7 348.6,686.2 348.8,682.5 349.1,685.4 349.4,684 349.6,689.2 349.9,685.4 350.2,682.6 350.4,685.9 350.7,678.6 351,679.6 351.2,687.9 351.5,679.4 351.8,690.5 352,682 352.3,680.6 352.6,695.2 352.8,677.5 353.1,694.3 353.4,690.9 353.6,685.2 353.9,683.3 354.2,682.4 354.4,681.9 354.7,683.8 355,682.8 355.2,689.5 355.5,683.8 355.8,689.5 356,689.7 356.3,684.8 356.6,683.1 356.9,684 357.1,679 357.4,686.3 357.7,683.1 357.9,694.7 358.2,683.7 358.5,696.2 358.7,689.9 359,687.3 359.3,685.5 359.5,679 359.8,680.1 360.1,678.8 360.3,686.2 360.6,690.8 360.9,684 361.1,690.7 361.4,685.7 361.7,689.7 361.9,684 362.2,678.2 362.5,690.6 362.7,680.9 363,673.8 363.3,687.2 363.5,690.5 363.8,692 364.1,690.9 364.4,694.5 364.6,687.2 364.9,684.8 365.2,687.4 365.4,687.4 365.7,685.6 366,696.2 366.2,678.7 366.5,678.5 366.8,684.4 367,679.8 367.3,684.5 367.6,684.3 367.8,682.4 368.1,682.2 368.4,677.5 368.6,680.1 368.9,684.4 369.2,681.2 369.4,684.7 369.7,686.6 370,687.3 370.2,691.2 370.5,691 370.8,687.1 371,683.3 371.3,691 371.6,682.4 371.8,679.2 372.1,688.2 372.4,687.1 372.7,685.7 372.9,686.8 373.2,689.3 373.5,679.5 373.7,683.1 374,683.4 374.3,678.7 374.5,684.2 374.8,685.5 375.1,681.2 375.3,687.6 375.6,686 375.9,683.7 376.1,684.4 376.4,693.4 376.7,679.3 376.9,679.3 377.2,695.5 377.5,684.3 377.7,687 378,680.2 378.3,687.6 378.5,680.7 378.8,679.3 379.1,687.9 379.3,682.9 379.6,683.6 379.9,681.6 380.2,694.8 380.4,690.6 380.7,689.3 381,678.7 381.2,683.6 381.5,689.6 381.8,688 382,680.8 382.3,680.8 382.6,679.6 382.8,688.9 383.1,683.3 383.4,690.3 383.6,689.6 383.9,683.1 384.2,685.9 384.4,691.1 384.7,687.1 385,685.2 385.2,683.2 385.5,685.1 385.8,680.4 386,690.5 386.3,691 386.6,682.3 386.8,682.1 387.1,679.8 387.4,690.6 387.6,689.8 387.9,683.5 388.2,690.8 388.5,682.4 388.7,685 389,684.1 389.3,690.7 389.5,686.1 389.8,682.6 390.1,686.2 390.3,679.8 390.6,690.7 390.9,685.7 391.1,680.2 391.4,688.3 391.7,684.5 391.9,689.5 392.2,676 392.5,692.5 392.7,681.3 393,691.3 393.3,682.7 393.5,682.5 393.8,686.1 394.1,679.9 394.3,686.5 394.6,687.4 394.9,683.1 395.1,689.6 395.4,687.6 395.7,684.3 396,691 396.2,679.8 396.5,681.4 396.8,684.9 397,688.3 397.3,686 397.6,686.8 397.8,684.1 398.1,681.7 398.4,683.4 398.6,685.7 398.9,682 399.2,682.3 399.4,686.5 399.7,683.6" fill="none" stroke="#3f0000" stroke-width="1.7" stroke-linejoin="round" stroke-linecap="round"/>
</g>
<g>
<text transform="translate(630.3,529.8) scale(0.884,1)" text-anchor="middle" font-size="15">DMOROCCO</text>
<path d="M460.8 587.2H799.4M460.8 622.8H799.4M460.8 658.5H799.4M460.8 694.1H799.4" stroke="#e6e6e6" stroke-width="1.8" fill="none"/>
<path d="M529.7 552.4V730.9M597.0 552.4V730.9M663.8 552.4V730.9M731.7 552.4V730.9" stroke="#e6e6e6" stroke-width="2" fill="none"/>
<text transform="translate(456.4,555.6) scale(1.06,1)" text-anchor="end" font-size="12">.08</text><text transform="translate(456.4,591.2) scale(1.06,1)" text-anchor="end" font-size="12">.04</text><text transform="translate(456.4,626.8) scale(1.06,1)" text-anchor="end" font-size="12">.00</text><text transform="translate(456.4,662.5) scale(1.06,1)" text-anchor="end" font-size="12">-.04</text><text transform="translate(456.4,698.1) scale(1.06,1)" text-anchor="end" font-size="12">-.08</text><text transform="translate(456.4,733.7) scale(1.06,1)" text-anchor="end" font-size="12">-.12</text>
<text transform="translate(471.5,746.0) scale(1.09,1)" text-anchor="middle" font-size="11.4">I</text><text transform="translate(488.0,746.0) scale(1.09,1)" text-anchor="middle" font-size="11.4">II</text><text transform="translate(505.5,746.0) scale(1.09,1)" text-anchor="middle" font-size="11.4">III</text><text transform="translate(522.3,746.0) scale(1.09,1)" text-anchor="middle" font-size="11.4">IV</text><text transform="translate(538.5,746.0) scale(1.09,1)" text-anchor="middle" font-size="11.4">I</text><text transform="translate(554.8,746.0) scale(1.09,1)" text-anchor="middle" font-size="11.4">II</text><text transform="translate(572.3,746.0) scale(1.09,1)" text-anchor="middle" font-size="11.4">III</text><text transform="translate(589.8,746.0) scale(1.09,1)" text-anchor="middle" font-size="11.4">IV</text><text transform="translate(606.5,746.0) scale(1.09,1)" text-anchor="middle" font-size="11.4">I</text><text transform="translate(623.0,746.0) scale(1.09,1)" text-anchor="middle" font-size="11.4">II</text><text transform="translate(639.5,746.0) scale(1.09,1)" text-anchor="middle" font-size="11.4">III</text><text transform="translate(657.1,746.0) scale(1.09,1)" text-anchor="middle" font-size="11.4">IV</text><text transform="translate(674.9,746.0) scale(1.09,1)" text-anchor="middle" font-size="11.4">I</text><text transform="translate(689.6,746.0) scale(1.09,1)" text-anchor="middle" font-size="11.4">II</text><text transform="translate(707.3,746.0) scale(1.09,1)" text-anchor="middle" font-size="11.4">III</text><text transform="translate(724.7,746.0) scale(1.09,1)" text-anchor="middle" font-size="11.4">IV</text><text transform="translate(741.8,746.0) scale(1.09,1)" text-anchor="middle" font-size="11.4">I</text><text transform="translate(757.4,746.0) scale(1.09,1)" text-anchor="middle" font-size="11.4">II</text><text transform="translate(775.1,746.0) scale(1.09,1)" text-anchor="middle" font-size="11.4">III</text><text transform="translate(793.0,746.0) scale(1.09,1)" text-anchor="middle" font-size="11.4">IV</text>
<text transform="translate(498.1,766.6) scale(1.07,1)" text-anchor="middle" font-size="12">2017</text><text transform="translate(563.4,766.6) scale(1.07,1)" text-anchor="middle" font-size="12">2018</text><text transform="translate(631.1,766.6) scale(1.07,1)" text-anchor="middle" font-size="12">2019</text><text transform="translate(698.2,766.6) scale(1.07,1)" text-anchor="middle" font-size="12">2020</text><text transform="translate(768.4,766.6) scale(1.07,1)" text-anchor="middle" font-size="12">2021</text>
<polyline points="462.7,620.4 463,626.9 463.2,594 463.5,621.2 463.8,639.8 464,625.5 464.3,624.9 464.6,623.5 464.8,620.2 465.1,631.3 465.4,627.8 465.6,611.2 465.9,631.1 466.2,623 466.4,620.4 466.7,634.5 467,622.4 467.2,627.5 467.5,623.3 467.8,627.4 468,624.2 468.3,633.7 468.6,632.3 468.8,623.9 469.1,619.6 469.4,614.2 469.6,619.1 469.9,622.6 470.2,615.3 470.4,620.1 470.7,618.2 471,629.4 471.2,615.9 471.5,621.3 471.8,642 472,624.5 472.3,620.9 472.6,623.8 472.8,615 473.1,619.2 473.4,622 473.6,625 473.9,626.4 474.2,624.1 474.4,618.5 474.7,624 475,628.5 475.2,630 475.5,627.2 475.8,628.2 476,624.3 476.3,626.5 476.6,623 476.8,625.4 477.1,627.1 477.4,621.9 477.6,618 477.9,623.6 478.1,619.5 478.4,622.6 478.7,639 478.9,625.3 479.2,621.7 479.5,622.2 479.7,619.2 480,625.8 480.3,621.5 480.5,629.9 480.8,626 481.1,626.4 481.3,621.7 481.6,626.1 481.9,621.2 482.1,618.3 482.4,626.6 482.7,629.2 482.9,616.9 483.2,624 483.5,623 483.7,624.7 484,623.7 484.3,609.8 484.5,626.6 484.8,623.8 485.1,627.2 485.3,616.1 485.6,617.9 485.9,626.1 486.1,629.8 486.4,620.4 486.7,620.7 486.9,624 487.2,632.2 487.5,616.5 487.7,621.4 488,617.8 488.3,618.4 488.5,626.8 488.8,622.5 489.1,617.5 489.3,627.4 489.6,621.4 489.9,621.5 490.1,621.7 490.4,626.5 490.7,615.7 490.9,613.5 491.2,624.2 491.5,626 491.7,626.5 492,620.2 492.3,623.1 492.5,632.2 492.8,623.9 493.1,615.1 493.3,629.4 493.6,614.2 493.9,630.9 494.1,630.5 494.4,622.6 494.7,622.8 494.9,615.8 495.2,631.1 495.5,620.8 495.7,628.6 496,624.6 496.3,621.8 496.5,619.5 496.8,622.5 497.1,606.5 497.3,629.3 497.6,620 497.9,621.8 498.1,622.6 498.4,623.6 498.7,619.5 498.9,622.6 499.2,618.6 499.5,620 499.7,629.6 500,623.6 500.3,622.8 500.5,627 500.8,632.2 501.1,624.2 501.3,623.7 501.6,618 501.9,623.6 502.1,624.7 502.4,623 502.7,620.4 502.9,623.8 503.2,628.3 503.5,621.2 503.7,621.5 504,624.1 504.3,625.5 504.5,627 504.8,621.2 505.1,623 505.3,630 505.6,618.3 505.9,622.1 506.1,623.3 506.4,622.9 506.7,622.5 506.9,627.6 507.2,629.7 507.5,616.5 507.7,620.8 508,618.3 508.3,621.6 508.5,621.3 508.8,620 509,617.2 509.3,623.8 509.6,623.6 509.8,622.8 510.1,618.3 510.4,623.4 510.6,623.9 510.9,622.8 511.2,635 511.4,624.2 511.7,623.4 512,619.8 512.2,620.1 512.5,628.2 512.8,606.5 513,620.2 513.3,620 513.6,620.6 513.8,621.3 514.1,624.2 514.4,617.9 514.6,623.7 514.9,625.9 515.2,620.2 515.4,621.8 515.7,631.5 516,618.8 516.2,627.8 516.5,622.9 516.8,625.5 517,628.6 517.3,625.1 517.6,621.6 517.8,624.1 518.1,621.2 518.4,622.8 518.6,624.6 518.9,621.1 519.2,625.1 519.4,626.3 519.7,630.6 520,618.4 520.2,609.8 520.5,627.3 520.8,620.1 521,618.7 521.3,627.4 521.6,621.7 521.8,630.6 522.1,613.4 522.4,615.2 522.6,616.1 522.9,619 523.2,626.5 523.4,614.4 523.7,624.6 524,619.3 524.2,632.2 524.5,627.3 524.8,620.4 525,623.2 525.3,630 525.6,620 525.8,626 526.1,621.8 526.4,614.2 526.6,622.6 526.9,617.2 527.2,622.8 527.4,623.9 527.7,621.2 528,622.2 528.2,617.9 528.5,623.5 528.8,620.6 529,626.3 529.3,627.8 529.6,617.5 529.8,624 530.1,615.9 530.4,627.8 530.6,625.3 530.9,615.3 531.2,625.6 531.4,624.5 531.7,618.4 532,625.5 532.2,609 532.5,622.3 532.8,623.2 533,628 533.3,629.3 533.6,625.3 533.8,617.1 534.1,623.1 534.4,620.2 534.6,624.7 534.9,609 535.2,620.1 535.4,625.6 535.7,619.7 536,631.5 536.2,621 536.5,626.6 536.8,619.1 537,619.8 537.3,627.7 537.6,618 537.8,622.9 538.1,618.3 538.4,619.6 538.6,622.8 538.9,623.9 539.2,626.2 539.4,621.6 539.7,627.8 539.9,624.6 540.2,620.6 540.5,621.8 540.7,623.5 541,623 541.3,623.2 541.5,621.4 541.8,619.7 542.1,616.5 542.3,617.3 542.6,627.8 542.9,625.7 543.1,623.9 543.4,622.1 543.7,620.6 543.9,623.3 544.2,618.5 544.5,626.5 544.7,620.6 545,622.2 545.3,621.1 545.5,632.2 545.8,622.9 546.1,626.1 546.3,627.3 546.6,619.5 546.9,621.3 547.1,619.5 547.4,625.1 547.7,622.1 547.9,619.8 548.2,620.9 548.5,621.2 548.7,627 549,620.6 549.3,621.1 549.5,622.7 549.8,625.7 550.1,622 550.3,622.3 550.6,627.7 550.9,620.5 551.1,623 551.4,624.7 551.7,616.5 551.9,620.5 552.2,625.5 552.5,621.9 552.7,627.6 553,621.9 553.3,630 553.5,622.1 553.8,624.9 554.1,627.6 554.3,624.3 554.6,621.8 554.9,616.8 555.1,626.3 555.4,619.9 555.7,618.3 555.9,622.3 556.2,622.6 556.5,628.9 556.7,620 557,626.4 557.3,621.5 557.5,621 557.8,623.2 558.1,618.4 558.3,621.4 558.6,629.2 558.9,611 559.1,626.7 559.4,616.9 559.7,624.2 559.9,619.2 560.2,625 560.5,620.5 560.7,626.6 561,624.3 561.3,622.9 561.5,622.3 561.8,620.8 562.1,619.6 562.3,624 562.6,628.8 562.9,623.6 563.1,620.2 563.4,625.5 563.7,624.3 563.9,640.2 564.2,619.2 564.5,629.5 564.7,628.9 565,622.5 565.3,626.6 565.5,623.2 565.8,621.7 566.1,623.1 566.3,625.4 566.6,620.4 566.9,625.8 567.1,624.3 567.4,614.7 567.7,621.2 567.9,623.2 568.2,621 568.5,623.3 568.7,618.6 569,627.8 569.3,615.8 569.5,622.8 569.8,619.7 570,622.1 570.3,621.9 570.6,623.8 570.8,622.9 571.1,624 571.4,627.4 571.6,626.1 571.9,624.1 572.2,620.2 572.4,616.4 572.7,614.7 573,616.5 573.2,625.1 573.5,627.5 573.8,616.6 574,624.9 574.3,622.1 574.6,630.2 574.8,620.9 575.1,622 575.4,618.9 575.6,627.5 575.9,620.3 576.2,639.3 576.4,626.6 576.7,618 577,623.4 577.2,627.2 577.5,618 577.8,619.4 578,616.5 578.3,622.6 578.6,621.9 578.8,622.7 579.1,626.6 579.4,617.5 579.6,622.2 579.9,621.4 580.2,627.5 580.4,622.9 580.7,628.6 581,632.2 581.2,620.6 581.5,629.4 581.8,624.8 582,621.6 582.3,620.5 582.6,622.7 582.8,622.4 583.1,620.4 583.4,618 583.6,626.5 583.9,630.3 584.2,627.6 584.4,622.8 584.7,622.6 585,629.9 585.2,627.8 585.5,622.9 585.8,621.9 586,626.4 586.3,621.4 586.6,620.5 586.8,621.4 587.1,632.2 587.4,614 587.6,621.2 587.9,630.1 588.2,623.8 588.4,627.2 588.7,619 589,625.6 589.2,621.9 589.5,627 589.8,628.9 590,628 590.3,621.8 590.6,630.8 590.8,623.3 591.1,628.5 591.4,620.2 591.6,625 591.9,621.2 592.2,631.5 592.4,618 592.7,621.9 593,623.1 593.2,629.6 593.5,617.4 593.8,621.3 594,623.6 594.3,630.5 594.6,619.3 594.8,623.9 595.1,617.1 595.4,629.1 595.6,616.9 595.9,621.1 596.2,624.7 596.4,609 596.7,632.2 597,621.4 597.2,621.4 597.5,619.3 597.8,614.9 598,627.1 598.3,620.2 598.6,620.3 598.8,619.4 599.1,624.3 599.4,612.8 599.6,626.5 599.9,617.7 600.2,622.1 600.4,621.3 600.7,621.7 600.9,626.9 601.2,629.2 601.5,624.4 601.7,619.4 602,617.4 602.3,622.7 602.5,622 602.8,614.8 603.1,628.7 603.3,617.4 603.6,629.5 603.9,625.8 604.1,614 604.4,629.3 604.7,622.7 604.9,621.4 605.2,621.7 605.5,625.8 605.7,622 606,626.1 606.3,618.6 606.5,625 606.8,622.1 607.1,619.7 607.3,623.2 607.6,618 607.9,632.2 608.1,627.1 608.4,626.3 608.7,622.5 608.9,627.5 609.2,621.4 609.5,621.3 609.7,626.4 610,625.3 610.3,618.1 610.5,624.9 610.8,618.3 611.1,625.9 611.3,612.8 611.6,620.5 611.9,624 612.1,620.9 612.4,617.4 612.7,626 612.9,618.4 613.2,639 613.5,622.1 613.7,627.1 614,624 614.3,617.4 614.5,622.9 614.8,617 615.1,621.7 615.3,629.3 615.6,623.7 615.9,619.3 616.1,622.6 616.4,618.5 616.7,628.2 616.9,627.1 617.2,625.8 617.5,624.4 617.7,627.8 618,625.5 618.3,624 618.5,625.1 618.8,620.1 619.1,624.3 619.3,627.3 619.6,623.6 619.9,625.1 620.1,619.5 620.4,620.6 620.7,626.9 620.9,624 621.2,621.7 621.5,629.5 621.7,619.8 622,622.8 622.3,621.5 622.5,626.9 622.8,623.7 623.1,637.5 623.3,617 623.6,620.6 623.9,619.2 624.1,624.5 624.4,630.1 624.7,622.7 624.9,630 625.2,623.1 625.5,628.3 625.7,627.5 626,623.5 626.3,623.5 626.5,618 626.8,628.8 627.1,622.2 627.3,606.4 627.6,630.2 627.9,623.9 628.1,620.8 628.4,625.9 628.7,625.6 628.9,620.5 629.2,626.6 629.5,619.8 629.7,625.5 630,622.1 630.3,624.7 630.5,629.9 630.8,628.4 631,619.5 631.3,624.9 631.6,626.5 631.8,621.3 632.1,624.9 632.4,625.8 632.6,624.1 632.9,631.2 633.2,612.7 633.4,624.2 633.7,624.4 634,617.8 634.2,619.9 634.5,620.7 634.8,626.8 635,624.3 635.3,621.1 635.6,620.4 635.8,627.1 636.1,621.4 636.4,622.1 636.6,629.1 636.9,627.3 637.2,617.6 637.4,623.8 637.7,615.8 638,616.5 638.2,621.6 638.5,629.2 638.8,618.3 639,610.1 639.3,621.9 639.6,623.8 639.8,626.1 640.1,624.3 640.4,622 640.6,619.6 640.9,621.2 641.2,628.8 641.4,622.7 641.7,624.5 642,622.5 642.2,620 642.5,622.7 642.8,620.7 643,619.9 643.3,624.6 643.6,622.9 643.8,620.7 644.1,630.8 644.4,619.5 644.6,625.3 644.9,624.9 645.2,623 645.4,621.4 645.7,626.6 646,625.2 646.2,626.5 646.5,623.8 646.8,622.1 647,623.2 647.3,621.1 647.6,620.1 647.8,620.5 648.1,625.6 648.4,618.5 648.6,622.9 648.9,620.5 649.2,618.9 649.4,624.4 649.7,621.6 650,616.6 650.2,628.2 650.5,621.4 650.8,627.7 651,624.3 651.3,624.2 651.6,623.7 651.8,620.4 652.1,622.1 652.4,623.2 652.6,617.9 652.9,624.5 653.2,622.2 653.4,624.3 653.7,623.4 654,616.6 654.2,624.1 654.5,625.1 654.8,618.6 655,625.5 655.3,613.6 655.6,621.5 655.8,624.9 656.1,628.2 656.4,624.8 656.6,625.5 656.9,622.3 657.2,621.1 657.4,622.4 657.7,628 658,628.2 658.2,625.1 658.5,622.9 658.8,623.1 659,618.8 659.3,621.4 659.6,622.9 659.8,622.6 660.1,624.7 660.4,621.1 660.6,625.4 660.9,616.6 661.2,617.1 661.4,619.4 661.7,622.7 661.9,618.6 662.2,616.5 662.5,620.9 662.7,620.2 663,630.2 663.3,625.2 663.5,629.5 663.8,621 664.1,619.3 664.3,619 664.6,624.4 664.9,624.8 665.1,622.5 665.4,610.1 665.7,626.9 665.9,621.2 666.2,623.4 666.5,629.6 666.7,627.7 667,622 667.3,616.1 667.5,624.5 667.8,623.9 668.1,619.1 668.3,624 668.6,621.6 668.9,616.6 669.1,621.6 669.4,625 669.7,620.2 669.9,630.4 670.2,640.9 670.5,626.9 670.7,622.8 671,626.4 671.3,622.5 671.5,628.9 671.8,623.9 672.1,625.4 672.3,614.2 672.6,606.4 672.9,617.8 673.1,623.2 673.4,615.1 673.7,631.2 673.9,621.6 674.2,623.1 674.5,611.6 674.7,618 675,623.2 675.3,627.6 675.5,617.1 675.8,628 676.1,676.9 676.3,622.5 676.6,634.9 676.9,575.7 677.1,630.9 677.4,620.8 677.7,628 677.9,705.1 678.2,614.6 678.5,621.8 678.7,621 679,592.2 679.3,611.1 679.5,646.7 679.8,621 680.1,628 680.3,632.5 680.6,618 680.9,620.6 681.1,622 681.4,628 681.7,628.2 681.9,640.9 682.2,625.9 682.5,610.1 682.7,627.9 683,626.7 683.3,621.1 683.5,622.2 683.8,623.5 684.1,622.9 684.3,612.4 684.6,624.1 684.9,626.7 685.1,625 685.4,631.2 685.7,623.7 685.9,626.8 686.2,622.6 686.5,623.9 686.7,623.8 687,621.5 687.3,616.4 687.5,620.9 687.8,610.7 688.1,622.4 688.3,639.5 688.6,630.3 688.9,624.9 689.1,615.6 689.4,619.6 689.7,625.8 689.9,615.5 690.2,627.7 690.5,620.3 690.7,624.2 691,618.4 691.3,617.2 691.5,627.4 691.8,622.6 692.1,609.4 692.3,624 692.6,624.7 692.8,616 693.1,630.2 693.4,623 693.6,620.5 693.9,618.1 694.2,625.3 694.4,616.3 694.7,618 695,626.2 695.2,592.2 695.5,627.8 695.8,621.7 696,623.7 696.3,630.5 696.6,621.6 696.8,626 697.1,620.4 697.4,616.3 697.6,624.2 697.9,633.5 698.2,616.6 698.4,628 698.7,621 699,620.2 699.2,622 699.5,628.7 699.8,617.7 700,618.9 700.3,627.8 700.6,620.5 700.8,614 701.1,626.9 701.4,621.5 701.6,629.7 701.9,619.7 702.2,623.9 702.4,623.5 702.7,622.5 703,627.5 703.2,621.9 703.5,629.7 703.8,632.1 704,621.9 704.3,623.6 704.6,625 704.8,622.9 705.1,627.4 705.4,624.6 705.6,626.9 705.9,625.4 706.2,625.7 706.4,624.5 706.7,623.9 707,629.7 707.2,623.2 707.5,620.7 707.8,620.7 708,619 708.3,624.8 708.6,610.1 708.8,630.2 709.1,625.1 709.4,625.7 709.6,629 709.9,625.7 710.2,623.4 710.4,625.7 710.7,621.1 711,621.3 711.2,621.9 711.5,620.5 711.8,617.5 712,620.1 712.3,627.5 712.6,619.7 712.8,622.7 713.1,621.7 713.4,623.5 713.6,633.5 713.9,618.5 714.2,625.4 714.4,620.4 714.7,621.9 715,624.1 715.2,622 715.5,620.5 715.8,630.2 716,630.3 716.3,626.4 716.6,621.9 716.8,610.1 717.1,622.2 717.4,622.4 717.6,612.9 717.9,619.5 718.2,626.5 718.4,628.6 718.7,626.1 719,617.8 719.2,619.5 719.5,630.2 719.8,626.8 720,624.4 720.3,626.7 720.6,614.6 720.8,606.4 721.1,623.6 721.4,612.8 721.6,619.2 721.9,623.4 722.2,621.3 722.4,627.7 722.7,626 722.9,627.1 723.2,611.7 723.5,624.5 723.7,631.4 724,616.9 724.3,615.2 724.5,634.7 724.8,616.9 725.1,627.2 725.3,618.7 725.6,626 725.9,612.6 726.1,626.9 726.4,623.9 726.7,600.6 726.9,618.7 727.2,622 727.5,622.5 727.7,614.1 728,618.9 728.3,628.4 728.5,621.1 728.8,626 729.1,651.6 729.3,617.7 729.6,609.8 729.9,626.3 730.1,617.6 730.4,624.8 730.7,622.1 730.9,626.3 731.2,629.8 731.5,617.5 731.7,629.7 732,615.6 732.3,621.8 732.5,617 732.8,620.3 733.1,630.2 733.3,616.7 733.6,621.1 733.9,616.6 734.1,626 734.4,624 734.7,620.1 734.9,626.3 735.2,622.9 735.5,620 735.7,627.8 736,626.9 736.3,625.1 736.5,623.5 736.8,627.7 737.1,623.5 737.3,617.7 737.6,625.1 737.9,617.8 738.1,629 738.4,619 738.7,621.8 738.9,617.9 739.2,625.4 739.5,624 739.7,617.5 740,628.8 740.3,622.9 740.5,626.3 740.8,630.8 741.1,629.9 741.3,626.4 741.6,620.2 741.9,626.4 742.1,622.4 742.4,623.5 742.7,624.9 742.9,622.2 743.2,619.7 743.5,624 743.7,625.1 744,621.9 744.3,622.2 744.5,626 744.8,622.1 745.1,623 745.3,623.5 745.6,620.9 745.9,623.8 746.1,623.6 746.4,623.3 746.7,625.7 746.9,621 747.2,625.5 747.5,623.4 747.7,617.5 748,624.5 748.3,624.7 748.5,627.3 748.8,622.9 749.1,620.4 749.3,619.2 749.6,619.6 749.9,625.9 750.1,624.3 750.4,620.5 750.7,623.9 750.9,622.5 751.2,622.5 751.5,625.6 751.7,624.5 752,623.9 752.3,624.5 752.5,628.4 752.8,623.8 753.1,621.6 753.3,621.9 753.6,623.7 753.8,625.6 754.1,624.8 754.4,620.3 754.6,625.3 754.9,624.1 755.2,620.8 755.4,625.8 755.7,612.7 756,629.8 756.2,622.7 756.5,623.1 756.8,626.1 757,634.7 757.3,625.6 757.6,628 757.8,625.5 758.1,617.7 758.4,623.8 758.6,620.5 758.9,623.1 759.2,619.9 759.4,620.2 759.7,620.8 760,623 760.2,618.8 760.5,616.7 760.8,624.9 761,622.8 761.3,615.6 761.6,622.5 761.8,620 762.1,622.7 762.4,622.1 762.6,621.2 762.9,618.2 763.2,618 763.4,623.3 763.7,627.5 764,620.1 764.2,624.2 764.5,626.6 764.8,620.4 765,615.6 765.3,623.4 765.6,633.5 765.8,621.5 766.1,627.6 766.4,622.3 766.6,619.3 766.9,622.1 767.2,620.6 767.4,623.9 767.7,615.1 768,623.8 768.2,621.3 768.5,617.4 768.8,626.2 769,625.4 769.3,625.6 769.6,622.4 769.8,616.1 770.1,613.6 770.4,623.2 770.6,624.9 770.9,627.3 771.2,624 771.4,621.3 771.7,625.8 772,616.7 772.2,623.3 772.5,623.5 772.8,623 773,618.2 773.3,617.7 773.6,618.6 773.8,614.6 774.1,619.6 774.4,627.5 774.6,615.3 774.9,623.1 775.2,622.6 775.4,617.9 775.7,621.9 776,628.6 776.2,623.4 776.5,618.6 776.8,629.6 777,624.7 777.3,623.4 777.6,621.7 777.8,607.8 778.1,627.1 778.4,625.3 778.6,617 778.9,619.3 779.2,624.4 779.4,622.2 779.7,615.8 780,617.6 780.2,625.6 780.5,626.9 780.8,624.1 781,626 781.3,624.2 781.6,620.9 781.8,624.3 782.1,622.6 782.4,616.6 782.6,624.3 782.9,625.2 783.2,622.1 783.4,620.1 783.7,628.2 784,622.7 784.2,627.1 784.5,620.9 784.7,620.9 785,621.9 785.3,626.5 785.5,621.7 785.8,624.5 786.1,621.9 786.3,627.3 786.6,608.8 786.9,623.6 787.1,622.3 787.4,622.9 787.7,620.9 787.9,621.5 788.2,618.3 788.5,626.8 788.7,627.5 789,623.9 789.3,622.4 789.5,629.2 789.8,623.4 790.1,627.2 790.3,619.6 790.6,618.8 790.9,622.9 791.1,625.2 791.4,623.8 791.7,622 791.9,622.3 792.2,622.9 792.5,619.5 792.7,631.7 793,626.2 793.3,622.7 793.5,622.2 793.8,624 794.1,625.7 794.3,622.1 794.6,621.6 794.9,618.8 795.1,624.6 795.4,624.9 795.7,623.8 795.9,620.1 796.2,627.4 796.5,620.9 796.7,618 797,624.4 797.3,626.3 797.5,617.7 797.8,623 798.1,626.9 798.3,623.3 798.6,624.1 798.9,616.6 799.1,622.6 799.4,621.8" fill="none" stroke="#3f0000" stroke-width="1.7" stroke-linejoin="round" stroke-linecap="round"/>
</g>
</svg>
</body></html>
